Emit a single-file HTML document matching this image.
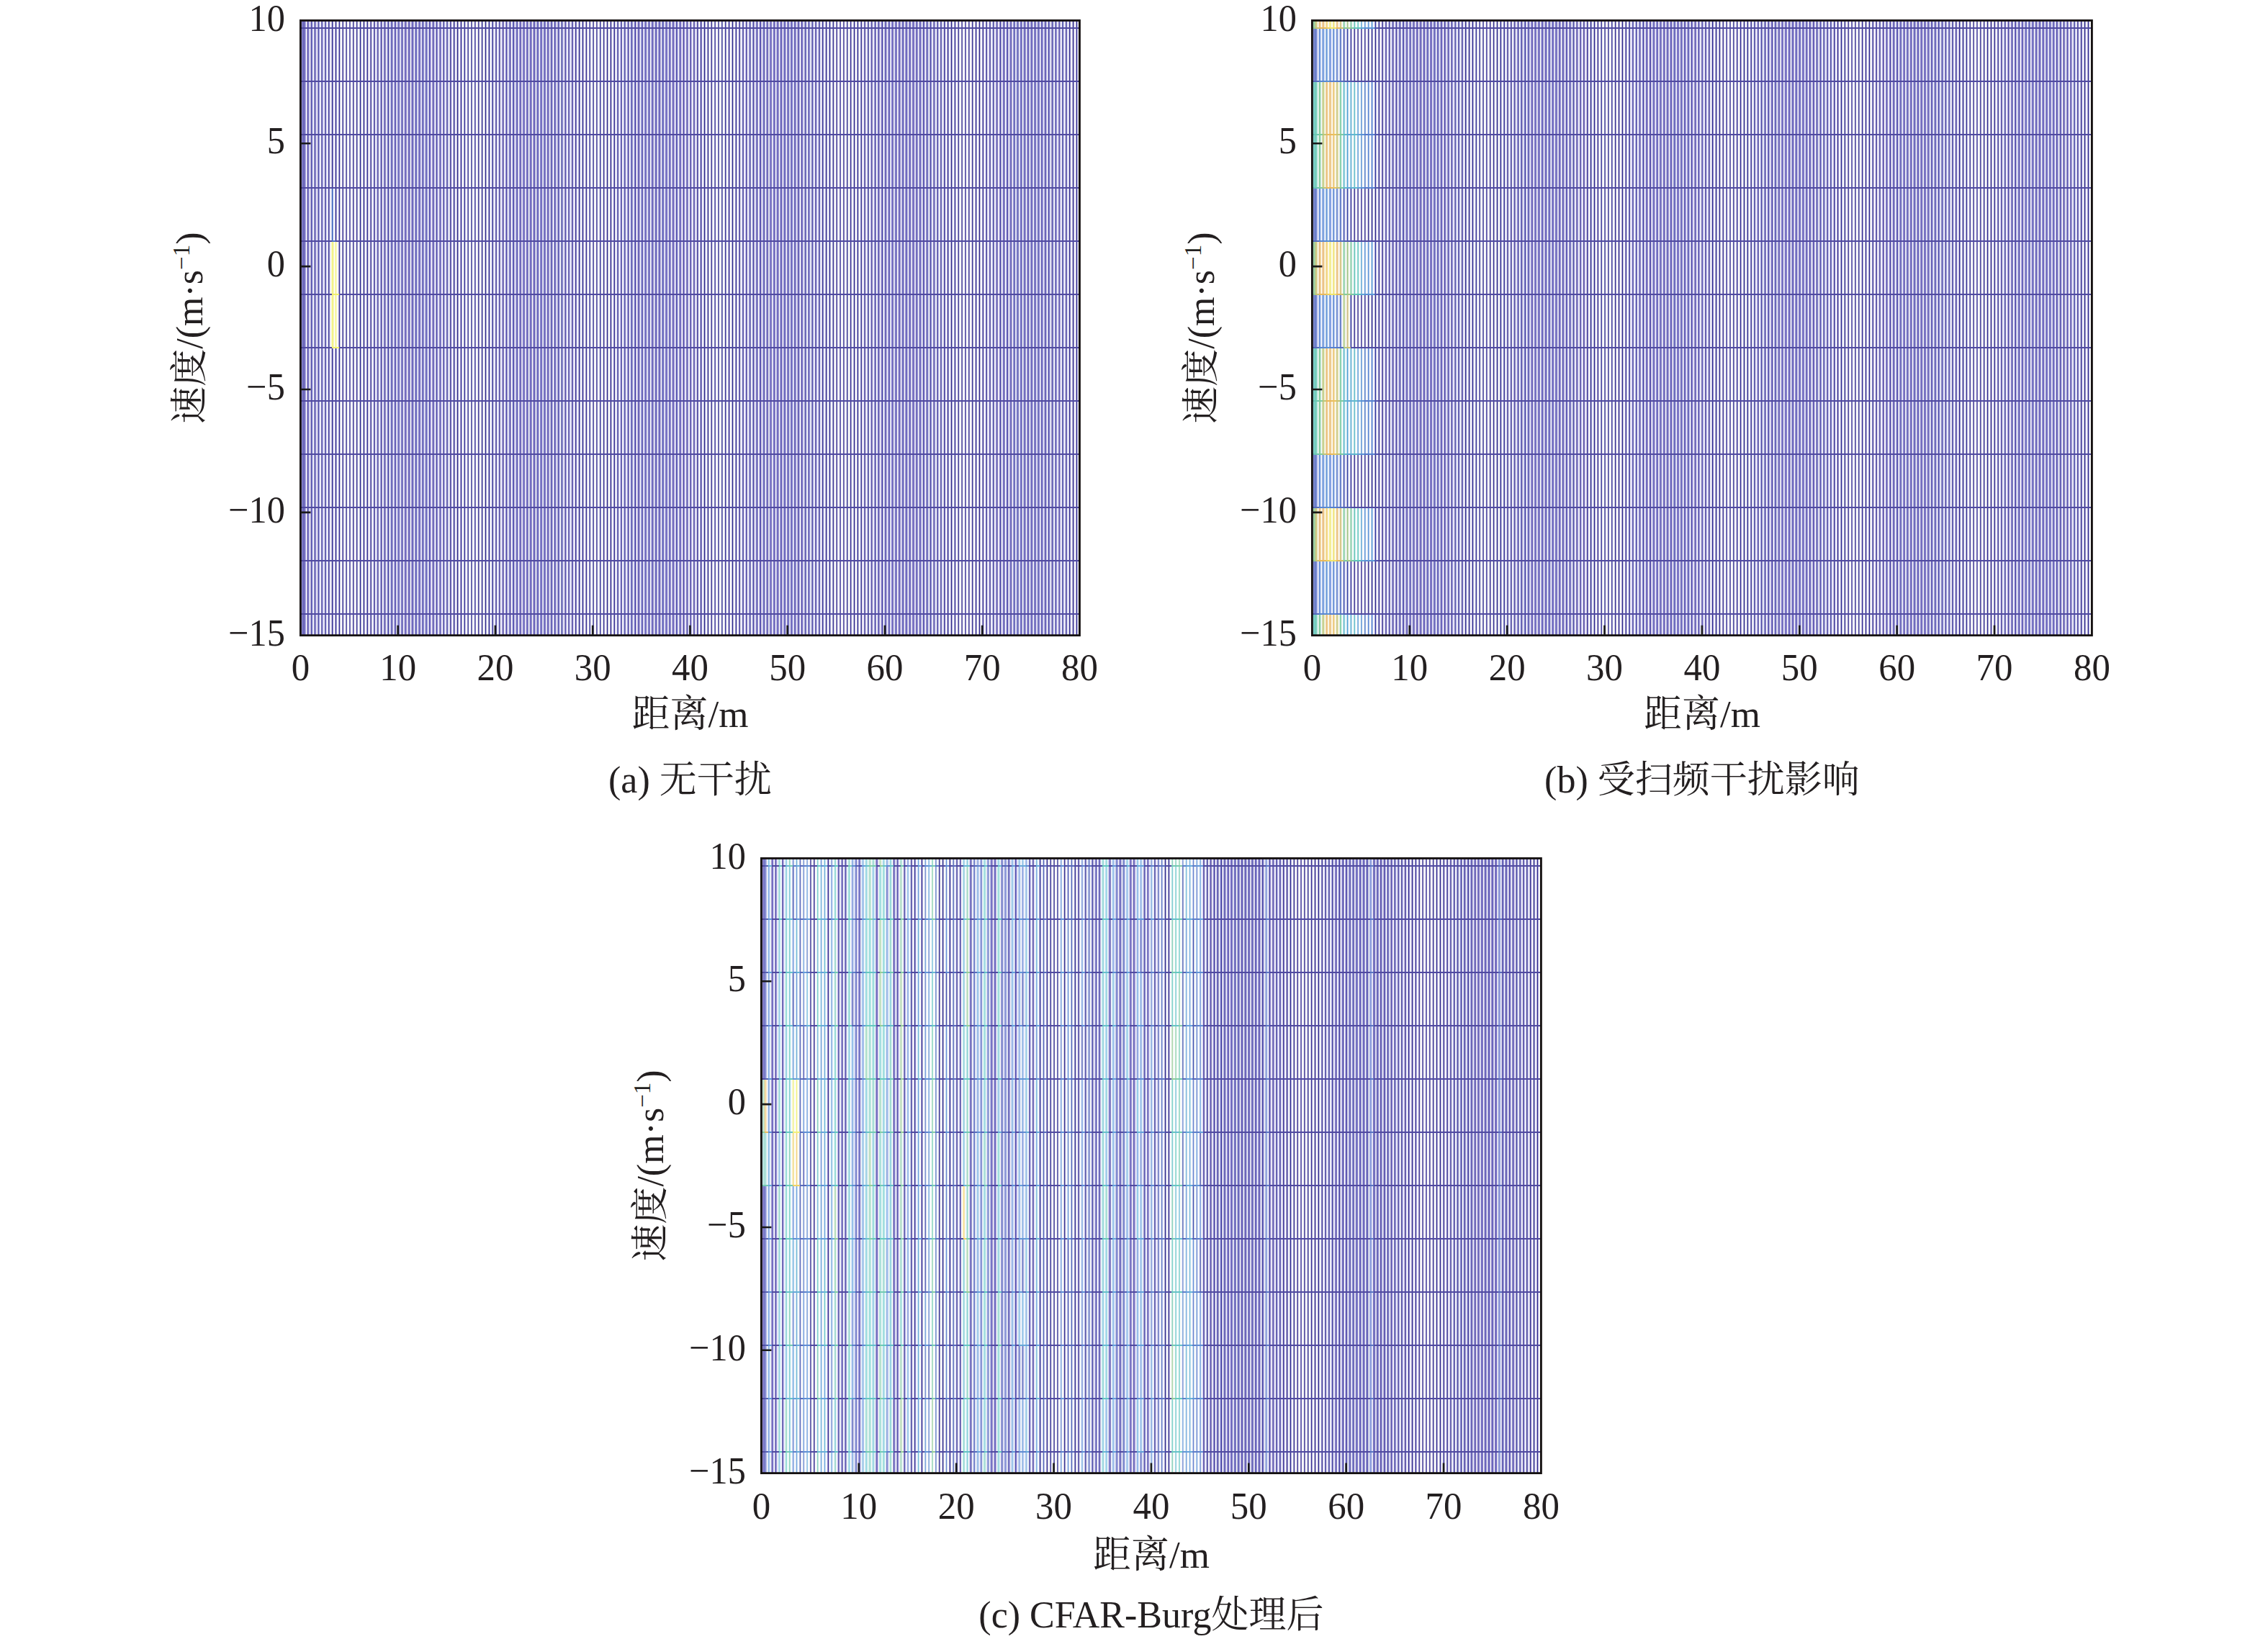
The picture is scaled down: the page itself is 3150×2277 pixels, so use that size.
<!DOCTYPE html>
<html lang="zh"><head><meta charset="utf-8"><title>figure</title>
<style>
html,body{margin:0;padding:0;background:#fff}
body{width:3150px;height:2277px;overflow:hidden}
.t text{font-family:"Liberation Serif","Noto Serif CJK SC",serif;font-size:53px;fill:#231f20}
</style></head><body>
<svg width="3150" height="2277" viewBox="0 0 3150 2277" style="display:block">
<rect width="3150" height="2277" fill="#fff"/>
<g shape-rendering="crispEdges"><path fill="#fcfcfc" d="M417 28h1v855h-1zM430 28h1v855h-1zM435 28h1v855h-1zM440 28h1v855h-1zM445 28h1v855h-1zM459 28h1v307h-1zM459 483h1v400h-1zM464 28h1v855h-1zM468 335h1v148h-1zM469 28h1v855h-1zM473 28h1v855h-1zM474 28h1v855h-1zM478 28h1v855h-1zM479 28h1v855h-1zM483 28h1v855h-1zM487 28h1v855h-1zM488 28h1v855h-1zM492 28h1v855h-1zM493 28h1v855h-1zM497 28h1v855h-1zM498 28h1v855h-1zM502 28h1v855h-1zM503 28h1v855h-1zM507 28h1v855h-1zM512 28h1v855h-1zM526 28h1v855h-1zM531 28h1v855h-1zM536 28h1v855h-1zM541 28h1v855h-1zM565 28h1v855h-1zM570 28h1v855h-1zM575 28h1v855h-1zM599 28h1v855h-1zM604 28h1v855h-1zM609 28h1v855h-1zM614 28h1v855h-1zM628 28h1v855h-1zM633 28h1v855h-1zM638 28h1v855h-1zM642 28h1v855h-1zM643 28h1v855h-1zM647 28h1v855h-1zM648 28h1v855h-1zM652 28h1v855h-1zM653 28h1v855h-1zM656 28h1v855h-1zM657 28h1v855h-1zM661 28h1v855h-1zM662 28h1v855h-1zM666 28h1v855h-1zM667 28h1v855h-1zM671 28h1v855h-1zM672 28h1v855h-1zM676 28h1v855h-1zM681 28h1v855h-1zM695 28h1v855h-1zM700 28h1v855h-1zM705 28h1v855h-1zM710 28h1v855h-1zM734 28h1v855h-1zM739 28h1v855h-1zM744 28h1v855h-1zM749 28h1v855h-1zM768 28h1v855h-1zM773 28h1v855h-1zM778 28h1v855h-1zM783 28h1v855h-1zM802 28h1v855h-1zM807 28h1v855h-1zM812 28h1v855h-1zM816 28h1v855h-1zM817 28h1v855h-1zM821 28h1v855h-1zM822 28h1v855h-1zM826 28h1v855h-1zM830 28h1v855h-1zM831 28h1v855h-1zM835 28h1v855h-1zM836 28h1v855h-1zM840 28h1v855h-1zM841 28h1v855h-1zM845 28h1v855h-1zM846 28h1v855h-1zM850 28h1v855h-1zM855 28h1v855h-1zM869 28h1v855h-1zM874 28h1v855h-1zM879 28h1v855h-1zM884 28h1v855h-1zM903 28h1v855h-1zM908 28h1v855h-1zM913 28h1v855h-1zM918 28h1v855h-1zM942 28h1v855h-1zM947 28h1v855h-1zM952 28h1v855h-1zM957 28h1v855h-1zM971 28h1v855h-1zM976 28h1v855h-1zM981 28h1v855h-1zM985 28h1v855h-1zM986 28h1v855h-1zM990 28h1v855h-1zM991 28h1v855h-1zM995 28h1v855h-1zM996 28h1v855h-1zM999 28h1v855h-1zM1000 28h1v855h-1zM1004 28h1v855h-1zM1005 28h1v855h-1zM1009 28h1v855h-1zM1010 28h1v855h-1zM1014 28h1v855h-1zM1015 28h1v855h-1zM1019 28h1v855h-1zM1024 28h1v855h-1zM1038 28h1v855h-1zM1043 28h1v855h-1zM1048 28h1v855h-1zM1053 28h1v855h-1zM1077 28h1v855h-1zM1082 28h1v855h-1zM1087 28h1v855h-1zM1111 28h1v855h-1zM1116 28h1v855h-1zM1121 28h1v855h-1zM1126 28h1v855h-1zM1145 28h1v855h-1zM1150 28h1v855h-1zM1155 28h1v855h-1zM1159 28h1v855h-1zM1160 28h1v855h-1zM1164 28h1v855h-1zM1165 28h1v855h-1zM1169 28h1v855h-1zM1173 28h1v855h-1zM1174 28h1v855h-1zM1178 28h1v855h-1zM1179 28h1v855h-1zM1183 28h1v855h-1zM1184 28h1v855h-1zM1188 28h1v855h-1zM1189 28h1v855h-1zM1193 28h1v855h-1zM1212 28h1v855h-1zM1217 28h1v855h-1zM1222 28h1v855h-1zM1227 28h1v855h-1zM1246 28h1v855h-1zM1251 28h1v855h-1zM1256 28h1v855h-1zM1261 28h1v855h-1zM1285 28h1v855h-1zM1290 28h1v855h-1zM1295 28h1v855h-1zM1300 28h1v855h-1zM1314 28h1v855h-1zM1319 28h1v855h-1zM1324 28h1v855h-1zM1328 28h1v855h-1zM1329 28h1v855h-1zM1333 28h1v855h-1zM1334 28h1v855h-1zM1338 28h1v855h-1zM1342 28h1v855h-1zM1343 28h1v855h-1zM1347 28h1v855h-1zM1348 28h1v855h-1zM1352 28h1v855h-1zM1353 28h1v855h-1zM1357 28h1v855h-1zM1358 28h1v855h-1zM1362 28h1v855h-1zM1367 28h1v855h-1zM1381 28h1v855h-1zM1386 28h1v855h-1zM1391 28h1v855h-1zM1396 28h1v855h-1zM1420 28h1v855h-1zM1425 28h1v855h-1zM1430 28h1v855h-1zM1454 28h1v855h-1zM1459 28h1v855h-1zM1464 28h1v855h-1zM1469 28h1v855h-1zM1488 28h1v855h-1zM1493 28h1v855h-1zM1498 28h1v855h-1z"/>
<path fill="#c6c6e4" d="M418 28h1v855h-1zM472 28h1v855h-1zM545 28h1v855h-1zM579 28h1v855h-1zM595 28h1v855h-1zM680 28h1v855h-1zM972 28h1v855h-1zM1011 28h1v855h-1zM1400 28h1v855h-1zM1434 28h1v855h-1zM1450 28h1v855h-1z"/>
<path fill="#847ecc" d="M419 28h1v855h-1zM423 28h1v855h-1zM597 28h1v855h-1zM731 28h1v855h-1zM926 28h1v855h-1zM1074 28h1v855h-1zM1269 28h1v855h-1z"/>
<path fill="#7872c0" d="M420 28h1v855h-1zM567 28h1v855h-1zM722 28h1v855h-1zM761 28h1v855h-1zM1065 28h1v855h-1zM1098 28h1v855h-1zM1104 28h1v855h-1zM1234 28h1v855h-1zM1264 28h1v855h-1zM1273 28h1v855h-1z"/>
<path fill="#6c6cba" d="M421 28h1v855h-1zM558 28h1v855h-1zM901 28h1v855h-1zM1409 28h1v855h-1zM1413 28h1v855h-1zM1476 28h1v855h-1z"/>
<path fill="#6660b4" d="M422 28h1v855h-1zM447 28h1v855h-1zM723 28h1v855h-1zM760 28h1v855h-1zM959 28h1v855h-1zM1103 28h1v855h-1zM1302 28h1v855h-1zM1471 28h1v855h-1z"/>
<path fill="#a8a8de" d="M424 28h1v855h-1zM612 28h1v855h-1zM890 28h1v855h-1zM1279 28h1v855h-1z"/>
<path fill="#f6f6fc" d="M425 28h1v855h-1zM454 28h1v855h-1zM468 28h1v307h-1zM468 483h1v400h-1zM484 28h1v855h-1zM517 28h1v855h-1zM560 28h1v855h-1zM580 28h1v855h-1zM677 28h1v855h-1zM686 28h1v855h-1zM715 28h1v855h-1zM788 28h1v855h-1zM797 28h1v855h-1zM811 28h1v855h-1zM864 28h1v855h-1zM937 28h1v855h-1zM1020 28h1v855h-1zM1029 28h1v855h-1zM1058 28h1v855h-1zM1072 28h1v855h-1zM1092 28h1v855h-1zM1140 28h1v855h-1zM1154 28h1v855h-1zM1168 28h1v855h-1zM1207 28h1v855h-1zM1280 28h1v855h-1zM1309 28h1v855h-1zM1339 28h1v855h-1zM1363 28h1v855h-1zM1372 28h1v855h-1zM1415 28h1v855h-1zM1435 28h1v855h-1zM1483 28h1v855h-1zM1497 28h1v855h-1z"/>
<path fill="#c0bade" d="M426 28h1v855h-1zM506 28h1v855h-1zM842 28h1v855h-1zM1146 28h1v855h-1zM1361 28h1v855h-1z"/>
<path fill="#4e48a8" d="M427 28h1v855h-1zM432 28h1v855h-1zM596 28h1v855h-1zM601 28h1v855h-1zM703 28h1v855h-1zM770 28h1v855h-1zM939 28h1v855h-1zM944 28h1v855h-1zM1108 28h1v855h-1zM1113 28h1v855h-1zM1215 28h1v855h-1zM1230 28h1v855h-1zM1282 28h1v855h-1zM1451 28h1v855h-1zM1456 28h1v855h-1z"/>
<path fill="#8a84cc" d="M428 28h1v855h-1zM557 28h1v855h-1zM757 28h1v855h-1zM771 28h1v855h-1zM900 28h1v855h-1zM1055 28h1v855h-1zM1114 28h1v855h-1zM1398 28h1v855h-1z"/>
<path fill="#babae4" d="M429 28h1v855h-1zM542 28h1v855h-1zM772 28h1v855h-1zM1078 28h1v855h-1z"/>
<path fill="#aea8d2" d="M431 28h1v855h-1zM709 28h1v855h-1zM1359 28h1v855h-1z"/>
<path fill="#9090d2" d="M433 28h1v855h-1zM538 28h1v855h-1zM588 28h1v855h-1zM1288 28h1v855h-1z"/>
<path fill="#c6c6ea" d="M434 28h1v855h-1zM537 28h1v855h-1zM777 28h1v855h-1zM880 28h1v855h-1zM904 28h1v855h-1zM1289 28h1v855h-1zM1378 28h1v855h-1z"/>
<path fill="#9696cc" d="M436 28h1v855h-1zM1021 28h1v855h-1zM1291 28h1v855h-1zM1317 28h1v855h-1z"/>
<path fill="#544ea8" d="M437 28h1v855h-1zM529 28h1v855h-1zM606 28h1v855h-1zM718 28h1v855h-1zM765 28h1v855h-1zM872 28h1v855h-1zM949 28h1v855h-1zM1041 28h1v855h-1zM1118 28h1v855h-1zM1292 28h1v855h-1zM1384 28h1v855h-1zM1461 28h1v855h-1z"/>
<path fill="#a29cd8" d="M438 28h1v855h-1zM533 28h1v855h-1zM1064 28h1v855h-1zM1388 28h1v855h-1zM1448 28h1v855h-1z"/>
<path fill="#d2d2f0" d="M439 28h1v855h-1zM532 28h1v855h-1zM875 28h1v855h-1zM1204 28h1v855h-1zM1218 28h1v855h-1zM1242 28h1v855h-1zM1294 28h1v855h-1zM1308 28h1v855h-1z"/>
<path fill="#847ec0" d="M441 28h1v855h-1zM559 28h1v855h-1zM969 28h1v855h-1zM1026 28h1v855h-1zM1296 28h1v855h-1zM1312 28h1v855h-1z"/>
<path fill="#5a5aae" d="M442 28h1v855h-1zM867 28h1v855h-1z"/>
<path fill="#aeaee4" d="M443 28h1v855h-1zM1059 28h1v855h-1z"/>
<path fill="#dedef6" d="M444 28h1v855h-1zM527 28h1v855h-1zM687 28h1v855h-1zM870 28h1v855h-1zM956 28h1v855h-1zM970 28h1v855h-1zM1030 28h1v855h-1zM1213 28h1v855h-1zM1299 28h1v855h-1zM1313 28h1v855h-1z"/>
<path fill="#6c6cb4" d="M446 28h1v855h-1zM621 28h1v855h-1zM1031 28h1v855h-1zM1301 28h1v855h-1z"/>
<path fill="#c0c0ea" d="M448 28h1v855h-1zM523 28h1v855h-1zM603 28h1v855h-1zM711 28h1v855h-1zM866 28h1v855h-1zM1303 28h1v855h-1zM1458 28h1v855h-1z"/>
<path fill="#eaeafc" d="M449 28h1v855h-1zM463 28h1v233h-1zM463 483h1v400h-1zM522 28h1v855h-1zM682 28h1v855h-1zM792 28h1v855h-1zM806 28h1v855h-1zM975 28h1v855h-1zM1025 28h1v855h-1zM1318 28h1v855h-1zM1368 28h1v855h-1zM1377 28h1v855h-1z"/>
<path fill="#eaeaf0" d="M450 28h1v855h-1zM1305 28h1v855h-1z"/>
<path fill="#5a54a8" d="M451 28h1v855h-1zM659 28h1v855h-1zM698 28h1v855h-1zM993 28h1v855h-1zM1032 28h1v855h-1zM1210 28h1v855h-1zM1306 28h1v855h-1z"/>
<path fill="#7272ba" d="M452 28h1v855h-1zM1307 28h1v855h-1zM1441 28h1v855h-1z"/>
<path fill="#d2d2f6" d="M453 28h1v855h-1z"/>
<path fill="#d8d8ea" d="M455 28h1v855h-1zM550 28h1v855h-1zM590 28h1v855h-1zM685 28h1v855h-1zM967 28h1v855h-1zM989 28h1v855h-1zM1006 28h1v855h-1zM1310 28h1v855h-1zM1405 28h1v855h-1zM1445 28h1v855h-1z"/>
<path fill="#423c9c" d="M456 28h1v855h-1zM645 28h1v855h-1zM684 28h1v855h-1zM1007 28h1v855h-1zM1311 28h1v855h-1z"/>
<path fill="#8484c0" d="M457 28h1v855h-1zM683 28h1v855h-1zM818 28h1v855h-1zM834 28h1v855h-1zM953 28h1v855h-1zM1042 28h1v855h-1z"/>
<path fill="#e4def6" d="M458 28h1v307h-1zM458 483h1v400h-1zM1382 28h1v855h-1z"/>
<path fill="#e4e4f6" d="M458 335h1v148h-1zM551 28h1v855h-1zM585 28h1v855h-1zM589 28h1v855h-1zM618 28h1v855h-1zM696 28h1v855h-1zM787 28h1v855h-1zM801 28h1v855h-1zM894 28h1v855h-1zM1039 28h1v855h-1zM1101 28h1v855h-1zM1130 28h1v855h-1zM1237 28h1v855h-1zM1440 28h1v855h-1zM1444 28h1v855h-1zM1473 28h1v855h-1z"/>
<path fill="#f6f6f6" d="M459 335h1v148h-1zM825 28h1v855h-1z"/>
<path fill="#c6c6de" d="M460 28h1v233h-1zM460 483h1v400h-1zM1192 28h1v855h-1z"/>
<path fill="#c6d2ea" d="M460 261h1v74h-1z"/>
<path fill="#fcfcc6" d="M460 335h1v148h-1zM465 335h1v148h-1z"/>
<path fill="#302a90" d="M461 28h1v233h-1zM461 483h1v400h-1zM500 28h1v855h-1zM640 28h1v855h-1zM679 28h1v855h-1zM809 28h1v855h-1zM973 28h1v855h-1zM1012 28h1v855h-1zM1152 28h1v855h-1zM1191 28h1v855h-1zM1316 28h1v855h-1zM1355 28h1v855h-1zM1495 28h1v855h-1z"/>
<path fill="#305aba" d="M461 261h1v74h-1z"/>
<path fill="#f0f084" d="M461 335h1v148h-1zM466 335h1v148h-1z"/>
<path fill="#9c96cc" d="M462 28h1v233h-1zM462 483h1v400h-1zM948 28h1v855h-1zM1047 28h1v855h-1z"/>
<path fill="#9caede" d="M462 261h1v74h-1z"/>
<path fill="#f6f690" d="M462 335h1v148h-1z"/>
<path fill="#eaf0fc" d="M463 261h1v74h-1z"/>
<path fill="#f6f6c0" d="M463 335h1v148h-1z"/>
<path fill="#b4aed8" d="M465 28h1v307h-1zM465 483h1v400h-1zM600 28h1v855h-1zM810 28h1v855h-1zM1187 28h1v855h-1zM1320 28h1v855h-1z"/>
<path fill="#302a8a" d="M466 28h1v307h-1zM466 483h1v400h-1zM505 28h1v855h-1zM635 28h1v855h-1zM674 28h1v855h-1zM804 28h1v855h-1zM843 28h1v855h-1zM848 28h1v855h-1zM978 28h1v855h-1zM1017 28h1v855h-1zM1147 28h1v855h-1zM1186 28h1v855h-1zM1321 28h1v855h-1zM1360 28h1v855h-1zM1490 28h1v855h-1z"/>
<path fill="#aeaed8" d="M467 28h1v307h-1zM467 483h1v400h-1zM743 28h1v855h-1zM943 28h1v855h-1zM1016 28h1v855h-1zM1052 28h1v855h-1zM1322 28h1v855h-1z"/>
<path fill="#fcfccc" d="M467 335h1v148h-1z"/>
<path fill="#9c9ccc" d="M470 28h1v855h-1zM605 28h1v855h-1zM678 28h1v855h-1zM1182 28h1v855h-1zM1325 28h1v855h-1zM1390 28h1v855h-1z"/>
<path fill="#3c3096" d="M471 28h1v855h-1zM1181 28h1v855h-1z"/>
<path fill="#8a84c0" d="M475 28h1v855h-1zM530 28h1v855h-1zM610 28h1v855h-1zM1330 28h1v855h-1zM1385 28h1v855h-1z"/>
<path fill="#4e489c" d="M476 28h1v855h-1zM515 28h1v855h-1zM625 28h1v855h-1zM1176 28h1v855h-1zM1331 28h1v855h-1zM1370 28h1v855h-1z"/>
<path fill="#dedef0" d="M477 28h1v855h-1zM516 28h1v855h-1zM725 28h1v855h-1zM758 28h1v855h-1zM759 28h1v855h-1zM1068 28h1v855h-1zM1175 28h1v855h-1zM1236 28h1v855h-1zM1270 28h1v855h-1zM1271 28h1v855h-1zM1332 28h1v855h-1zM1371 28h1v855h-1z"/>
<path fill="#7872b4" d="M480 28h1v855h-1zM525 28h1v855h-1zM1172 28h1v855h-1zM1335 28h1v855h-1z"/>
<path fill="#605aa8" d="M481 28h1v855h-1zM520 28h1v855h-1zM824 28h1v855h-1zM828 28h1v855h-1zM963 28h1v855h-1zM1171 28h1v855h-1zM1336 28h1v855h-1zM1375 28h1v855h-1z"/>
<path fill="#f0f0f6" d="M482 28h1v855h-1zM521 28h1v855h-1zM619 28h1v855h-1zM729 28h1v855h-1zM763 28h1v855h-1zM1033 28h1v855h-1zM1131 28h1v855h-1zM1170 28h1v855h-1zM1241 28h1v855h-1zM1266 28h1v855h-1zM1337 28h1v855h-1zM1376 28h1v855h-1zM1474 28h1v855h-1z"/>
<path fill="#6660ae" d="M485 28h1v855h-1zM693 28h1v855h-1zM863 28h1v855h-1zM1132 28h1v855h-1zM1167 28h1v855h-1zM1205 28h1v855h-1zM1340 28h1v855h-1z"/>
<path fill="#726cb4" d="M486 28h1v855h-1zM688 28h1v855h-1zM958 28h1v855h-1zM1037 28h1v855h-1zM1166 28h1v855h-1zM1341 28h1v855h-1z"/>
<path fill="#e4e4f0" d="M489 28h1v855h-1zM793 28h1v855h-1zM820 28h1v855h-1zM832 28h1v855h-1zM859 28h1v855h-1zM928 28h1v855h-1zM1067 28h1v855h-1zM1163 28h1v855h-1zM1344 28h1v855h-1z"/>
<path fill="#544ea2" d="M490 28h1v855h-1zM794 28h1v855h-1zM1162 28h1v855h-1zM1201 28h1v855h-1zM1345 28h1v855h-1z"/>
<path fill="#847eba" d="M491 28h1v855h-1zM699 28h1v855h-1zM1161 28h1v855h-1zM1346 28h1v855h-1z"/>
<path fill="#d8d2ea" d="M494 28h1v855h-1zM1197 28h1v855h-1zM1349 28h1v855h-1z"/>
<path fill="#423c96" d="M495 28h1v855h-1zM1157 28h1v855h-1zM1196 28h1v855h-1zM1350 28h1v855h-1z"/>
<path fill="#9696c6" d="M496 28h1v855h-1zM704 28h1v855h-1zM1156 28h1v855h-1zM1351 28h1v855h-1z"/>
<path fill="#c0c0de" d="M499 28h1v855h-1zM714 28h1v855h-1zM803 28h1v855h-1zM849 28h1v855h-1zM984 28h1v855h-1zM1281 28h1v855h-1z"/>
<path fill="#a8a8d2" d="M501 28h1v855h-1zM504 28h1v855h-1zM1151 28h1v855h-1zM1356 28h1v855h-1z"/>
<path fill="#f0f0fc" d="M508 28h1v855h-1zM546 28h1v855h-1zM594 28h1v855h-1zM623 28h1v855h-1zM637 28h1v855h-1zM691 28h1v855h-1zM851 28h1v855h-1zM860 28h1v855h-1zM889 28h1v855h-1zM923 28h1v855h-1zM966 28h1v855h-1zM980 28h1v855h-1zM1106 28h1v855h-1zM1135 28h1v855h-1zM1149 28h1v855h-1zM1194 28h1v855h-1zM1203 28h1v855h-1zM1232 28h1v855h-1zM1323 28h1v855h-1zM1449 28h1v855h-1zM1478 28h1v855h-1zM1492 28h1v855h-1z"/>
<path fill="#9090c6" d="M509 28h1v855h-1zM631 28h1v855h-1zM644 28h1v855h-1zM779 28h1v855h-1zM1008 28h1v855h-1zM1216 28h1v855h-1z"/>
<path fill="#3c3696" d="M510 28h1v855h-1zM799 28h1v855h-1zM814 28h1v855h-1zM838 28h1v855h-1zM853 28h1v855h-1zM1142 28h1v855h-1zM1326 28h1v855h-1zM1365 28h1v855h-1z"/>
<path fill="#d2cce4" d="M511 28h1v855h-1zM1141 28h1v855h-1zM1366 28h1v855h-1z"/>
<path fill="#eae4fc" d="M513 28h1v855h-1zM632 28h1v855h-1z"/>
<path fill="#7e78ba" d="M514 28h1v855h-1zM649 28h1v855h-1zM660 28h1v855h-1zM784 28h1v855h-1zM1211 28h1v855h-1z"/>
<path fill="#d8d8f6" d="M518 28h1v855h-1zM1139 28h1v855h-1zM1482 28h1v855h-1z"/>
<path fill="#6c66b4" d="M519 28h1v855h-1zM790 28h1v855h-1zM1066 28h1v855h-1zM1133 28h1v855h-1zM1374 28h1v855h-1z"/>
<path fill="#605aae" d="M524 28h1v855h-1zM620 28h1v855h-1zM785 28h1v855h-1zM892 28h1v855h-1zM1036 28h1v855h-1zM1128 28h1v855h-1zM1297 28h1v855h-1zM1379 28h1v855h-1z"/>
<path fill="#aeaede" d="M528 28h1v855h-1zM871 28h1v855h-1zM1110 28h1v855h-1zM1298 28h1v855h-1zM1402 28h1v855h-1zM1453 28h1v855h-1z"/>
<path fill="#4e48a2" d="M534 28h1v855h-1zM819 28h1v855h-1zM833 28h1v855h-1zM858 28h1v855h-1zM1046 28h1v855h-1zM1480 28h1v855h-1z"/>
<path fill="#a29ccc" d="M535 28h1v855h-1zM1460 28h1v855h-1z"/>
<path fill="#4842a2" d="M539 28h1v855h-1zM544 28h1v855h-1zM708 28h1v855h-1zM877 28h1v855h-1zM887 28h1v855h-1zM1051 28h1v855h-1zM1220 28h1v855h-1zM1389 28h1v855h-1zM1399 28h1v855h-1z"/>
<path fill="#b4b4d8" d="M540 28h1v855h-1zM673 28h1v855h-1zM675 28h1v855h-1zM977 28h1v855h-1zM1395 28h1v855h-1zM1455 28h1v855h-1z"/>
<path fill="#8484cc" d="M543 28h1v855h-1zM940 28h1v855h-1zM1243 28h1v855h-1zM1283 28h1v855h-1z"/>
<path fill="#aea8de" d="M547 28h1v855h-1zM767 28h1v855h-1zM955 28h1v855h-1zM1214 28h1v855h-1z"/>
<path fill="#7e78c6" d="M548 28h1v855h-1zM562 28h1v855h-1zM583 28h1v855h-1zM905 28h1v855h-1zM935 28h1v855h-1zM1060 28h1v855h-1zM1248 28h1v855h-1zM1278 28h1v855h-1zM1403 28h1v855h-1zM1438 28h1v855h-1z"/>
<path fill="#5a54ae" d="M549 28h1v855h-1zM611 28h1v855h-1zM934 28h1v855h-1zM954 28h1v855h-1zM1123 28h1v855h-1zM1277 28h1v855h-1zM1404 28h1v855h-1zM1466 28h1v855h-1z"/>
<path fill="#9c96d8" d="M552 28h1v855h-1zM607 28h1v855h-1zM762 28h1v855h-1zM950 28h1v855h-1zM1219 28h1v855h-1z"/>
<path fill="#7272c0" d="M553 28h1v855h-1zM578 28h1v855h-1zM587 28h1v855h-1zM910 28h1v855h-1zM921 28h1v855h-1zM930 28h1v855h-1zM1253 28h1v855h-1zM1408 28h1v855h-1zM1442 28h1v855h-1z"/>
<path fill="#726cba" d="M554 28h1v855h-1zM586 28h1v855h-1zM897 28h1v855h-1zM929 28h1v855h-1zM964 28h1v855h-1z"/>
<path fill="#eaeaf6" d="M555 28h1v855h-1zM651 28h1v855h-1zM658 28h1v855h-1zM690 28h1v855h-1zM720 28h1v855h-1zM754 28h1v855h-1zM865 28h1v855h-1zM898 28h1v855h-1zM932 28h1v855h-1zM961 28h1v855h-1zM962 28h1v855h-1zM1001 28h1v855h-1zM1063 28h1v855h-1zM1097 28h1v855h-1zM1208 28h1v855h-1zM1275 28h1v855h-1zM1304 28h1v855h-1zM1410 28h1v855h-1z"/>
<path fill="#d8d8f0" d="M556 28h1v855h-1zM584 28h1v855h-1zM701 28h1v855h-1zM899 28h1v855h-1zM927 28h1v855h-1zM1044 28h1v855h-1zM1102 28h1v855h-1zM1125 28h1v855h-1zM1411 28h1v855h-1zM1439 28h1v855h-1zM1468 28h1v855h-1z"/>
<path fill="#ccc6ea" d="M561 28h1v855h-1zM1416 28h1v855h-1z"/>
<path fill="#6c66ba" d="M563 28h1v855h-1zM568 28h1v855h-1zM573 28h1v855h-1zM732 28h1v855h-1zM737 28h1v855h-1zM742 28h1v855h-1zM906 28h1v855h-1zM911 28h1v855h-1zM916 28h1v855h-1zM1075 28h1v855h-1zM1080 28h1v855h-1zM1085 28h1v855h-1zM1244 28h1v855h-1zM1249 28h1v855h-1zM1254 28h1v855h-1zM1272 28h1v855h-1zM1418 28h1v855h-1zM1423 28h1v855h-1zM1428 28h1v855h-1z"/>
<path fill="#9690cc" d="M564 28h1v855h-1zM576 28h1v855h-1zM907 28h1v855h-1zM974 28h1v855h-1z"/>
<path fill="#bab4de" d="M566 28h1v855h-1zM917 28h1v855h-1zM1112 28h1v855h-1z"/>
<path fill="#a2a2d2" d="M569 28h1v855h-1zM878 28h1v855h-1zM1117 28h1v855h-1zM1190 28h1v855h-1zM1424 28h1v855h-1z"/>
<path fill="#a8a2d8" d="M571 28h1v855h-1zM912 28h1v855h-1zM1426 28h1v855h-1z"/>
<path fill="#726cc0" d="M572 28h1v855h-1zM582 28h1v855h-1zM727 28h1v855h-1zM741 28h1v855h-1zM747 28h1v855h-1zM751 28h1v855h-1zM756 28h1v855h-1zM896 28h1v855h-1zM915 28h1v855h-1zM925 28h1v855h-1zM1070 28h1v855h-1zM1084 28h1v855h-1zM1090 28h1v855h-1zM1094 28h1v855h-1zM1099 28h1v855h-1zM1239 28h1v855h-1zM1258 28h1v855h-1zM1263 28h1v855h-1zM1268 28h1v855h-1zM1427 28h1v855h-1zM1432 28h1v855h-1zM1433 28h1v855h-1zM1437 28h1v855h-1z"/>
<path fill="#b4b4de" d="M574 28h1v855h-1zM909 28h1v855h-1zM1153 28h1v855h-1zM1429 28h1v855h-1z"/>
<path fill="#6c6cc0" d="M577 28h1v855h-1zM746 28h1v855h-1zM920 28h1v855h-1zM1089 28h1v855h-1z"/>
<path fill="#847ec6" d="M581 28h1v855h-1zM886 28h1v855h-1zM902 28h1v855h-1zM924 28h1v855h-1zM1109 28h1v855h-1zM1229 28h1v855h-1zM1452 28h1v855h-1z"/>
<path fill="#605ab4" d="M591 28h1v855h-1zM1446 28h1v855h-1z"/>
<path fill="#7878c6" d="M592 28h1v855h-1zM891 28h1v855h-1zM1095 28h1v855h-1zM1447 28h1v855h-1z"/>
<path fill="#a2a2d8" d="M593 28h1v855h-1zM781 28h1v855h-1zM914 28h1v855h-1zM1045 28h1v855h-1z"/>
<path fill="#b4aee4" d="M598 28h1v855h-1zM716 28h1v855h-1zM786 28h1v855h-1zM1383 28h1v855h-1z"/>
<path fill="#908acc" d="M602 28h1v855h-1zM1076 28h1v855h-1zM1224 28h1v855h-1zM1262 28h1v855h-1z"/>
<path fill="#ccccf0" d="M608 28h1v855h-1zM622 28h1v855h-1zM692 28h1v855h-1zM706 28h1v855h-1zM1049 28h1v855h-1zM1477 28h1v855h-1z"/>
<path fill="#ded8f6" d="M613 28h1v855h-1zM627 28h1v855h-1zM1373 28h1v855h-1z"/>
<path fill="#7872ba" d="M615 28h1v855h-1zM795 28h1v855h-1zM868 28h1v855h-1zM1200 28h1v855h-1zM1240 28h1v855h-1zM1470 28h1v855h-1z"/>
<path fill="#6060ae" d="M616 28h1v855h-1zM1475 28h1v855h-1z"/>
<path fill="#babaea" d="M617 28h1v855h-1zM1397 28h1v855h-1z"/>
<path fill="#dedeea" d="M624 28h1v855h-1zM663 28h1v855h-1zM1028 28h1v855h-1zM1479 28h1v855h-1z"/>
<path fill="#7e78c0" d="M626 28h1v855h-1zM1071 28h1v855h-1zM1267 28h1v855h-1zM1369 28h1v855h-1zM1481 28h1v855h-1z"/>
<path fill="#cccce4" d="M629 28h1v855h-1zM668 28h1v855h-1zM764 28h1v855h-1zM1023 28h1v855h-1zM1158 28h1v855h-1zM1180 28h1v855h-1zM1231 28h1v855h-1zM1484 28h1v855h-1z"/>
<path fill="#363090" d="M630 28h1v855h-1zM669 28h1v855h-1zM983 28h1v855h-1zM1022 28h1v855h-1zM1485 28h1v855h-1z"/>
<path fill="#babad8" d="M634 28h1v855h-1zM1018 28h1v855h-1zM1489 28h1v855h-1z"/>
<path fill="#a8a2d2" d="M636 28h1v855h-1zM639 28h1v855h-1zM774 28h1v855h-1zM847 28h1v855h-1zM1013 28h1v855h-1zM1221 28h1v855h-1zM1491 28h1v855h-1zM1494 28h1v855h-1z"/>
<path fill="#babade" d="M641 28h1v855h-1zM769 28h1v855h-1zM1185 28h1v855h-1zM1226 28h1v855h-1zM1260 28h1v855h-1zM1421 28h1v855h-1zM1496 28h1v855h-1z"/>
<path fill="#d2d2ea" d="M646 28h1v855h-1zM719 28h1v855h-1zM753 28h1v855h-1zM933 28h1v855h-1zM1062 28h1v855h-1zM1096 28h1v855h-1zM1276 28h1v855h-1z"/>
<path fill="#5454a2" d="M650 28h1v855h-1zM1002 28h1v855h-1z"/>
<path fill="#6c66ae" d="M654 28h1v855h-1zM694 28h1v855h-1zM789 28h1v855h-1zM998 28h1v855h-1z"/>
<path fill="#6666ae" d="M655 28h1v855h-1zM997 28h1v855h-1zM1206 28h1v855h-1z"/>
<path fill="#48429c" d="M664 28h1v855h-1zM968 28h1v855h-1zM988 28h1v855h-1zM1027 28h1v855h-1z"/>
<path fill="#908ac0" d="M665 28h1v855h-1zM987 28h1v855h-1z"/>
<path fill="#a2a2cc" d="M670 28h1v855h-1zM982 28h1v855h-1z"/>
<path fill="#5a54a2" d="M689 28h1v855h-1z"/>
<path fill="#bab4e4" d="M697 28h1v855h-1zM885 28h1v855h-1zM1284 28h1v855h-1zM1472 28h1v855h-1z"/>
<path fill="#a8a2de" d="M702 28h1v855h-1zM936 28h1v855h-1zM1233 28h1v855h-1zM1467 28h1v855h-1z"/>
<path fill="#9696d2" d="M707 28h1v855h-1zM1119 28h1v855h-1zM1274 28h1v855h-1zM1431 28h1v855h-1zM1462 28h1v855h-1z"/>
<path fill="#8a8acc" d="M712 28h1v855h-1zM750 28h1v855h-1zM1457 28h1v855h-1z"/>
<path fill="#423ca2" d="M713 28h1v855h-1zM882 28h1v855h-1zM1056 28h1v855h-1zM1225 28h1v855h-1zM1394 28h1v855h-1z"/>
<path fill="#7e7ec6" d="M717 28h1v855h-1zM766 28h1v855h-1z"/>
<path fill="#a29cde" d="M721 28h1v855h-1z"/>
<path fill="#e4def0" d="M724 28h1v855h-1zM1136 28h1v855h-1z"/>
<path fill="#908ad2" d="M726 28h1v855h-1zM881 28h1v855h-1zM945 28h1v855h-1zM1069 28h1v855h-1zM1443 28h1v855h-1z"/>
<path fill="#7878c0" d="M728 28h1v855h-1zM755 28h1v855h-1zM1138 28h1v855h-1z"/>
<path fill="#d2ccea" d="M730 28h1v855h-1z"/>
<path fill="#8a8ac6" d="M733 28h1v855h-1zM1143 28h1v855h-1zM1195 28h1v855h-1zM1465 28h1v855h-1z"/>
<path fill="#c0c0e4" d="M735 28h1v855h-1zM748 28h1v855h-1zM938 28h1v855h-1z"/>
<path fill="#7872c6" d="M736 28h1v855h-1zM752 28h1v855h-1zM1079 28h1v855h-1zM1422 28h1v855h-1z"/>
<path fill="#9c9cd2" d="M738 28h1v855h-1zM745 28h1v855h-1zM805 28h1v855h-1z"/>
<path fill="#aea8d8" d="M740 28h1v855h-1zM1286 28h1v855h-1z"/>
<path fill="#4e4ea8" d="M775 28h1v855h-1zM1287 28h1v855h-1z"/>
<path fill="#9690d2" d="M776 28h1v855h-1zM931 28h1v855h-1zM1050 28h1v855h-1zM1393 28h1v855h-1z"/>
<path fill="#5454a8" d="M780 28h1v855h-1zM1061 28h1v855h-1z"/>
<path fill="#d8d2f0" d="M782 28h1v855h-1zM1387 28h1v855h-1z"/>
<path fill="#c6c6f0" d="M791 28h1v855h-1zM1035 28h1v855h-1zM1134 28h1v855h-1z"/>
<path fill="#d8d2f6" d="M796 28h1v855h-1zM861 28h1v855h-1z"/>
<path fill="#d2d2e4" d="M798 28h1v855h-1zM837 28h1v855h-1zM854 28h1v855h-1z"/>
<path fill="#8a84c6" d="M800 28h1v855h-1zM1093 28h1v855h-1zM1245 28h1v855h-1z"/>
<path fill="#aeaed2" d="M808 28h1v855h-1zM844 28h1v855h-1z"/>
<path fill="#9c96c6" d="M813 28h1v855h-1zM839 28h1v855h-1z"/>
<path fill="#ccc6e4" d="M815 28h1v855h-1zM888 28h1v855h-1zM1107 28h1v855h-1z"/>
<path fill="#7272b4" d="M823 28h1v855h-1zM829 28h1v855h-1zM1380 28h1v855h-1z"/>
<path fill="#f6f0f6" d="M827 28h1v855h-1z"/>
<path fill="#908ac6" d="M852 28h1v855h-1zM873 28h1v855h-1zM1122 28h1v855h-1zM1486 28h1v855h-1z"/>
<path fill="#e4e4fc" d="M856 28h1v855h-1zM1144 28h1v855h-1zM1199 28h1v855h-1zM1487 28h1v855h-1z"/>
<path fill="#7878ba" d="M857 28h1v855h-1zM992 28h1v855h-1zM1127 28h1v855h-1z"/>
<path fill="#6666b4" d="M862 28h1v855h-1z"/>
<path fill="#9c9cd8" d="M876 28h1v855h-1zM1105 28h1v855h-1zM1293 28h1v855h-1zM1407 28h1v855h-1z"/>
<path fill="#bab4d8" d="M883 28h1v855h-1z"/>
<path fill="#ded8f0" d="M893 28h1v855h-1z"/>
<path fill="#9696d8" d="M895 28h1v855h-1z"/>
<path fill="#9090cc" d="M919 28h1v855h-1zM1419 28h1v855h-1z"/>
<path fill="#ccccea" d="M922 28h1v855h-1zM1073 28h1v855h-1zM1120 28h1v855h-1zM1265 28h1v855h-1zM1463 28h1v855h-1z"/>
<path fill="#b4b4e4" d="M941 28h1v855h-1zM1040 28h1v855h-1zM1129 28h1v855h-1zM1228 28h1v855h-1z"/>
<path fill="#c6c0ea" d="M946 28h1v855h-1zM1223 28h1v855h-1z"/>
<path fill="#d2ccf0" d="M951 28h1v855h-1zM965 28h1v855h-1z"/>
<path fill="#c0baea" d="M960 28h1v855h-1zM1054 28h1v855h-1zM1209 28h1v855h-1z"/>
<path fill="#a8a8d8" d="M979 28h1v855h-1zM1083 28h1v855h-1zM1255 28h1v855h-1z"/>
<path fill="#f0eaf6" d="M994 28h1v855h-1z"/>
<path fill="#7e7eba" d="M1003 28h1v855h-1z"/>
<path fill="#f0eafc" d="M1034 28h1v855h-1z"/>
<path fill="#c6c0de" d="M1057 28h1v855h-1zM1315 28h1v855h-1zM1354 28h1v855h-1z"/>
<path fill="#a29cd2" d="M1081 28h1v855h-1zM1148 28h1v855h-1zM1257 28h1v855h-1z"/>
<path fill="#b4aede" d="M1086 28h1v855h-1zM1252 28h1v855h-1z"/>
<path fill="#9c96d2" d="M1088 28h1v855h-1zM1250 28h1v855h-1z"/>
<path fill="#c6c0e4" d="M1091 28h1v855h-1zM1247 28h1v855h-1zM1327 28h1v855h-1z"/>
<path fill="#8a8ad2" d="M1100 28h1v855h-1zM1412 28h1v855h-1z"/>
<path fill="#c0bae4" d="M1115 28h1v855h-1z"/>
<path fill="#a2a2de" d="M1124 28h1v855h-1z"/>
<path fill="#4e4ea2" d="M1137 28h1v855h-1z"/>
<path fill="#8a8ac0" d="M1177 28h1v855h-1zM1499 28h1v855h-1z"/>
<path fill="#fcf6fc" d="M1198 28h1v855h-1z"/>
<path fill="#eae4f0" d="M1202 28h1v855h-1z"/>
<path fill="#6060b4" d="M1235 28h1v855h-1z"/>
<path fill="#9690d8" d="M1238 28h1v855h-1z"/>
<path fill="#6c66c0" d="M1259 28h1v855h-1z"/>
<path fill="#9690c6" d="M1364 28h1v855h-1z"/>
<path fill="#ccc6f0" d="M1392 28h1v855h-1z"/>
<path fill="#f6f0fc" d="M1401 28h1v855h-1z"/>
<path fill="#eae4f6" d="M1406 28h1v855h-1z"/>
<path fill="#7e7ec0" d="M1414 28h1v855h-1z"/>
<path fill="#7e7ecc" d="M1417 28h1v855h-1z"/>
<path fill="#8484c6" d="M1436 28h1v855h-1z"/>
<path fill="#504aa0" d="M417.40 38.15h1082.05v1.90h-1082.05zM417.40 112.10h1082.05v1.90h-1082.05zM417.40 186.05h1082.05v1.90h-1082.05zM417.40 260.00h1082.05v1.90h-1082.05zM417.40 333.95h43.48v1.90h-43.48zM465.71 333.95h1033.74v1.90h-1033.74zM417.40 407.90h43.48v1.90h-43.48zM470.54 407.90h1028.91v1.90h-1028.91zM417.40 481.85h43.48v1.90h-43.48zM470.54 481.85h1028.91v1.90h-1028.91zM417.40 555.80h1082.05v1.90h-1082.05zM417.40 629.75h1082.05v1.90h-1082.05zM417.40 703.70h1082.05v1.90h-1082.05zM417.40 777.65h1082.05v1.90h-1082.05zM417.40 851.60h1082.05v1.90h-1082.05z"/>
<path fill="#5174c6" d="M460.88 333.95h4.83v1.90h-4.83z"/>
<path fill="#f0f06f" d="M460.88 407.90h9.66v1.90h-9.66zM460.88 481.85h9.66v1.90h-9.66z"/></g>
<rect x="417.40" y="28.45" width="1082.05" height="854.25" fill="none" stroke="#151111" stroke-width="2.85"/>
<path d="M552.66 882.70v-14M687.91 882.70v-14M823.17 882.70v-14M958.43 882.70v-14M1093.68 882.70v-14M1228.94 882.70v-14M1364.19 882.70v-14M417.40 199.30h14M417.40 370.15h14M417.40 541.00h14M417.40 711.85h14" stroke="#1a1a1a" stroke-width="2.6" fill="none"/>
<g class="t">
<text transform="translate(417.4 945.0) scale(0.96 1)" text-anchor="middle">0</text>
<text transform="translate(552.7 945.0) scale(0.96 1)" text-anchor="middle">10</text>
<text transform="translate(687.9 945.0) scale(0.96 1)" text-anchor="middle">20</text>
<text transform="translate(823.2 945.0) scale(0.96 1)" text-anchor="middle">30</text>
<text transform="translate(958.4 945.0) scale(0.96 1)" text-anchor="middle">40</text>
<text transform="translate(1093.7 945.0) scale(0.96 1)" text-anchor="middle">50</text>
<text transform="translate(1228.9 945.0) scale(0.96 1)" text-anchor="middle">60</text>
<text transform="translate(1364.2 945.0) scale(0.96 1)" text-anchor="middle">70</text>
<text transform="translate(1499.5 945.0) scale(0.96 1)" text-anchor="middle">80</text>
<text transform="translate(395.9 42.5) scale(0.95 1)" text-anchor="end">10</text>
<text transform="translate(395.9 213.3) scale(0.95 1)" text-anchor="end">5</text>
<text transform="translate(395.9 384.1) scale(0.95 1)" text-anchor="end">0</text>
<text transform="translate(395.9 555.0) scale(0.95 1)" text-anchor="end">−5</text>
<text transform="translate(395.9 725.9) scale(0.95 1)" text-anchor="end">−10</text>
<text transform="translate(395.9 896.7) scale(0.95 1)" text-anchor="end">−15</text>
<text x="958.4" y="1010.0" text-anchor="middle">距离/m</text>
<text x="958.4" y="1100.7" text-anchor="middle" style="font-size:52px">(a) 无干扰</text>
<text transform="translate(280.9 455.6) rotate(-90)" text-anchor="middle" style="font-size:52px">速度/(m·s<tspan font-size="33" dy="-18">−1</tspan><tspan dy="18">)</tspan></text>
</g>
<g shape-rendering="crispEdges"><path fill="#fcfcfc" d="M1822 28h1v855h-1zM1835 28h1v855h-1zM1840 28h1v855h-1zM1845 28h1v855h-1zM1850 28h1v855h-1zM1864 39h1v296h-1zM1864 483h1v222h-1zM1864 779h1v104h-1zM1869 28h1v855h-1zM1874 28h1v855h-1zM1878 39h1v74h-1zM1878 261h1v74h-1zM1878 409h1v74h-1zM1878 631h1v74h-1zM1878 779h1v74h-1zM1879 28h1v855h-1zM1883 39h1v296h-1zM1883 409h1v296h-1zM1883 779h1v104h-1zM1884 28h1v855h-1zM1888 28h1v855h-1zM1892 28h1v855h-1zM1893 28h1v855h-1zM1897 28h1v855h-1zM1898 28h1v855h-1zM1902 28h1v855h-1zM1903 28h1v855h-1zM1907 28h1v855h-1zM1908 39h1v74h-1zM1908 261h1v74h-1zM1908 409h1v74h-1zM1908 631h1v74h-1zM1908 779h1v74h-1zM1912 28h1v855h-1zM1917 28h1v855h-1zM1931 28h1v855h-1zM1936 28h1v855h-1zM1941 28h1v855h-1zM1946 28h1v855h-1zM1970 28h1v855h-1zM1975 28h1v855h-1zM1980 28h1v855h-1zM2004 28h1v855h-1zM2009 28h1v855h-1zM2014 28h1v855h-1zM2019 28h1v855h-1zM2033 28h1v855h-1zM2038 28h1v855h-1zM2043 28h1v855h-1zM2047 28h1v855h-1zM2048 28h1v855h-1zM2052 28h1v855h-1zM2053 28h1v855h-1zM2057 28h1v855h-1zM2058 28h1v855h-1zM2061 28h1v855h-1zM2062 28h1v855h-1zM2066 28h1v855h-1zM2067 28h1v855h-1zM2071 28h1v855h-1zM2072 28h1v855h-1zM2076 28h1v855h-1zM2077 28h1v855h-1zM2081 28h1v855h-1zM2086 28h1v855h-1zM2100 28h1v855h-1zM2105 28h1v855h-1zM2110 28h1v855h-1zM2115 28h1v855h-1zM2139 28h1v855h-1zM2144 28h1v855h-1zM2149 28h1v855h-1zM2154 28h1v855h-1zM2173 28h1v855h-1zM2178 28h1v855h-1zM2183 28h1v855h-1zM2188 28h1v855h-1zM2207 28h1v855h-1zM2212 28h1v855h-1zM2217 28h1v855h-1zM2221 28h1v855h-1zM2222 28h1v855h-1zM2226 28h1v855h-1zM2227 28h1v855h-1zM2231 28h1v855h-1zM2235 28h1v855h-1zM2236 28h1v855h-1zM2240 28h1v855h-1zM2241 28h1v855h-1zM2245 28h1v855h-1zM2246 28h1v855h-1zM2250 28h1v855h-1zM2251 28h1v855h-1zM2255 28h1v855h-1zM2260 28h1v855h-1zM2274 28h1v855h-1zM2279 28h1v855h-1zM2284 28h1v855h-1zM2289 28h1v855h-1zM2308 28h1v855h-1zM2313 28h1v855h-1zM2318 28h1v855h-1zM2323 28h1v855h-1zM2347 28h1v855h-1zM2352 28h1v855h-1zM2357 28h1v855h-1zM2362 28h1v855h-1zM2376 28h1v855h-1zM2381 28h1v855h-1zM2386 28h1v855h-1zM2390 28h1v855h-1zM2391 28h1v855h-1zM2395 28h1v855h-1zM2396 28h1v855h-1zM2400 28h1v855h-1zM2401 28h1v855h-1zM2404 28h1v855h-1zM2405 28h1v855h-1zM2409 28h1v855h-1zM2410 28h1v855h-1zM2414 28h1v855h-1zM2415 28h1v855h-1zM2419 28h1v855h-1zM2420 28h1v855h-1zM2424 28h1v855h-1zM2429 28h1v855h-1zM2443 28h1v855h-1zM2448 28h1v855h-1zM2453 28h1v855h-1zM2458 28h1v855h-1zM2482 28h1v855h-1zM2487 28h1v855h-1zM2492 28h1v855h-1zM2516 28h1v855h-1zM2521 28h1v855h-1zM2526 28h1v855h-1zM2531 28h1v855h-1zM2550 28h1v855h-1zM2555 28h1v855h-1zM2560 28h1v855h-1zM2564 28h1v855h-1zM2565 28h1v855h-1zM2569 28h1v855h-1zM2570 28h1v855h-1zM2574 28h1v855h-1zM2578 28h1v855h-1zM2579 28h1v855h-1zM2583 28h1v855h-1zM2584 28h1v855h-1zM2588 28h1v855h-1zM2589 28h1v855h-1zM2593 28h1v855h-1zM2594 28h1v855h-1zM2598 28h1v855h-1zM2617 28h1v855h-1zM2622 28h1v855h-1zM2627 28h1v855h-1zM2632 28h1v855h-1zM2651 28h1v855h-1zM2656 28h1v855h-1zM2661 28h1v855h-1zM2666 28h1v855h-1zM2690 28h1v855h-1zM2695 28h1v855h-1zM2700 28h1v855h-1zM2705 28h1v855h-1zM2719 28h1v855h-1zM2724 28h1v855h-1zM2729 28h1v855h-1zM2733 28h1v855h-1zM2734 28h1v855h-1zM2738 28h1v855h-1zM2739 28h1v855h-1zM2743 28h1v855h-1zM2747 28h1v855h-1zM2748 28h1v855h-1zM2752 28h1v855h-1zM2753 28h1v855h-1zM2757 28h1v855h-1zM2758 28h1v855h-1zM2762 28h1v855h-1zM2763 28h1v855h-1zM2767 28h1v855h-1zM2772 28h1v855h-1zM2786 28h1v855h-1zM2791 28h1v855h-1zM2796 28h1v855h-1zM2801 28h1v855h-1zM2825 28h1v855h-1zM2830 28h1v855h-1zM2835 28h1v855h-1zM2859 28h1v855h-1zM2864 28h1v855h-1zM2869 28h1v855h-1zM2874 28h1v855h-1zM2893 28h1v855h-1zM2898 28h1v855h-1zM2903 28h1v855h-1z"/>
<path fill="#d2ead8" d="M1823 28h1v11h-1zM1823 335h1v74h-1zM1823 705h1v74h-1zM1831 113h1v148h-1zM1831 483h1v148h-1zM1831 853h1v30h-1z"/>
<path fill="#c6ccea" d="M1823 39h1v74h-1zM1823 261h1v74h-1zM1823 409h1v74h-1zM1823 631h1v74h-1zM1823 779h1v74h-1z"/>
<path fill="#c6eae4" d="M1823 113h1v148h-1zM1823 483h1v148h-1zM1823 853h1v30h-1z"/>
<path fill="#a2d2a8" d="M1824 28h1v11h-1zM1824 335h1v74h-1zM1824 705h1v74h-1z"/>
<path fill="#7e8ad2" d="M1824 39h1v74h-1zM1824 261h1v74h-1zM1824 409h1v74h-1zM1824 631h1v74h-1zM1824 779h1v74h-1z"/>
<path fill="#7ed2cc" d="M1824 113h1v148h-1zM1824 483h1v148h-1zM1824 853h1v30h-1z"/>
<path fill="#9cd2a2" d="M1825 28h1v11h-1zM1825 335h1v74h-1zM1825 705h1v74h-1z"/>
<path fill="#7884cc" d="M1825 39h1v74h-1zM1825 261h1v74h-1zM1825 409h1v74h-1zM1825 631h1v74h-1zM1825 779h1v74h-1z"/>
<path fill="#78ccc6" d="M1825 113h1v148h-1zM1825 483h1v148h-1zM1825 853h1v30h-1zM1886 28h1v11h-1zM1886 335h1v74h-1zM1886 705h1v74h-1z"/>
<path fill="#a8cc96" d="M1826 28h1v11h-1zM1826 335h1v74h-1zM1826 705h1v74h-1z"/>
<path fill="#6c7ecc" d="M1826 39h1v74h-1zM1826 261h1v74h-1zM1826 409h1v74h-1zM1826 631h1v74h-1zM1826 779h1v74h-1z"/>
<path fill="#72ccc0" d="M1826 113h1v148h-1zM1826 483h1v148h-1zM1826 853h1v30h-1z"/>
<path fill="#ccc684" d="M1827 28h1v11h-1zM1827 335h1v74h-1zM1827 705h1v74h-1z"/>
<path fill="#667ec6" d="M1827 39h1v74h-1zM1827 261h1v74h-1zM1827 409h1v74h-1zM1827 631h1v74h-1zM1827 779h1v74h-1z"/>
<path fill="#72ccb4" d="M1827 113h1v148h-1zM1827 483h1v148h-1zM1827 853h1v30h-1z"/>
<path fill="#d2cc8a" d="M1828 28h1v11h-1zM1828 335h1v74h-1zM1828 705h1v74h-1z"/>
<path fill="#8490d8" d="M1828 39h1v74h-1zM1828 261h1v74h-1zM1828 409h1v74h-1zM1828 631h1v74h-1zM1828 779h1v74h-1z"/>
<path fill="#8ad2c6" d="M1828 113h1v148h-1zM1828 483h1v148h-1zM1828 853h1v30h-1z"/>
<path fill="#dedeae" d="M1829 28h1v11h-1zM1829 335h1v74h-1zM1829 705h1v74h-1z"/>
<path fill="#a8b4e4" d="M1829 39h1v74h-1zM1829 261h1v74h-1zM1829 409h1v74h-1zM1829 631h1v74h-1zM1829 779h1v74h-1z"/>
<path fill="#a8ded8" d="M1829 113h1v148h-1zM1829 483h1v148h-1zM1829 853h1v30h-1z"/>
<path fill="#fcfcf6" d="M1830 28h1v11h-1zM1830 335h1v74h-1zM1830 705h1v74h-1zM1864 28h1v11h-1zM1864 335h1v74h-1zM1864 705h1v74h-1z"/>
<path fill="#f6f6fc" d="M1830 39h1v74h-1zM1830 261h1v74h-1zM1830 409h1v74h-1zM1830 631h1v74h-1zM1830 779h1v74h-1zM1864 409h1v74h-1zM1889 39h1v74h-1zM1889 261h1v74h-1zM1889 409h1v74h-1zM1889 631h1v74h-1zM1889 779h1v74h-1zM1922 28h1v855h-1zM1965 28h1v855h-1zM1985 28h1v855h-1zM2082 28h1v855h-1zM2091 28h1v855h-1zM2120 28h1v855h-1zM2193 28h1v855h-1zM2202 28h1v855h-1zM2216 28h1v855h-1zM2269 28h1v855h-1zM2342 28h1v855h-1zM2425 28h1v855h-1zM2434 28h1v855h-1zM2463 28h1v855h-1zM2477 28h1v855h-1zM2497 28h1v855h-1zM2545 28h1v855h-1zM2559 28h1v855h-1zM2573 28h1v855h-1zM2612 28h1v855h-1zM2685 28h1v855h-1zM2714 28h1v855h-1zM2744 28h1v855h-1zM2768 28h1v855h-1zM2777 28h1v855h-1zM2820 28h1v855h-1zM2840 28h1v855h-1zM2888 28h1v855h-1zM2902 28h1v855h-1z"/>
<path fill="#f6fcfc" d="M1830 113h1v148h-1zM1830 483h1v148h-1zM1830 853h1v30h-1zM1878 113h1v148h-1zM1878 483h1v148h-1zM1878 853h1v30h-1zM1883 28h1v11h-1zM1883 335h1v74h-1zM1883 705h1v74h-1zM1889 28h1v11h-1zM1889 113h1v148h-1zM1889 335h1v74h-1zM1889 483h1v148h-1zM1889 705h1v74h-1zM1889 853h1v30h-1z"/>
<path fill="#f6e4c0" d="M1831 28h1v11h-1zM1831 335h1v74h-1zM1831 705h1v74h-1zM1858 28h1v11h-1zM1858 335h1v74h-1zM1858 705h1v74h-1z"/>
<path fill="#c6d2f0" d="M1831 39h1v74h-1zM1831 261h1v74h-1zM1831 409h1v74h-1zM1831 631h1v74h-1zM1831 779h1v74h-1zM1904 113h1v148h-1zM1904 483h1v148h-1zM1904 853h1v30h-1z"/>
<path fill="#e4b484" d="M1832 28h1v11h-1zM1832 335h1v74h-1zM1832 705h1v74h-1zM1837 28h1v11h-1zM1837 335h1v74h-1zM1837 705h1v74h-1z"/>
<path fill="#5a84d2" d="M1832 39h1v74h-1zM1832 261h1v74h-1zM1832 409h1v74h-1zM1832 631h1v74h-1zM1832 779h1v74h-1zM1900 113h1v148h-1zM1900 483h1v148h-1zM1900 853h1v30h-1z"/>
<path fill="#78c696" d="M1832 113h1v148h-1zM1832 483h1v148h-1zM1832 853h1v30h-1zM1866 28h1v11h-1zM1866 335h1v74h-1zM1866 705h1v74h-1z"/>
<path fill="#eac684" d="M1833 28h1v11h-1zM1833 335h1v74h-1zM1833 705h1v74h-1zM1857 28h1v11h-1zM1857 335h1v74h-1zM1857 705h1v74h-1z"/>
<path fill="#8aaee4" d="M1833 39h1v74h-1zM1833 261h1v74h-1zM1833 409h1v74h-1zM1833 631h1v74h-1zM1833 779h1v74h-1z"/>
<path fill="#9cd8b4" d="M1833 113h1v148h-1zM1833 483h1v148h-1zM1833 853h1v30h-1z"/>
<path fill="#f6deae" d="M1834 28h1v11h-1zM1834 335h1v74h-1zM1834 705h1v74h-1zM1836 28h1v11h-1zM1836 335h1v74h-1zM1836 705h1v74h-1z"/>
<path fill="#baccf0" d="M1834 39h1v74h-1zM1834 261h1v74h-1zM1834 409h1v74h-1zM1834 631h1v74h-1zM1834 779h1v74h-1z"/>
<path fill="#c0e4d2" d="M1834 113h1v148h-1zM1834 483h1v148h-1zM1834 853h1v30h-1zM1875 28h1v11h-1zM1875 335h1v74h-1zM1875 705h1v74h-1z"/>
<path fill="#b4c6ea" d="M1836 39h1v74h-1zM1836 261h1v74h-1zM1836 409h1v74h-1zM1836 631h1v74h-1zM1836 779h1v74h-1zM1906 113h1v148h-1zM1906 483h1v148h-1zM1906 853h1v30h-1z"/>
<path fill="#dee4ba" d="M1836 113h1v148h-1zM1836 483h1v148h-1zM1836 853h1v30h-1z"/>
<path fill="#5a8ad2" d="M1837 39h1v74h-1zM1837 261h1v74h-1zM1837 409h1v74h-1zM1837 631h1v74h-1zM1837 779h1v74h-1z"/>
<path fill="#bac684" d="M1837 113h1v148h-1zM1837 483h1v148h-1zM1837 853h1v30h-1z"/>
<path fill="#f0cc8a" d="M1838 28h1v11h-1zM1838 335h1v74h-1zM1838 705h1v74h-1zM1846 113h1v148h-1zM1846 483h1v148h-1zM1846 853h1v30h-1z"/>
<path fill="#96b4ea" d="M1838 39h1v74h-1zM1838 261h1v74h-1zM1838 409h1v74h-1zM1838 631h1v74h-1zM1838 779h1v74h-1z"/>
<path fill="#d2d89c" d="M1838 113h1v148h-1zM1838 483h1v148h-1zM1838 853h1v30h-1z"/>
<path fill="#f6e4ba" d="M1839 28h1v11h-1zM1839 335h1v74h-1zM1839 705h1v74h-1z"/>
<path fill="#c6d8f6" d="M1839 39h1v74h-1zM1839 261h1v74h-1zM1839 409h1v74h-1zM1839 631h1v74h-1zM1839 779h1v74h-1z"/>
<path fill="#e4eac6" d="M1839 113h1v148h-1zM1839 483h1v148h-1zM1839 853h1v30h-1z"/>
<path fill="#f6e4a2" d="M1841 28h1v11h-1zM1841 335h1v74h-1zM1841 705h1v74h-1z"/>
<path fill="#a2c0e4" d="M1841 39h1v74h-1zM1841 261h1v74h-1zM1841 409h1v74h-1zM1841 631h1v74h-1zM1841 779h1v74h-1z"/>
<path fill="#f0d89c" d="M1841 113h1v148h-1zM1841 483h1v148h-1zM1841 853h1v30h-1z"/>
<path fill="#f0d284" d="M1842 28h1v11h-1zM1842 335h1v74h-1zM1842 705h1v74h-1z"/>
<path fill="#6696d8" d="M1842 39h1v74h-1zM1842 261h1v74h-1zM1842 409h1v74h-1zM1842 631h1v74h-1zM1842 779h1v74h-1z"/>
<path fill="#eaba84" d="M1842 113h1v148h-1zM1842 483h1v148h-1zM1842 853h1v30h-1z"/>
<path fill="#f6de96" d="M1843 28h1v11h-1zM1843 335h1v74h-1zM1843 705h1v74h-1z"/>
<path fill="#a2c0ea" d="M1843 39h1v74h-1zM1843 261h1v74h-1zM1843 409h1v74h-1zM1843 631h1v74h-1zM1843 779h1v74h-1z"/>
<path fill="#f0d296" d="M1843 113h1v148h-1zM1843 483h1v148h-1zM1843 853h1v30h-1z"/>
<path fill="#fcf0cc" d="M1844 28h1v11h-1zM1844 335h1v74h-1zM1844 705h1v74h-1z"/>
<path fill="#d2e4f6" d="M1844 39h1v74h-1zM1844 261h1v74h-1zM1844 409h1v74h-1zM1844 631h1v74h-1zM1844 779h1v74h-1z"/>
<path fill="#f6eacc" d="M1844 113h1v148h-1zM1844 483h1v148h-1zM1844 853h1v30h-1z"/>
<path fill="#f6f096" d="M1846 28h1v11h-1zM1846 335h1v74h-1zM1846 705h1v74h-1z"/>
<path fill="#8aa8de" d="M1846 39h1v74h-1zM1846 261h1v74h-1zM1846 409h1v74h-1zM1846 631h1v74h-1zM1846 779h1v74h-1z"/>
<path fill="#f0ea84" d="M1847 28h1v11h-1zM1847 335h1v74h-1zM1847 705h1v74h-1z"/>
<path fill="#668ad8" d="M1847 39h1v74h-1zM1847 261h1v74h-1zM1847 409h1v74h-1zM1847 631h1v74h-1zM1847 779h1v74h-1z"/>
<path fill="#eac084" d="M1847 113h1v148h-1zM1847 483h1v148h-1zM1847 853h1v30h-1zM1856 28h1v11h-1zM1856 335h1v74h-1zM1856 705h1v74h-1z"/>
<path fill="#f6f0ae" d="M1848 28h1v11h-1zM1848 335h1v74h-1zM1848 705h1v74h-1z"/>
<path fill="#aec0f0" d="M1848 39h1v74h-1zM1848 261h1v74h-1zM1848 409h1v74h-1zM1848 631h1v74h-1zM1848 779h1v74h-1z"/>
<path fill="#f0d8a2" d="M1848 113h1v148h-1zM1848 483h1v148h-1zM1848 853h1v30h-1z"/>
<path fill="#fcfcde" d="M1849 28h1v11h-1zM1849 335h1v74h-1zM1849 705h1v74h-1z"/>
<path fill="#dee4fc" d="M1849 39h1v74h-1zM1849 261h1v74h-1zM1849 409h1v74h-1zM1849 631h1v74h-1zM1849 779h1v74h-1z"/>
<path fill="#fcf0d8" d="M1849 113h1v148h-1zM1849 483h1v148h-1zM1849 853h1v30h-1z"/>
<path fill="#f6ea8a" d="M1851 28h1v11h-1zM1851 335h1v74h-1zM1851 705h1v74h-1z"/>
<path fill="#789cd8" d="M1851 39h1v74h-1zM1851 261h1v74h-1zM1851 409h1v74h-1zM1851 631h1v74h-1zM1851 779h1v74h-1z"/>
<path fill="#f0cc84" d="M1851 113h1v148h-1zM1851 483h1v148h-1zM1851 853h1v30h-1z"/>
<path fill="#f0e484" d="M1852 28h1v11h-1zM1852 335h1v74h-1zM1852 705h1v74h-1z"/>
<path fill="#7296d8" d="M1852 39h1v74h-1zM1852 261h1v74h-1zM1852 409h1v74h-1zM1852 631h1v74h-1zM1852 779h1v74h-1z"/>
<path fill="#eacc84" d="M1852 113h1v148h-1zM1852 483h1v148h-1zM1852 853h1v30h-1z"/>
<path fill="#f6f0ba" d="M1853 28h1v11h-1zM1853 335h1v74h-1zM1853 705h1v74h-1z"/>
<path fill="#c0d2f6" d="M1853 39h1v74h-1zM1853 261h1v74h-1zM1853 409h1v74h-1zM1853 631h1v74h-1zM1853 779h1v74h-1z"/>
<path fill="#f6e4b4" d="M1853 113h1v148h-1zM1853 483h1v148h-1zM1853 853h1v30h-1z"/>
<path fill="#fcfce4" d="M1854 28h1v11h-1zM1854 335h1v74h-1zM1854 705h1v74h-1z"/>
<path fill="#eaf0fc" d="M1854 39h1v74h-1zM1854 261h1v74h-1zM1854 409h1v74h-1zM1854 631h1v74h-1zM1854 779h1v74h-1zM1894 28h1v11h-1zM1894 335h1v74h-1zM1894 705h1v74h-1z"/>
<path fill="#fcf6e4" d="M1854 113h1v148h-1zM1854 483h1v148h-1zM1854 853h1v30h-1z"/>
<path fill="#fcf6ea" d="M1855 28h1v11h-1zM1855 335h1v74h-1zM1855 705h1v74h-1z"/>
<path fill="#eaf0f6" d="M1855 39h1v74h-1zM1855 261h1v74h-1zM1855 409h1v74h-1zM1855 631h1v74h-1zM1855 779h1v74h-1zM1894 113h1v148h-1zM1894 483h1v148h-1zM1894 853h1v30h-1z"/>
<path fill="#f6f6f0" d="M1855 113h1v148h-1zM1855 483h1v148h-1zM1855 853h1v30h-1z"/>
<path fill="#6c8acc" d="M1856 39h1v74h-1zM1856 261h1v74h-1zM1856 409h1v74h-1zM1856 631h1v74h-1zM1856 779h1v74h-1z"/>
<path fill="#cccc84" d="M1856 113h1v148h-1zM1856 483h1v148h-1zM1856 853h1v30h-1z"/>
<path fill="#7e96d8" d="M1857 39h1v74h-1zM1857 261h1v74h-1zM1857 409h1v74h-1zM1857 631h1v74h-1zM1857 779h1v74h-1z"/>
<path fill="#d2cc90" d="M1857 113h1v148h-1zM1857 483h1v148h-1zM1857 853h1v30h-1z"/>
<path fill="#d2d8f6" d="M1858 39h1v74h-1zM1858 261h1v74h-1zM1858 409h1v74h-1zM1858 631h1v74h-1zM1858 779h1v74h-1z"/>
<path fill="#eaeac6" d="M1858 113h1v148h-1zM1858 483h1v148h-1zM1858 853h1v30h-1z"/>
<path fill="#fcf6f0" d="M1859 28h1v11h-1zM1859 113h1v148h-1zM1859 335h1v74h-1zM1859 483h1v148h-1zM1859 705h1v74h-1zM1859 853h1v30h-1z"/>
<path fill="#f0f6fc" d="M1859 39h1v74h-1zM1859 261h1v74h-1zM1859 409h1v74h-1zM1859 631h1v74h-1zM1859 779h1v74h-1zM1873 113h1v148h-1zM1873 483h1v148h-1zM1873 853h1v30h-1zM1887 113h1v148h-1zM1887 483h1v148h-1zM1887 853h1v30h-1z"/>
<path fill="#f6f0e4" d="M1860 28h1v11h-1zM1860 335h1v74h-1zM1860 705h1v74h-1z"/>
<path fill="#d8def0" d="M1860 39h1v74h-1zM1860 261h1v74h-1zM1860 409h1v74h-1zM1860 631h1v74h-1zM1860 779h1v74h-1z"/>
<path fill="#e4f6ea" d="M1860 113h1v148h-1zM1860 483h1v148h-1zM1860 853h1v30h-1z"/>
<path fill="#d2c084" d="M1861 28h1v11h-1zM1861 335h1v74h-1zM1861 705h1v74h-1z"/>
<path fill="#5472c0" d="M1861 39h1v74h-1zM1861 261h1v74h-1zM1861 409h1v74h-1zM1861 631h1v74h-1zM1861 779h1v74h-1z"/>
<path fill="#7ecca2" d="M1861 113h1v148h-1zM1861 483h1v148h-1zM1861 853h1v30h-1z"/>
<path fill="#ded296" d="M1862 28h1v11h-1zM1862 335h1v74h-1zM1862 705h1v74h-1z"/>
<path fill="#8a9cd8" d="M1862 39h1v74h-1zM1862 261h1v74h-1zM1862 409h1v74h-1zM1862 631h1v74h-1zM1862 779h1v74h-1z"/>
<path fill="#a2d8c0" d="M1862 113h1v148h-1zM1862 483h1v148h-1zM1862 853h1v30h-1z"/>
<path fill="#f0ead2" d="M1863 28h1v11h-1zM1863 335h1v74h-1zM1863 705h1v74h-1z"/>
<path fill="#d8def6" d="M1863 39h1v74h-1zM1863 261h1v74h-1zM1863 409h1v74h-1zM1863 631h1v74h-1zM1863 779h1v74h-1z"/>
<path fill="#d8f0ea" d="M1863 113h1v148h-1zM1863 483h1v148h-1zM1863 853h1v30h-1z"/>
<path fill="#d8f0e4" d="M1865 28h1v11h-1zM1865 335h1v74h-1zM1865 705h1v74h-1z"/>
<path fill="#ccccea" d="M1865 39h1v74h-1zM1865 261h1v74h-1zM1865 631h1v74h-1zM1865 779h1v74h-1zM2327 28h1v855h-1zM2478 28h1v855h-1zM2525 28h1v855h-1zM2670 28h1v855h-1zM2868 28h1v855h-1z"/>
<path fill="#d2eaf0" d="M1865 113h1v148h-1zM1865 483h1v148h-1zM1865 853h1v30h-1z"/>
<path fill="#eaf0d8" d="M1865 409h1v74h-1z"/>
<path fill="#3c4ea8" d="M1866 39h1v74h-1zM1866 261h1v74h-1zM1866 631h1v74h-1zM1866 779h1v74h-1z"/>
<path fill="#54b4c6" d="M1866 113h1v148h-1zM1866 483h1v148h-1zM1866 853h1v30h-1z"/>
<path fill="#a8c684" d="M1866 409h1v74h-1z"/>
<path fill="#b4dec6" d="M1867 28h1v11h-1zM1867 335h1v74h-1zM1867 705h1v74h-1z"/>
<path fill="#9ca2d8" d="M1867 39h1v74h-1zM1867 261h1v74h-1zM1867 631h1v74h-1zM1867 779h1v74h-1z"/>
<path fill="#a8d8e4" d="M1867 113h1v148h-1zM1867 483h1v148h-1zM1867 853h1v30h-1z"/>
<path fill="#ccdeb4" d="M1867 409h1v74h-1z"/>
<path fill="#e4f0ea" d="M1868 28h1v11h-1zM1868 335h1v74h-1zM1868 705h1v74h-1z"/>
<path fill="#e4e4fc" d="M1868 39h1v74h-1zM1868 261h1v74h-1zM1868 631h1v74h-1zM1868 779h1v74h-1zM2261 28h1v855h-1zM2549 28h1v855h-1zM2604 28h1v855h-1zM2892 28h1v855h-1z"/>
<path fill="#e4f6fc" d="M1868 113h1v148h-1zM1868 483h1v148h-1zM1868 853h1v30h-1z"/>
<path fill="#eaf0e4" d="M1868 409h1v74h-1z"/>
<path fill="#deead2" d="M1870 28h1v11h-1zM1870 335h1v74h-1zM1870 705h1v74h-1z"/>
<path fill="#babade" d="M1870 39h1v74h-1zM1870 261h1v74h-1zM1870 631h1v74h-1zM1870 779h1v74h-1zM2046 28h1v855h-1zM2174 28h1v855h-1zM2590 28h1v855h-1zM2631 28h1v855h-1zM2665 28h1v855h-1zM2826 28h1v855h-1zM2901 28h1v855h-1z"/>
<path fill="#c0def0" d="M1870 113h1v148h-1zM1870 483h1v148h-1zM1870 853h1v30h-1z"/>
<path fill="#eae4c6" d="M1870 409h1v74h-1z"/>
<path fill="#9cc084" d="M1871 28h1v11h-1zM1871 335h1v74h-1zM1871 705h1v74h-1z"/>
<path fill="#3642a2" d="M1871 39h1v74h-1zM1871 261h1v74h-1zM1871 631h1v74h-1zM1871 779h1v74h-1z"/>
<path fill="#4e9cd2" d="M1871 113h1v148h-1zM1871 483h1v148h-1zM1871 853h1v30h-1z"/>
<path fill="#ccba84" d="M1871 409h1v74h-1z"/>
<path fill="#d2e4c0" d="M1872 28h1v11h-1zM1872 335h1v74h-1zM1872 705h1v74h-1z"/>
<path fill="#aeb4de" d="M1872 39h1v74h-1zM1872 261h1v74h-1zM1872 631h1v74h-1zM1872 779h1v74h-1z"/>
<path fill="#bad8f0" d="M1872 113h1v148h-1zM1872 483h1v148h-1zM1872 853h1v30h-1z"/>
<path fill="#e4deb4" d="M1872 409h1v74h-1z"/>
<path fill="#f0f6ea" d="M1873 28h1v11h-1zM1873 335h1v74h-1zM1873 705h1v74h-1z"/>
<path fill="#f0f0fc" d="M1873 39h1v74h-1zM1873 261h1v74h-1zM1873 631h1v74h-1zM1873 779h1v74h-1zM1908 28h1v11h-1zM1908 113h1v148h-1zM1908 335h1v74h-1zM1908 483h1v148h-1zM1908 705h1v74h-1zM1908 853h1v30h-1zM1913 28h1v855h-1zM1951 28h1v855h-1zM1999 28h1v855h-1zM2028 28h1v855h-1zM2042 28h1v855h-1zM2096 28h1v855h-1zM2256 28h1v855h-1zM2265 28h1v855h-1zM2294 28h1v855h-1zM2328 28h1v855h-1zM2371 28h1v855h-1zM2385 28h1v855h-1zM2511 28h1v855h-1zM2540 28h1v855h-1zM2554 28h1v855h-1zM2599 28h1v855h-1zM2608 28h1v855h-1zM2637 28h1v855h-1zM2728 28h1v855h-1zM2854 28h1v855h-1zM2883 28h1v855h-1zM2897 28h1v855h-1z"/>
<path fill="#f6f6e4" d="M1873 409h1v74h-1z"/>
<path fill="#a2a2d2" d="M1875 39h1v74h-1zM1875 261h1v74h-1zM1875 631h1v74h-1zM1875 779h1v74h-1zM1974 28h1v855h-1zM2283 28h1v855h-1zM2522 28h1v855h-1zM2595 28h1v855h-1zM2829 28h1v855h-1z"/>
<path fill="#aed8ea" d="M1875 113h1v148h-1zM1875 483h1v148h-1zM1875 853h1v30h-1z"/>
<path fill="#9ca2d2" d="M1875 409h1v74h-1z"/>
<path fill="#78c69c" d="M1876 28h1v11h-1zM1876 335h1v74h-1zM1876 705h1v74h-1z"/>
<path fill="#3c3c9c" d="M1876 39h1v74h-1zM1876 261h1v74h-1zM1876 409h1v74h-1zM1876 631h1v74h-1zM1876 779h1v74h-1z"/>
<path fill="#60aed2" d="M1876 113h1v148h-1zM1876 483h1v148h-1zM1876 853h1v30h-1z"/>
<path fill="#cceade" d="M1877 28h1v11h-1zM1877 335h1v74h-1zM1877 705h1v74h-1z"/>
<path fill="#c6c6e4" d="M1877 39h1v74h-1zM1877 261h1v74h-1zM1877 409h1v74h-1zM1877 631h1v74h-1zM1877 779h1v74h-1zM1950 28h1v855h-1zM1984 28h1v855h-1zM2000 28h1v855h-1zM2085 28h1v855h-1zM2377 28h1v855h-1zM2416 28h1v855h-1zM2805 28h1v855h-1zM2839 28h1v855h-1zM2855 28h1v855h-1z"/>
<path fill="#cce4f0" d="M1877 113h1v148h-1zM1877 483h1v148h-1zM1877 853h1v30h-1z"/>
<path fill="#f0f6f6" d="M1878 28h1v11h-1zM1878 335h1v74h-1zM1878 705h1v74h-1z"/>
<path fill="#a2ded2" d="M1880 28h1v11h-1zM1880 335h1v74h-1zM1880 705h1v74h-1z"/>
<path fill="#8a84c0" d="M1880 39h1v74h-1zM1880 261h1v74h-1zM1880 409h1v74h-1zM1880 631h1v74h-1zM1880 779h1v74h-1zM1935 28h1v855h-1zM2015 28h1v855h-1zM2735 28h1v855h-1zM2790 28h1v855h-1z"/>
<path fill="#a2d8de" d="M1880 113h1v148h-1zM1880 483h1v148h-1zM1880 853h1v30h-1z"/>
<path fill="#6cc6ba" d="M1881 28h1v11h-1zM1881 335h1v74h-1zM1881 705h1v74h-1z"/>
<path fill="#4e489c" d="M1881 39h1v74h-1zM1881 261h1v74h-1zM1881 409h1v74h-1zM1881 631h1v74h-1zM1881 779h1v74h-1zM1920 28h1v855h-1zM2030 28h1v855h-1zM2581 28h1v855h-1zM2736 28h1v855h-1zM2775 28h1v855h-1z"/>
<path fill="#6cc0cc" d="M1881 113h1v148h-1zM1881 483h1v148h-1zM1881 853h1v30h-1z"/>
<path fill="#d2f0f0" d="M1882 28h1v11h-1zM1882 335h1v74h-1zM1882 705h1v74h-1z"/>
<path fill="#dedef0" d="M1882 39h1v74h-1zM1882 261h1v74h-1zM1882 409h1v74h-1zM1882 631h1v74h-1zM1882 779h1v74h-1zM1921 28h1v855h-1zM2130 28h1v855h-1zM2163 28h1v855h-1zM2164 28h1v855h-1zM2473 28h1v855h-1zM2580 28h1v855h-1zM2641 28h1v855h-1zM2675 28h1v855h-1zM2676 28h1v855h-1zM2737 28h1v855h-1zM2776 28h1v855h-1z"/>
<path fill="#def0f6" d="M1882 113h1v148h-1zM1882 483h1v148h-1zM1882 853h1v30h-1z"/>
<path fill="#90d8d2" d="M1885 28h1v11h-1zM1885 335h1v74h-1zM1885 705h1v74h-1z"/>
<path fill="#7872b4" d="M1885 39h1v74h-1zM1885 261h1v74h-1zM1885 409h1v74h-1zM1885 631h1v74h-1zM1885 779h1v74h-1zM1930 28h1v855h-1zM2577 28h1v855h-1zM2740 28h1v855h-1z"/>
<path fill="#90bae4" d="M1885 113h1v148h-1zM1885 483h1v148h-1zM1885 853h1v30h-1z"/>
<path fill="#605aa8" d="M1886 39h1v74h-1zM1886 261h1v74h-1zM1886 409h1v74h-1zM1886 631h1v74h-1zM1886 779h1v74h-1zM1925 28h1v855h-1zM2229 28h1v855h-1zM2233 28h1v855h-1zM2368 28h1v855h-1zM2576 28h1v855h-1zM2741 28h1v855h-1zM2780 28h1v855h-1z"/>
<path fill="#78aede" d="M1886 113h1v148h-1zM1886 483h1v148h-1zM1886 853h1v30h-1z"/>
<path fill="#e4f6f6" d="M1887 28h1v11h-1zM1887 335h1v74h-1zM1887 705h1v74h-1z"/>
<path fill="#f0f0f6" d="M1887 39h1v74h-1zM1887 261h1v74h-1zM1887 409h1v74h-1zM1887 631h1v74h-1zM1887 779h1v74h-1zM1926 28h1v855h-1zM2024 28h1v855h-1zM2134 28h1v855h-1zM2168 28h1v855h-1zM2438 28h1v855h-1zM2536 28h1v855h-1zM2575 28h1v855h-1zM2646 28h1v855h-1zM2671 28h1v855h-1zM2742 28h1v855h-1zM2781 28h1v855h-1zM2879 28h1v855h-1z"/>
<path fill="#7ebade" d="M1890 28h1v11h-1zM1890 335h1v74h-1zM1890 705h1v74h-1z"/>
<path fill="#6660ae" d="M1890 39h1v74h-1zM1890 261h1v74h-1zM1890 409h1v74h-1zM1890 631h1v74h-1zM1890 779h1v74h-1zM2098 28h1v855h-1zM2268 28h1v855h-1zM2537 28h1v855h-1zM2572 28h1v855h-1zM2610 28h1v855h-1zM2745 28h1v855h-1z"/>
<path fill="#7ea8de" d="M1890 113h1v148h-1zM1890 483h1v148h-1zM1890 853h1v30h-1z"/>
<path fill="#8abade" d="M1891 28h1v11h-1zM1891 335h1v74h-1zM1891 705h1v74h-1z"/>
<path fill="#726cb4" d="M1891 39h1v74h-1zM1891 261h1v74h-1zM1891 409h1v74h-1zM1891 631h1v74h-1zM1891 779h1v74h-1zM2093 28h1v855h-1zM2363 28h1v855h-1zM2442 28h1v855h-1zM2571 28h1v855h-1zM2746 28h1v855h-1z"/>
<path fill="#84aede" d="M1891 113h1v148h-1zM1891 483h1v148h-1zM1891 853h1v30h-1z"/>
<path fill="#e4e4f0" d="M1894 39h1v74h-1zM1894 261h1v74h-1zM1894 409h1v74h-1zM1894 631h1v74h-1zM1894 779h1v74h-1zM2198 28h1v855h-1zM2225 28h1v855h-1zM2237 28h1v855h-1zM2264 28h1v855h-1zM2333 28h1v855h-1zM2472 28h1v855h-1zM2568 28h1v855h-1zM2749 28h1v855h-1z"/>
<path fill="#6c9cd8" d="M1895 28h1v11h-1zM1895 335h1v74h-1zM1895 705h1v74h-1z"/>
<path fill="#544ea2" d="M1895 39h1v74h-1zM1895 261h1v74h-1zM1895 409h1v74h-1zM1895 631h1v74h-1zM1895 779h1v74h-1zM2199 28h1v855h-1zM2567 28h1v855h-1zM2606 28h1v855h-1zM2750 28h1v855h-1z"/>
<path fill="#668acc" d="M1895 113h1v148h-1zM1895 483h1v148h-1zM1895 853h1v30h-1z"/>
<path fill="#96bae4" d="M1896 28h1v11h-1zM1896 335h1v74h-1zM1896 705h1v74h-1z"/>
<path fill="#847eba" d="M1896 39h1v74h-1zM1896 261h1v74h-1zM1896 409h1v74h-1zM1896 631h1v74h-1zM1896 779h1v74h-1zM2104 28h1v855h-1zM2566 28h1v855h-1zM2751 28h1v855h-1z"/>
<path fill="#90a8de" d="M1896 113h1v148h-1zM1896 483h1v148h-1zM1896 853h1v30h-1z"/>
<path fill="#d8e4f6" d="M1899 28h1v11h-1zM1899 113h1v148h-1zM1899 335h1v74h-1zM1899 483h1v148h-1zM1899 705h1v74h-1zM1899 853h1v30h-1z"/>
<path fill="#d8d2ea" d="M1899 39h1v74h-1zM1899 261h1v74h-1zM1899 409h1v74h-1zM1899 631h1v74h-1zM1899 779h1v74h-1zM2602 28h1v855h-1zM2754 28h1v855h-1z"/>
<path fill="#6096d8" d="M1900 28h1v11h-1zM1900 335h1v74h-1zM1900 705h1v74h-1z"/>
<path fill="#423c96" d="M1900 39h1v74h-1zM1900 261h1v74h-1zM1900 409h1v74h-1zM1900 631h1v74h-1zM1900 779h1v74h-1zM2562 28h1v855h-1zM2601 28h1v855h-1zM2755 28h1v855h-1z"/>
<path fill="#a8c6ea" d="M1901 28h1v11h-1zM1901 335h1v74h-1zM1901 705h1v74h-1z"/>
<path fill="#9696c6" d="M1901 39h1v74h-1zM1901 261h1v74h-1zM1901 409h1v74h-1zM1901 631h1v74h-1zM1901 779h1v74h-1zM2109 28h1v855h-1zM2561 28h1v855h-1zM2756 28h1v855h-1z"/>
<path fill="#a2bae4" d="M1901 113h1v148h-1zM1901 483h1v148h-1zM1901 853h1v30h-1z"/>
<path fill="#c6def0" d="M1904 28h1v11h-1zM1904 335h1v74h-1zM1904 705h1v74h-1z"/>
<path fill="#c0c0de" d="M1904 39h1v74h-1zM1904 261h1v74h-1zM1904 409h1v74h-1zM1904 631h1v74h-1zM1904 779h1v74h-1zM2119 28h1v855h-1zM2208 28h1v855h-1zM2254 28h1v855h-1zM2389 28h1v855h-1zM2686 28h1v855h-1z"/>
<path fill="#4e90d2" d="M1905 28h1v11h-1zM1905 335h1v74h-1zM1905 705h1v74h-1z"/>
<path fill="#302a90" d="M1905 39h1v74h-1zM1905 261h1v74h-1zM1905 409h1v74h-1zM1905 631h1v74h-1zM1905 779h1v74h-1zM2045 28h1v855h-1zM2084 28h1v855h-1zM2214 28h1v855h-1zM2378 28h1v855h-1zM2417 28h1v855h-1zM2557 28h1v855h-1zM2596 28h1v855h-1zM2721 28h1v855h-1zM2760 28h1v855h-1zM2900 28h1v855h-1z"/>
<path fill="#4878cc" d="M1905 113h1v148h-1zM1905 483h1v148h-1zM1905 853h1v30h-1z"/>
<path fill="#bad2f0" d="M1906 28h1v11h-1zM1906 335h1v74h-1zM1906 705h1v74h-1z"/>
<path fill="#a8a8d2" d="M1906 39h1v74h-1zM1906 261h1v74h-1zM1906 409h1v74h-1zM1906 631h1v74h-1zM1906 779h1v74h-1zM1909 39h1v74h-1zM1909 261h1v74h-1zM1909 409h1v74h-1zM1909 631h1v74h-1zM1909 779h1v74h-1zM2556 28h1v855h-1zM2761 28h1v855h-1z"/>
<path fill="#a8a8d8" d="M1909 28h1v11h-1zM1909 113h1v148h-1zM1909 335h1v74h-1zM1909 483h1v148h-1zM1909 705h1v74h-1zM1909 853h1v30h-1zM2384 28h1v855h-1zM2488 28h1v855h-1zM2660 28h1v855h-1z"/>
<path fill="#30369c" d="M1910 28h1v11h-1zM1910 113h1v148h-1zM1910 335h1v74h-1zM1910 483h1v148h-1zM1910 705h1v74h-1zM1910 853h1v30h-1z"/>
<path fill="#302a8a" d="M1910 39h1v74h-1zM1910 261h1v74h-1zM1910 409h1v74h-1zM1910 631h1v74h-1zM1910 779h1v74h-1zM2040 28h1v855h-1zM2079 28h1v855h-1zM2209 28h1v855h-1zM2248 28h1v855h-1zM2253 28h1v855h-1zM2383 28h1v855h-1zM2422 28h1v855h-1zM2552 28h1v855h-1zM2591 28h1v855h-1zM2726 28h1v855h-1zM2765 28h1v855h-1zM2895 28h1v855h-1z"/>
<path fill="#c0c0e4" d="M1911 28h1v11h-1zM1911 113h1v148h-1zM1911 335h1v74h-1zM1911 483h1v148h-1zM1911 705h1v74h-1zM1911 853h1v30h-1zM2140 28h1v855h-1zM2153 28h1v855h-1zM2343 28h1v855h-1z"/>
<path fill="#c0bade" d="M1911 39h1v74h-1zM1911 261h1v74h-1zM1911 409h1v74h-1zM1911 631h1v74h-1zM1911 779h1v74h-1zM2247 28h1v855h-1zM2551 28h1v855h-1zM2766 28h1v855h-1z"/>
<path fill="#9090c6" d="M1914 28h1v855h-1zM2036 28h1v855h-1zM2049 28h1v855h-1zM2184 28h1v855h-1zM2413 28h1v855h-1zM2621 28h1v855h-1zM2904 28h1v855h-1z"/>
<path fill="#3c3696" d="M1915 28h1v855h-1zM2204 28h1v855h-1zM2219 28h1v855h-1zM2243 28h1v855h-1zM2258 28h1v855h-1zM2547 28h1v855h-1zM2731 28h1v855h-1zM2770 28h1v855h-1z"/>
<path fill="#d2cce4" d="M1916 28h1v855h-1zM2546 28h1v855h-1zM2771 28h1v855h-1z"/>
<path fill="#eae4fc" d="M1918 28h1v855h-1zM2037 28h1v855h-1z"/>
<path fill="#7e78ba" d="M1919 28h1v855h-1zM2054 28h1v855h-1zM2065 28h1v855h-1zM2189 28h1v855h-1zM2616 28h1v855h-1z"/>
<path fill="#d8d8f6" d="M1923 28h1v855h-1zM2544 28h1v855h-1zM2887 28h1v855h-1z"/>
<path fill="#6c66b4" d="M1924 28h1v855h-1zM2195 28h1v855h-1zM2471 28h1v855h-1zM2538 28h1v855h-1zM2779 28h1v855h-1z"/>
<path fill="#eaeafc" d="M1927 28h1v855h-1zM2087 28h1v855h-1zM2197 28h1v855h-1zM2211 28h1v855h-1zM2380 28h1v855h-1zM2430 28h1v855h-1zM2723 28h1v855h-1zM2773 28h1v855h-1zM2782 28h1v855h-1z"/>
<path fill="#c0c0ea" d="M1928 28h1v855h-1zM2008 28h1v855h-1zM2116 28h1v855h-1zM2271 28h1v855h-1zM2708 28h1v855h-1zM2863 28h1v855h-1z"/>
<path fill="#605aae" d="M1929 28h1v855h-1zM2025 28h1v855h-1zM2190 28h1v855h-1zM2297 28h1v855h-1zM2441 28h1v855h-1zM2533 28h1v855h-1zM2702 28h1v855h-1zM2784 28h1v855h-1z"/>
<path fill="#dedef6" d="M1932 28h1v855h-1zM2092 28h1v855h-1zM2275 28h1v855h-1zM2361 28h1v855h-1zM2375 28h1v855h-1zM2435 28h1v855h-1zM2618 28h1v855h-1zM2704 28h1v855h-1zM2718 28h1v855h-1z"/>
<path fill="#aeaede" d="M1933 28h1v855h-1zM2276 28h1v855h-1zM2515 28h1v855h-1zM2703 28h1v855h-1zM2807 28h1v855h-1zM2858 28h1v855h-1z"/>
<path fill="#544ea8" d="M1934 28h1v855h-1zM2011 28h1v855h-1zM2123 28h1v855h-1zM2170 28h1v855h-1zM2277 28h1v855h-1zM2354 28h1v855h-1zM2446 28h1v855h-1zM2523 28h1v855h-1zM2697 28h1v855h-1zM2789 28h1v855h-1zM2866 28h1v855h-1z"/>
<path fill="#d2d2f0" d="M1937 28h1v855h-1zM2280 28h1v855h-1zM2609 28h1v855h-1zM2623 28h1v855h-1zM2647 28h1v855h-1zM2699 28h1v855h-1zM2713 28h1v855h-1z"/>
<path fill="#a29cd8" d="M1938 28h1v855h-1zM2469 28h1v855h-1zM2793 28h1v855h-1zM2853 28h1v855h-1z"/>
<path fill="#4e48a2" d="M1939 28h1v855h-1zM2224 28h1v855h-1zM2238 28h1v855h-1zM2263 28h1v855h-1zM2451 28h1v855h-1zM2885 28h1v855h-1z"/>
<path fill="#a29ccc" d="M1940 28h1v855h-1zM2865 28h1v855h-1z"/>
<path fill="#c6c6ea" d="M1942 28h1v855h-1zM2182 28h1v855h-1zM2285 28h1v855h-1zM2309 28h1v855h-1zM2694 28h1v855h-1zM2783 28h1v855h-1z"/>
<path fill="#9090d2" d="M1943 28h1v855h-1zM1993 28h1v855h-1zM2693 28h1v855h-1z"/>
<path fill="#4842a2" d="M1944 28h1v855h-1zM1949 28h1v855h-1zM2113 28h1v855h-1zM2282 28h1v855h-1zM2292 28h1v855h-1zM2456 28h1v855h-1zM2625 28h1v855h-1zM2794 28h1v855h-1zM2804 28h1v855h-1z"/>
<path fill="#b4b4d8" d="M1945 28h1v855h-1zM2078 28h1v855h-1zM2080 28h1v855h-1zM2382 28h1v855h-1zM2800 28h1v855h-1zM2860 28h1v855h-1z"/>
<path fill="#babae4" d="M1947 28h1v855h-1zM2177 28h1v855h-1zM2483 28h1v855h-1z"/>
<path fill="#8484cc" d="M1948 28h1v855h-1zM2345 28h1v855h-1zM2648 28h1v855h-1zM2688 28h1v855h-1z"/>
<path fill="#aea8de" d="M1952 28h1v855h-1zM2172 28h1v855h-1zM2360 28h1v855h-1zM2619 28h1v855h-1z"/>
<path fill="#7e78c6" d="M1953 28h1v855h-1zM1967 28h1v855h-1zM1988 28h1v855h-1zM2310 28h1v855h-1zM2340 28h1v855h-1zM2465 28h1v855h-1zM2653 28h1v855h-1zM2683 28h1v855h-1zM2808 28h1v855h-1zM2843 28h1v855h-1z"/>
<path fill="#5a54ae" d="M1954 28h1v855h-1zM2016 28h1v855h-1zM2339 28h1v855h-1zM2359 28h1v855h-1zM2528 28h1v855h-1zM2682 28h1v855h-1zM2809 28h1v855h-1zM2871 28h1v855h-1z"/>
<path fill="#d8d8ea" d="M1955 28h1v855h-1zM1995 28h1v855h-1zM2090 28h1v855h-1zM2372 28h1v855h-1zM2394 28h1v855h-1zM2411 28h1v855h-1zM2715 28h1v855h-1zM2810 28h1v855h-1zM2850 28h1v855h-1z"/>
<path fill="#e4e4f6" d="M1956 28h1v855h-1zM1990 28h1v855h-1zM1994 28h1v855h-1zM2023 28h1v855h-1zM2101 28h1v855h-1zM2192 28h1v855h-1zM2206 28h1v855h-1zM2299 28h1v855h-1zM2444 28h1v855h-1zM2506 28h1v855h-1zM2535 28h1v855h-1zM2642 28h1v855h-1zM2845 28h1v855h-1zM2849 28h1v855h-1zM2878 28h1v855h-1z"/>
<path fill="#9c96d8" d="M1957 28h1v855h-1zM2012 28h1v855h-1zM2167 28h1v855h-1zM2355 28h1v855h-1zM2624 28h1v855h-1z"/>
<path fill="#7272c0" d="M1958 28h1v855h-1zM1983 28h1v855h-1zM1992 28h1v855h-1zM2315 28h1v855h-1zM2326 28h1v855h-1zM2335 28h1v855h-1zM2658 28h1v855h-1zM2813 28h1v855h-1zM2847 28h1v855h-1z"/>
<path fill="#726cba" d="M1959 28h1v855h-1zM1991 28h1v855h-1zM2302 28h1v855h-1zM2334 28h1v855h-1zM2369 28h1v855h-1z"/>
<path fill="#eaeaf6" d="M1960 28h1v855h-1zM2056 28h1v855h-1zM2063 28h1v855h-1zM2095 28h1v855h-1zM2125 28h1v855h-1zM2159 28h1v855h-1zM2270 28h1v855h-1zM2303 28h1v855h-1zM2337 28h1v855h-1zM2366 28h1v855h-1zM2367 28h1v855h-1zM2406 28h1v855h-1zM2468 28h1v855h-1zM2502 28h1v855h-1zM2613 28h1v855h-1zM2680 28h1v855h-1zM2709 28h1v855h-1zM2815 28h1v855h-1z"/>
<path fill="#d8d8f0" d="M1961 28h1v855h-1zM1989 28h1v855h-1zM2106 28h1v855h-1zM2304 28h1v855h-1zM2332 28h1v855h-1zM2449 28h1v855h-1zM2507 28h1v855h-1zM2530 28h1v855h-1zM2816 28h1v855h-1zM2844 28h1v855h-1zM2873 28h1v855h-1z"/>
<path fill="#8a84cc" d="M1962 28h1v855h-1zM2162 28h1v855h-1zM2176 28h1v855h-1zM2305 28h1v855h-1zM2460 28h1v855h-1zM2519 28h1v855h-1zM2803 28h1v855h-1z"/>
<path fill="#6c6cba" d="M1963 28h1v855h-1zM2306 28h1v855h-1zM2814 28h1v855h-1zM2818 28h1v855h-1zM2881 28h1v855h-1z"/>
<path fill="#847ec0" d="M1964 28h1v855h-1zM2374 28h1v855h-1zM2431 28h1v855h-1zM2701 28h1v855h-1zM2717 28h1v855h-1z"/>
<path fill="#ccc6ea" d="M1966 28h1v855h-1zM2821 28h1v855h-1z"/>
<path fill="#6c66ba" d="M1968 28h1v855h-1zM1973 28h1v855h-1zM1978 28h1v855h-1zM2137 28h1v855h-1zM2142 28h1v855h-1zM2147 28h1v855h-1zM2311 28h1v855h-1zM2316 28h1v855h-1zM2321 28h1v855h-1zM2480 28h1v855h-1zM2485 28h1v855h-1zM2490 28h1v855h-1zM2649 28h1v855h-1zM2654 28h1v855h-1zM2659 28h1v855h-1zM2677 28h1v855h-1zM2823 28h1v855h-1zM2828 28h1v855h-1zM2833 28h1v855h-1z"/>
<path fill="#9690cc" d="M1969 28h1v855h-1zM1981 28h1v855h-1zM2312 28h1v855h-1zM2379 28h1v855h-1z"/>
<path fill="#bab4de" d="M1971 28h1v855h-1zM2322 28h1v855h-1zM2517 28h1v855h-1z"/>
<path fill="#7872c0" d="M1972 28h1v855h-1zM2127 28h1v855h-1zM2166 28h1v855h-1zM2470 28h1v855h-1zM2503 28h1v855h-1zM2509 28h1v855h-1zM2639 28h1v855h-1zM2669 28h1v855h-1zM2678 28h1v855h-1z"/>
<path fill="#a8a2d8" d="M1976 28h1v855h-1zM2317 28h1v855h-1zM2831 28h1v855h-1z"/>
<path fill="#726cc0" d="M1977 28h1v855h-1zM1987 28h1v855h-1zM2132 28h1v855h-1zM2146 28h1v855h-1zM2152 28h1v855h-1zM2156 28h1v855h-1zM2161 28h1v855h-1zM2301 28h1v855h-1zM2320 28h1v855h-1zM2330 28h1v855h-1zM2475 28h1v855h-1zM2489 28h1v855h-1zM2495 28h1v855h-1zM2499 28h1v855h-1zM2504 28h1v855h-1zM2644 28h1v855h-1zM2663 28h1v855h-1zM2668 28h1v855h-1zM2673 28h1v855h-1zM2832 28h1v855h-1zM2837 28h1v855h-1zM2838 28h1v855h-1zM2842 28h1v855h-1z"/>
<path fill="#b4b4de" d="M1979 28h1v855h-1zM2314 28h1v855h-1zM2558 28h1v855h-1zM2834 28h1v855h-1z"/>
<path fill="#6c6cc0" d="M1982 28h1v855h-1zM2151 28h1v855h-1zM2325 28h1v855h-1zM2494 28h1v855h-1z"/>
<path fill="#847ec6" d="M1986 28h1v855h-1zM2291 28h1v855h-1zM2307 28h1v855h-1zM2329 28h1v855h-1zM2514 28h1v855h-1zM2634 28h1v855h-1zM2857 28h1v855h-1z"/>
<path fill="#605ab4" d="M1996 28h1v855h-1zM2851 28h1v855h-1z"/>
<path fill="#7878c6" d="M1997 28h1v855h-1zM2296 28h1v855h-1zM2500 28h1v855h-1zM2852 28h1v855h-1z"/>
<path fill="#a2a2d8" d="M1998 28h1v855h-1zM2186 28h1v855h-1zM2319 28h1v855h-1zM2450 28h1v855h-1z"/>
<path fill="#4e48a8" d="M2001 28h1v855h-1zM2006 28h1v855h-1zM2108 28h1v855h-1zM2175 28h1v855h-1zM2344 28h1v855h-1zM2349 28h1v855h-1zM2513 28h1v855h-1zM2518 28h1v855h-1zM2620 28h1v855h-1zM2635 28h1v855h-1zM2687 28h1v855h-1zM2856 28h1v855h-1zM2861 28h1v855h-1z"/>
<path fill="#847ecc" d="M2002 28h1v855h-1zM2136 28h1v855h-1zM2331 28h1v855h-1zM2479 28h1v855h-1zM2674 28h1v855h-1z"/>
<path fill="#b4aee4" d="M2003 28h1v855h-1zM2121 28h1v855h-1zM2191 28h1v855h-1zM2788 28h1v855h-1z"/>
<path fill="#b4aed8" d="M2005 28h1v855h-1zM2215 28h1v855h-1zM2592 28h1v855h-1zM2725 28h1v855h-1z"/>
<path fill="#908acc" d="M2007 28h1v855h-1zM2481 28h1v855h-1zM2629 28h1v855h-1zM2667 28h1v855h-1z"/>
<path fill="#9c9ccc" d="M2010 28h1v855h-1zM2083 28h1v855h-1zM2587 28h1v855h-1zM2730 28h1v855h-1zM2795 28h1v855h-1z"/>
<path fill="#ccccf0" d="M2013 28h1v855h-1zM2027 28h1v855h-1zM2097 28h1v855h-1zM2111 28h1v855h-1zM2454 28h1v855h-1zM2882 28h1v855h-1z"/>
<path fill="#a8a8de" d="M2017 28h1v855h-1zM2295 28h1v855h-1zM2684 28h1v855h-1z"/>
<path fill="#ded8f6" d="M2018 28h1v855h-1zM2032 28h1v855h-1zM2778 28h1v855h-1z"/>
<path fill="#7872ba" d="M2020 28h1v855h-1zM2200 28h1v855h-1zM2273 28h1v855h-1zM2605 28h1v855h-1zM2645 28h1v855h-1zM2875 28h1v855h-1z"/>
<path fill="#6060ae" d="M2021 28h1v855h-1zM2880 28h1v855h-1z"/>
<path fill="#babaea" d="M2022 28h1v855h-1zM2802 28h1v855h-1z"/>
<path fill="#6c6cb4" d="M2026 28h1v855h-1zM2436 28h1v855h-1zM2706 28h1v855h-1z"/>
<path fill="#dedeea" d="M2029 28h1v855h-1zM2068 28h1v855h-1zM2433 28h1v855h-1zM2884 28h1v855h-1z"/>
<path fill="#7e78c0" d="M2031 28h1v855h-1zM2476 28h1v855h-1zM2672 28h1v855h-1zM2774 28h1v855h-1zM2886 28h1v855h-1z"/>
<path fill="#cccce4" d="M2034 28h1v855h-1zM2073 28h1v855h-1zM2169 28h1v855h-1zM2428 28h1v855h-1zM2563 28h1v855h-1zM2585 28h1v855h-1zM2636 28h1v855h-1zM2889 28h1v855h-1z"/>
<path fill="#363090" d="M2035 28h1v855h-1zM2074 28h1v855h-1zM2388 28h1v855h-1zM2427 28h1v855h-1zM2890 28h1v855h-1z"/>
<path fill="#babad8" d="M2039 28h1v855h-1zM2423 28h1v855h-1zM2894 28h1v855h-1z"/>
<path fill="#a8a2d2" d="M2041 28h1v855h-1zM2044 28h1v855h-1zM2179 28h1v855h-1zM2252 28h1v855h-1zM2418 28h1v855h-1zM2626 28h1v855h-1zM2896 28h1v855h-1zM2899 28h1v855h-1z"/>
<path fill="#423c9c" d="M2050 28h1v855h-1zM2089 28h1v855h-1zM2412 28h1v855h-1zM2716 28h1v855h-1z"/>
<path fill="#d2d2ea" d="M2051 28h1v855h-1zM2124 28h1v855h-1zM2158 28h1v855h-1zM2338 28h1v855h-1zM2467 28h1v855h-1zM2501 28h1v855h-1zM2681 28h1v855h-1z"/>
<path fill="#5454a2" d="M2055 28h1v855h-1zM2407 28h1v855h-1z"/>
<path fill="#6c66ae" d="M2059 28h1v855h-1zM2099 28h1v855h-1zM2194 28h1v855h-1zM2403 28h1v855h-1z"/>
<path fill="#6666ae" d="M2060 28h1v855h-1zM2402 28h1v855h-1zM2611 28h1v855h-1z"/>
<path fill="#5a54a8" d="M2064 28h1v855h-1zM2103 28h1v855h-1zM2398 28h1v855h-1zM2437 28h1v855h-1zM2615 28h1v855h-1zM2711 28h1v855h-1z"/>
<path fill="#48429c" d="M2069 28h1v855h-1zM2373 28h1v855h-1zM2393 28h1v855h-1zM2432 28h1v855h-1z"/>
<path fill="#908ac0" d="M2070 28h1v855h-1zM2392 28h1v855h-1z"/>
<path fill="#a2a2cc" d="M2075 28h1v855h-1zM2387 28h1v855h-1z"/>
<path fill="#8484c0" d="M2088 28h1v855h-1zM2223 28h1v855h-1zM2239 28h1v855h-1zM2358 28h1v855h-1zM2447 28h1v855h-1z"/>
<path fill="#5a54a2" d="M2094 28h1v855h-1z"/>
<path fill="#bab4e4" d="M2102 28h1v855h-1zM2290 28h1v855h-1zM2689 28h1v855h-1zM2877 28h1v855h-1z"/>
<path fill="#a8a2de" d="M2107 28h1v855h-1zM2341 28h1v855h-1zM2638 28h1v855h-1zM2872 28h1v855h-1z"/>
<path fill="#9696d2" d="M2112 28h1v855h-1zM2524 28h1v855h-1zM2679 28h1v855h-1zM2836 28h1v855h-1zM2867 28h1v855h-1z"/>
<path fill="#aea8d2" d="M2114 28h1v855h-1zM2764 28h1v855h-1z"/>
<path fill="#8a8acc" d="M2117 28h1v855h-1zM2155 28h1v855h-1zM2862 28h1v855h-1z"/>
<path fill="#423ca2" d="M2118 28h1v855h-1zM2287 28h1v855h-1zM2461 28h1v855h-1zM2630 28h1v855h-1zM2799 28h1v855h-1z"/>
<path fill="#7e7ec6" d="M2122 28h1v855h-1zM2171 28h1v855h-1z"/>
<path fill="#a29cde" d="M2126 28h1v855h-1z"/>
<path fill="#6660b4" d="M2128 28h1v855h-1zM2165 28h1v855h-1zM2364 28h1v855h-1zM2508 28h1v855h-1zM2707 28h1v855h-1zM2876 28h1v855h-1z"/>
<path fill="#e4def0" d="M2129 28h1v855h-1zM2541 28h1v855h-1z"/>
<path fill="#908ad2" d="M2131 28h1v855h-1zM2286 28h1v855h-1zM2350 28h1v855h-1zM2474 28h1v855h-1zM2848 28h1v855h-1z"/>
<path fill="#7878c0" d="M2133 28h1v855h-1zM2160 28h1v855h-1zM2543 28h1v855h-1z"/>
<path fill="#d2ccea" d="M2135 28h1v855h-1z"/>
<path fill="#8a8ac6" d="M2138 28h1v855h-1zM2548 28h1v855h-1zM2600 28h1v855h-1zM2870 28h1v855h-1z"/>
<path fill="#7872c6" d="M2141 28h1v855h-1zM2157 28h1v855h-1zM2484 28h1v855h-1zM2827 28h1v855h-1z"/>
<path fill="#9c9cd2" d="M2143 28h1v855h-1zM2150 28h1v855h-1zM2210 28h1v855h-1z"/>
<path fill="#aea8d8" d="M2145 28h1v855h-1zM2691 28h1v855h-1z"/>
<path fill="#aeaed8" d="M2148 28h1v855h-1zM2348 28h1v855h-1zM2421 28h1v855h-1zM2457 28h1v855h-1zM2727 28h1v855h-1z"/>
<path fill="#4e4ea8" d="M2180 28h1v855h-1zM2692 28h1v855h-1z"/>
<path fill="#9690d2" d="M2181 28h1v855h-1zM2336 28h1v855h-1zM2455 28h1v855h-1zM2798 28h1v855h-1z"/>
<path fill="#5454a8" d="M2185 28h1v855h-1zM2466 28h1v855h-1z"/>
<path fill="#d8d2f0" d="M2187 28h1v855h-1zM2792 28h1v855h-1z"/>
<path fill="#c6c6f0" d="M2196 28h1v855h-1zM2440 28h1v855h-1zM2539 28h1v855h-1z"/>
<path fill="#d8d2f6" d="M2201 28h1v855h-1zM2266 28h1v855h-1z"/>
<path fill="#d2d2e4" d="M2203 28h1v855h-1zM2242 28h1v855h-1zM2259 28h1v855h-1z"/>
<path fill="#8a84c6" d="M2205 28h1v855h-1zM2498 28h1v855h-1zM2650 28h1v855h-1z"/>
<path fill="#aeaed2" d="M2213 28h1v855h-1zM2249 28h1v855h-1z"/>
<path fill="#9c96c6" d="M2218 28h1v855h-1zM2244 28h1v855h-1z"/>
<path fill="#ccc6e4" d="M2220 28h1v855h-1zM2293 28h1v855h-1zM2512 28h1v855h-1z"/>
<path fill="#7272b4" d="M2228 28h1v855h-1zM2234 28h1v855h-1zM2785 28h1v855h-1z"/>
<path fill="#f6f6f6" d="M2230 28h1v855h-1z"/>
<path fill="#f6f0f6" d="M2232 28h1v855h-1z"/>
<path fill="#908ac6" d="M2257 28h1v855h-1zM2278 28h1v855h-1zM2527 28h1v855h-1zM2891 28h1v855h-1z"/>
<path fill="#7878ba" d="M2262 28h1v855h-1zM2397 28h1v855h-1zM2532 28h1v855h-1z"/>
<path fill="#6666b4" d="M2267 28h1v855h-1z"/>
<path fill="#5a5aae" d="M2272 28h1v855h-1z"/>
<path fill="#9c9cd8" d="M2281 28h1v855h-1zM2510 28h1v855h-1zM2698 28h1v855h-1zM2812 28h1v855h-1z"/>
<path fill="#bab4d8" d="M2288 28h1v855h-1z"/>
<path fill="#ded8f0" d="M2298 28h1v855h-1z"/>
<path fill="#9696d8" d="M2300 28h1v855h-1z"/>
<path fill="#9090cc" d="M2324 28h1v855h-1zM2824 28h1v855h-1z"/>
<path fill="#b4b4e4" d="M2346 28h1v855h-1zM2445 28h1v855h-1zM2534 28h1v855h-1zM2633 28h1v855h-1z"/>
<path fill="#c6c0ea" d="M2351 28h1v855h-1zM2628 28h1v855h-1z"/>
<path fill="#9c96cc" d="M2353 28h1v855h-1zM2452 28h1v855h-1z"/>
<path fill="#d2ccf0" d="M2356 28h1v855h-1zM2370 28h1v855h-1z"/>
<path fill="#c0baea" d="M2365 28h1v855h-1zM2459 28h1v855h-1zM2614 28h1v855h-1z"/>
<path fill="#f0eaf6" d="M2399 28h1v855h-1z"/>
<path fill="#7e7eba" d="M2408 28h1v855h-1z"/>
<path fill="#9696cc" d="M2426 28h1v855h-1zM2696 28h1v855h-1zM2722 28h1v855h-1z"/>
<path fill="#f0eafc" d="M2439 28h1v855h-1z"/>
<path fill="#c6c0de" d="M2462 28h1v855h-1zM2720 28h1v855h-1zM2759 28h1v855h-1z"/>
<path fill="#aeaee4" d="M2464 28h1v855h-1z"/>
<path fill="#a29cd2" d="M2486 28h1v855h-1zM2553 28h1v855h-1zM2662 28h1v855h-1z"/>
<path fill="#b4aede" d="M2491 28h1v855h-1zM2657 28h1v855h-1z"/>
<path fill="#9c96d2" d="M2493 28h1v855h-1zM2655 28h1v855h-1z"/>
<path fill="#c6c0e4" d="M2496 28h1v855h-1zM2652 28h1v855h-1zM2732 28h1v855h-1z"/>
<path fill="#8a8ad2" d="M2505 28h1v855h-1zM2817 28h1v855h-1z"/>
<path fill="#c0bae4" d="M2520 28h1v855h-1z"/>
<path fill="#a2a2de" d="M2529 28h1v855h-1z"/>
<path fill="#4e4ea2" d="M2542 28h1v855h-1zM2905 28h1v855h-1z"/>
<path fill="#8a8ac0" d="M2582 28h1v855h-1z"/>
<path fill="#3c3096" d="M2586 28h1v855h-1z"/>
<path fill="#c6c6de" d="M2597 28h1v855h-1z"/>
<path fill="#fcf6fc" d="M2603 28h1v855h-1z"/>
<path fill="#eae4f0" d="M2607 28h1v855h-1z"/>
<path fill="#6060b4" d="M2640 28h1v855h-1z"/>
<path fill="#9690d8" d="M2643 28h1v855h-1z"/>
<path fill="#6c66c0" d="M2664 28h1v855h-1z"/>
<path fill="#eaeaf0" d="M2710 28h1v855h-1z"/>
<path fill="#7272ba" d="M2712 28h1v855h-1zM2846 28h1v855h-1z"/>
<path fill="#9690c6" d="M2769 28h1v855h-1z"/>
<path fill="#e4def6" d="M2787 28h1v855h-1z"/>
<path fill="#ccc6f0" d="M2797 28h1v855h-1z"/>
<path fill="#f6f0fc" d="M2806 28h1v855h-1z"/>
<path fill="#eae4f6" d="M2811 28h1v855h-1z"/>
<path fill="#7e7ec0" d="M2819 28h1v855h-1z"/>
<path fill="#7e7ecc" d="M2822 28h1v855h-1z"/>
<path fill="#8484c6" d="M2841 28h1v855h-1z"/>
<path fill="#90ca94" d="M1822.40 38.15h4.83v1.90h-4.83zM1822.40 407.90h4.83v1.90h-4.83zM1822.40 777.65h4.83v1.90h-4.83z"/>
<path fill="#c8c271" d="M1827.23 38.15h4.83v1.90h-4.83zM1856.21 186.05h4.83v1.90h-4.83zM1856.21 260.00h4.83v1.90h-4.83zM1827.23 407.90h4.83v1.90h-4.83zM1856.21 555.80h4.83v1.90h-4.83zM1856.21 629.75h4.83v1.90h-4.83zM1827.23 777.65h4.83v1.90h-4.83z"/>
<path fill="#e8b95b" d="M1832.06 38.15h9.66v1.90h-9.66zM1856.21 38.15h4.83v1.90h-4.83zM1841.72 186.05h9.66v1.90h-9.66zM1841.72 260.00h9.66v1.90h-9.66zM1832.06 407.90h9.66v1.90h-9.66zM1856.21 407.90h4.83v1.90h-4.83zM1841.72 555.80h9.66v1.90h-9.66zM1841.72 629.75h9.66v1.90h-9.66zM1832.06 777.65h9.66v1.90h-9.66zM1856.21 777.65h4.83v1.90h-4.83z"/>
<path fill="#eecf60" d="M1841.72 38.15h4.83v1.90h-4.83zM1841.72 407.90h4.83v1.90h-4.83zM1841.72 777.65h4.83v1.90h-4.83z"/>
<path fill="#f0e66c" d="M1846.55 38.15h4.83v1.90h-4.83zM1846.55 407.90h4.83v1.90h-4.83zM1846.55 777.65h4.83v1.90h-4.83z"/>
<path fill="#f0e169" d="M1851.38 38.15h4.83v1.90h-4.83zM1851.38 407.90h4.83v1.90h-4.83zM1851.38 777.65h4.83v1.90h-4.83z"/>
<path fill="#cec06c" d="M1861.04 38.15h4.83v1.90h-4.83zM1861.04 407.90h4.83v1.90h-4.83zM1870.71 481.85h4.83v1.90h-4.83zM1861.04 777.65h4.83v1.90h-4.83z"/>
<path fill="#83ca9c" d="M1865.88 38.15h4.83v1.90h-4.83zM1832.06 186.05h4.83v1.90h-4.83zM1832.06 260.00h4.83v1.90h-4.83zM1865.88 407.90h4.83v1.90h-4.83zM1832.06 555.80h4.83v1.90h-4.83zM1832.06 629.75h4.83v1.90h-4.83zM1865.88 777.65h4.83v1.90h-4.83z"/>
<path fill="#a7c886" d="M1870.71 38.15h4.83v1.90h-4.83zM1870.71 407.90h4.83v1.90h-4.83zM1870.71 777.65h4.83v1.90h-4.83z"/>
<path fill="#7dc9a1" d="M1875.54 38.15h4.83v1.90h-4.83zM1861.04 186.05h4.83v1.90h-4.83zM1861.04 260.00h4.83v1.90h-4.83zM1875.54 407.90h4.83v1.90h-4.83zM1861.04 555.80h4.83v1.90h-4.83zM1861.04 629.75h4.83v1.90h-4.83zM1875.54 777.65h4.83v1.90h-4.83z"/>
<path fill="#64c5b6" d="M1880.37 38.15h4.83v1.90h-4.83zM1822.40 186.05h4.83v1.90h-4.83zM1822.40 260.00h4.83v1.90h-4.83zM1880.37 407.90h4.83v1.90h-4.83zM1822.40 555.80h4.83v1.90h-4.83zM1822.40 629.75h4.83v1.90h-4.83zM1880.37 777.65h4.83v1.90h-4.83z"/>
<path fill="#5dc5bc" d="M1885.20 38.15h4.83v1.90h-4.83zM1885.20 407.90h4.83v1.90h-4.83zM1885.20 777.65h4.83v1.90h-4.83z"/>
<path fill="#5fa5d6" d="M1890.03 38.15h4.83v1.90h-4.83zM1870.71 186.05h4.83v1.90h-4.83zM1870.71 260.00h4.83v1.90h-4.83zM1890.03 407.90h4.83v1.90h-4.83zM1870.71 555.80h4.83v1.90h-4.83zM1870.71 629.75h4.83v1.90h-4.83zM1890.03 777.65h4.83v1.90h-4.83z"/>
<path fill="#5b91d4" d="M1894.86 38.15h4.83v1.90h-4.83zM1841.72 112.10h4.83v1.90h-4.83zM1890.03 186.05h4.83v1.90h-4.83zM1890.03 260.00h4.83v1.90h-4.83zM1841.72 333.95h4.83v1.90h-4.83zM1894.86 407.90h4.83v1.90h-4.83zM1841.72 481.85h4.83v1.90h-4.83zM1890.03 555.80h4.83v1.90h-4.83zM1890.03 629.75h4.83v1.90h-4.83zM1841.72 703.70h4.83v1.90h-4.83zM1894.86 777.65h4.83v1.90h-4.83zM1841.72 851.60h4.83v1.90h-4.83z"/>
<path fill="#5c95d6" d="M1899.69 38.15h4.83v1.90h-4.83zM1899.69 407.90h4.83v1.90h-4.83zM1899.69 777.65h4.83v1.90h-4.83z"/>
<path fill="#5d9bd8" d="M1904.52 38.15h4.83v1.90h-4.83zM1904.52 407.90h4.83v1.90h-4.83zM1904.52 777.65h4.83v1.90h-4.83z"/>
<path fill="#5258ac" d="M1909.35 38.15h4.83v1.90h-4.83zM1909.35 186.05h4.83v1.90h-4.83zM1909.35 260.00h4.83v1.90h-4.83zM1909.35 407.90h4.83v1.90h-4.83zM1909.35 555.80h4.83v1.90h-4.83zM1909.35 629.75h4.83v1.90h-4.83zM1909.35 777.65h4.83v1.90h-4.83z"/>
<path fill="#504aa0" d="M1914.18 38.15h991.22v1.90h-991.22zM1880.37 112.10h1025.03v1.90h-1025.03zM1914.18 186.05h991.22v1.90h-991.22zM1914.18 260.00h991.22v1.90h-991.22zM1880.37 333.95h1025.03v1.90h-1025.03zM1914.18 407.90h991.22v1.90h-991.22zM1880.37 481.85h1025.03v1.90h-1025.03zM1914.18 555.80h991.22v1.90h-991.22zM1914.18 629.75h991.22v1.90h-991.22zM1880.37 703.70h1025.03v1.90h-1025.03zM1914.18 777.65h991.22v1.90h-991.22zM1880.37 851.60h1025.03v1.90h-1025.03z"/>
<path fill="#5466b8" d="M1822.40 112.10h4.83v1.90h-4.83zM1822.40 333.95h4.83v1.90h-4.83zM1822.40 481.85h4.83v1.90h-4.83zM1822.40 703.70h4.83v1.90h-4.83zM1822.40 851.60h4.83v1.90h-4.83z"/>
<path fill="#546bbc" d="M1827.23 112.10h4.83v1.90h-4.83zM1827.23 333.95h4.83v1.90h-4.83zM1827.23 481.85h4.83v1.90h-4.83zM1827.23 703.70h4.83v1.90h-4.83zM1827.23 851.60h4.83v1.90h-4.83z"/>
<path fill="#5886d1" d="M1832.06 112.10h4.83v1.90h-4.83zM1832.06 333.95h4.83v1.90h-4.83zM1832.06 481.85h4.83v1.90h-4.83zM1832.06 703.70h4.83v1.90h-4.83zM1832.06 851.60h4.83v1.90h-4.83z"/>
<path fill="#5988d2" d="M1836.89 112.10h4.83v1.90h-4.83zM1836.89 333.95h4.83v1.90h-4.83zM1836.89 481.85h4.83v1.90h-4.83zM1836.89 703.70h4.83v1.90h-4.83zM1836.89 851.60h4.83v1.90h-4.83z"/>
<path fill="#5780cf" d="M1846.55 112.10h9.66v1.90h-9.66zM1846.55 333.95h9.66v1.90h-9.66zM1846.55 481.85h9.66v1.90h-9.66zM1846.55 703.70h9.66v1.90h-9.66zM1846.55 851.60h9.66v1.90h-9.66z"/>
<path fill="#5678c8" d="M1856.21 112.10h4.83v1.90h-4.83zM1894.86 186.05h4.83v1.90h-4.83zM1894.86 260.00h4.83v1.90h-4.83zM1856.21 333.95h4.83v1.90h-4.83zM1856.21 481.85h4.83v1.90h-4.83zM1894.86 555.80h4.83v1.90h-4.83zM1894.86 629.75h4.83v1.90h-4.83zM1856.21 703.70h4.83v1.90h-4.83zM1856.21 851.60h4.83v1.90h-4.83z"/>
<path fill="#556fc0" d="M1861.04 112.10h4.83v1.90h-4.83zM1861.04 333.95h4.83v1.90h-4.83zM1861.04 481.85h4.83v1.90h-4.83zM1861.04 703.70h4.83v1.90h-4.83zM1861.04 851.60h4.83v1.90h-4.83z"/>
<path fill="#5361b4" d="M1865.88 112.10h4.83v1.90h-4.83zM1865.88 333.95h4.83v1.90h-4.83zM1865.88 703.70h4.83v1.90h-4.83zM1865.88 851.60h4.83v1.90h-4.83z"/>
<path fill="#525db0" d="M1870.71 112.10h4.83v1.90h-4.83zM1870.71 333.95h4.83v1.90h-4.83zM1870.71 703.70h4.83v1.90h-4.83zM1870.71 851.60h4.83v1.90h-4.83z"/>
<path fill="#5052a8" d="M1875.54 112.10h4.83v1.90h-4.83zM1875.54 333.95h4.83v1.90h-4.83zM1875.54 481.85h4.83v1.90h-4.83zM1875.54 703.70h4.83v1.90h-4.83zM1875.54 851.60h4.83v1.90h-4.83z"/>
<path fill="#6dc7af" d="M1827.23 186.05h4.83v1.90h-4.83zM1827.23 260.00h4.83v1.90h-4.83zM1827.23 555.80h4.83v1.90h-4.83zM1827.23 629.75h4.83v1.90h-4.83z"/>
<path fill="#bec678" d="M1836.89 186.05h4.83v1.90h-4.83zM1836.89 260.00h4.83v1.90h-4.83zM1836.89 555.80h4.83v1.90h-4.83zM1836.89 629.75h4.83v1.90h-4.83z"/>
<path fill="#eac25d" d="M1851.38 186.05h4.83v1.90h-4.83zM1851.38 260.00h4.83v1.90h-4.83zM1851.38 555.80h4.83v1.90h-4.83zM1851.38 629.75h4.83v1.90h-4.83z"/>
<path fill="#60bacb" d="M1865.88 186.05h4.83v1.90h-4.83zM1880.37 186.05h4.83v1.90h-4.83zM1865.88 260.00h4.83v1.90h-4.83zM1880.37 260.00h4.83v1.90h-4.83zM1865.88 555.80h4.83v1.90h-4.83zM1880.37 555.80h4.83v1.90h-4.83zM1865.88 629.75h4.83v1.90h-4.83zM1880.37 629.75h4.83v1.90h-4.83z"/>
<path fill="#61b2d4" d="M1875.54 186.05h4.83v1.90h-4.83zM1875.54 260.00h4.83v1.90h-4.83zM1875.54 555.80h4.83v1.90h-4.83zM1875.54 629.75h4.83v1.90h-4.83z"/>
<path fill="#5fa1d7" d="M1885.20 186.05h4.83v1.90h-4.83zM1885.20 260.00h4.83v1.90h-4.83zM1885.20 555.80h4.83v1.90h-4.83zM1885.20 629.75h4.83v1.90h-4.83z"/>
<path fill="#5782d0" d="M1899.69 186.05h9.66v1.90h-9.66zM1899.69 260.00h9.66v1.90h-9.66zM1899.69 555.80h9.66v1.90h-9.66zM1899.69 629.75h9.66v1.90h-9.66z"/>
<path fill="#b0c780" d="M1865.88 481.85h4.83v1.90h-4.83z"/></g>
<rect x="1822.40" y="28.45" width="1083.00" height="854.25" fill="none" stroke="#151111" stroke-width="2.85"/>
<path d="M1957.78 882.70v-14M2093.15 882.70v-14M2228.53 882.70v-14M2363.90 882.70v-14M2499.28 882.70v-14M2634.65 882.70v-14M2770.03 882.70v-14M1822.40 199.30h14M1822.40 370.15h14M1822.40 541.00h14M1822.40 711.85h14" stroke="#1a1a1a" stroke-width="2.6" fill="none"/>
<g class="t">
<text transform="translate(1822.4 945.0) scale(0.96 1)" text-anchor="middle">0</text>
<text transform="translate(1957.8 945.0) scale(0.96 1)" text-anchor="middle">10</text>
<text transform="translate(2093.2 945.0) scale(0.96 1)" text-anchor="middle">20</text>
<text transform="translate(2228.5 945.0) scale(0.96 1)" text-anchor="middle">30</text>
<text transform="translate(2363.9 945.0) scale(0.96 1)" text-anchor="middle">40</text>
<text transform="translate(2499.3 945.0) scale(0.96 1)" text-anchor="middle">50</text>
<text transform="translate(2634.7 945.0) scale(0.96 1)" text-anchor="middle">60</text>
<text transform="translate(2770.0 945.0) scale(0.96 1)" text-anchor="middle">70</text>
<text transform="translate(2905.4 945.0) scale(0.96 1)" text-anchor="middle">80</text>
<text transform="translate(1800.9 42.5) scale(0.95 1)" text-anchor="end">10</text>
<text transform="translate(1800.9 213.3) scale(0.95 1)" text-anchor="end">5</text>
<text transform="translate(1800.9 384.1) scale(0.95 1)" text-anchor="end">0</text>
<text transform="translate(1800.9 555.0) scale(0.95 1)" text-anchor="end">−5</text>
<text transform="translate(1800.9 725.9) scale(0.95 1)" text-anchor="end">−10</text>
<text transform="translate(1800.9 896.7) scale(0.95 1)" text-anchor="end">−15</text>
<text x="2363.9" y="1010.0" text-anchor="middle">距离/m</text>
<text x="2363.9" y="1100.7" text-anchor="middle" style="font-size:52px">(b) 受扫频干扰影响</text>
<text transform="translate(1685.9 455.6) rotate(-90)" text-anchor="middle" style="font-size:52px">速度/(m·s<tspan font-size="33" dy="-18">−1</tspan><tspan dy="18">)</tspan></text>
</g>
<g shape-rendering="crispEdges"><path fill="#fcfcfc" d="M1057 1192h1v855h-1zM1065 1573h1v74h-1zM1070 1192h1v855h-1zM1075 1192h1v855h-1zM1080 1192h1v855h-1zM1099 1192h1v855h-1zM1104 1192h1v855h-1zM1108 1499h1v74h-1zM1109 1192h1v855h-1zM1113 1192h1v855h-1zM1114 1192h1v855h-1zM1118 1192h1v855h-1zM1119 1192h1v855h-1zM1123 1192h1v855h-1zM1127 1192h1v855h-1zM1128 1192h1v855h-1zM1132 1192h1v855h-1zM1133 1192h1v855h-1zM1137 1192h1v855h-1zM1138 1192h1v855h-1zM1142 1192h1v855h-1zM1143 1192h1v855h-1zM1147 1192h1v855h-1zM1152 1192h1v855h-1zM1157 1721h1v74h-1zM1166 1192h1v855h-1zM1171 1192h1v855h-1zM1176 1192h1v855h-1zM1181 1192h1v855h-1zM1200 1192h1v233h-1zM1200 1499h1v548h-1zM1205 1192h1v855h-1zM1210 1192h1v855h-1zM1215 1192h1v855h-1zM1220 1192h1v855h-1zM1239 1192h1v855h-1zM1244 1192h1v855h-1zM1249 1192h1v855h-1zM1254 1192h1v855h-1zM1268 1192h1v855h-1zM1273 1192h1v855h-1zM1278 1192h1v855h-1zM1282 1192h1v855h-1zM1283 1192h1v855h-1zM1287 1192h1v855h-1zM1288 1192h1v855h-1zM1292 1192h1v855h-1zM1293 1192h1v855h-1zM1296 1192h1v855h-1zM1297 1192h1v855h-1zM1301 1192h1v855h-1zM1302 1192h1v855h-1zM1306 1192h1v855h-1zM1307 1192h1v855h-1zM1311 1192h1v855h-1zM1312 1192h1v855h-1zM1316 1192h1v855h-1zM1317 1192h1v855h-1zM1321 1192h1v855h-1zM1335 1192h1v855h-1zM1340 1192h1v855h-1zM1345 1192h1v855h-1zM1350 1192h1v855h-1zM1355 1192h1v855h-1zM1374 1192h1v855h-1zM1379 1192h1v855h-1zM1384 1192h1v855h-1zM1408 1192h1v855h-1zM1413 1192h1v855h-1zM1418 1192h1v855h-1zM1423 1192h1v855h-1zM1442 1192h1v855h-1zM1447 1192h1v855h-1zM1452 1192h1v855h-1zM1456 1192h1v855h-1zM1457 1192h1v855h-1zM1461 1192h1v855h-1zM1462 1192h1v855h-1zM1466 1192h1v855h-1zM1470 1192h1v855h-1zM1471 1192h1v855h-1zM1475 1192h1v855h-1zM1476 1192h1v855h-1zM1480 1192h1v855h-1zM1481 1192h1v855h-1zM1485 1192h1v855h-1zM1486 1192h1v855h-1zM1490 1192h1v855h-1zM1495 1192h1v855h-1zM1504 1277h1v74h-1zM1504 1647h1v74h-1zM1504 2017h1v30h-1zM1509 1192h1v855h-1zM1514 1192h1v855h-1zM1519 1192h1v855h-1zM1524 1192h1v855h-1zM1548 1192h1v855h-1zM1553 1192h1v855h-1zM1558 1192h1v855h-1zM1582 1192h1v855h-1zM1587 1192h1v855h-1zM1592 1192h1v855h-1zM1597 1192h1v855h-1zM1611 1192h1v855h-1zM1616 1192h1v855h-1zM1621 1192h1v855h-1zM1625 1192h1v855h-1zM1626 1192h1v855h-1zM1630 1192h1v855h-1zM1631 1192h1v855h-1zM1635 1192h1v855h-1zM1636 1192h1v855h-1zM1639 1192h1v855h-1zM1640 1192h1v855h-1zM1644 1192h1v855h-1zM1645 1192h1v855h-1zM1649 1192h1v855h-1zM1650 1192h1v855h-1zM1654 1192h1v855h-1zM1655 1192h1v855h-1zM1659 1192h1v855h-1zM1664 1192h1v855h-1zM1678 1192h1v855h-1zM1683 1192h1v855h-1zM1688 1192h1v855h-1zM1693 1192h1v855h-1zM1717 1192h1v855h-1zM1722 1192h1v855h-1zM1727 1192h1v855h-1zM1751 1192h1v855h-1zM1756 1192h1v855h-1zM1761 1192h1v855h-1zM1766 1192h1v855h-1zM1785 1192h1v855h-1zM1790 1192h1v855h-1zM1795 1192h1v855h-1zM1799 1192h1v855h-1zM1800 1192h1v855h-1zM1804 1192h1v855h-1zM1805 1192h1v855h-1zM1809 1192h1v855h-1zM1813 1192h1v855h-1zM1814 1192h1v855h-1zM1818 1192h1v855h-1zM1819 1192h1v855h-1zM1823 1192h1v855h-1zM1824 1192h1v855h-1zM1828 1192h1v855h-1zM1833 1192h1v855h-1zM1852 1192h1v855h-1zM1857 1192h1v855h-1zM1862 1192h1v855h-1zM1867 1192h1v855h-1zM1886 1192h1v855h-1zM1891 1192h1v855h-1zM1896 1192h1v855h-1zM1901 1192h1v855h-1zM1925 1192h1v855h-1zM1930 1192h1v855h-1zM1935 1192h1v855h-1zM1940 1192h1v855h-1zM1954 1192h1v855h-1zM1959 1192h1v855h-1zM1964 1192h1v855h-1zM1969 1192h1v855h-1zM1973 1192h1v855h-1zM1974 1192h1v855h-1zM1978 1192h1v855h-1zM1982 1192h1v855h-1zM1983 1192h1v855h-1zM1987 1192h1v855h-1zM1988 1192h1v855h-1zM1992 1192h1v855h-1zM1993 1192h1v855h-1zM1997 1192h1v855h-1zM1998 1192h1v855h-1zM2002 1192h1v855h-1zM2007 1192h1v855h-1zM2021 1192h1v855h-1zM2026 1192h1v855h-1zM2031 1192h1v855h-1zM2036 1192h1v855h-1zM2060 1192h1v855h-1zM2065 1192h1v855h-1zM2070 1192h1v855h-1zM2094 1192h1v855h-1zM2099 1192h1v855h-1zM2104 1192h1v855h-1zM2109 1192h1v855h-1zM2128 1192h1v855h-1zM2133 1192h1v855h-1zM2138 1192h1v855h-1z"/>
<path fill="#c6c6ea" d="M1058 1192h1v307h-1zM1058 1647h1v400h-1zM1243 1192h1v855h-1zM1506 1192h1v855h-1zM1675 1192h1v855h-1zM2032 1192h1v855h-1zM2056 1192h1v855h-1z"/>
<path fill="#e4f6ea" d="M1058 1499h1v74h-1zM1201 1425h1v74h-1z"/>
<path fill="#def0f0" d="M1058 1573h1v74h-1zM1235 1277h1v74h-1zM1235 1425h1v148h-1z"/>
<path fill="#8a84cc" d="M1059 1192h1v307h-1zM1059 1647h1v400h-1zM1740 1192h1v855h-1zM1864 1192h1v855h-1zM2052 1192h1v855h-1zM2097 1192h1v855h-1z"/>
<path fill="#c6e4d2" d="M1059 1499h1v74h-1z"/>
<path fill="#bae4e4" d="M1059 1573h1v74h-1zM1136 1192h1v85h-1zM1136 1351h1v74h-1zM1136 1573h1v74h-1zM1136 1721h1v148h-1zM1204 1277h1v148h-1zM1204 1795h1v148h-1zM1344 1425h1v74h-1zM1344 1795h1v74h-1zM1366 1573h1v74h-1zM1366 2017h1v30h-1z"/>
<path fill="#7e78c6" d="M1060 1192h1v307h-1zM1060 1647h1v400h-1zM1218 1192h1v855h-1zM1401 1192h1v855h-1zM1570 1192h1v855h-1zM1714 1192h1v855h-1zM1749 1192h1v855h-1zM1869 1192h1v855h-1zM2057 1192h1v855h-1zM2092 1192h1v855h-1z"/>
<path fill="#bae4d2" d="M1060 1499h1v74h-1zM1202 1425h1v74h-1zM1223 1499h1v74h-1zM1223 1869h1v74h-1z"/>
<path fill="#b4e4de" d="M1060 1573h1v74h-1zM1063 1573h1v74h-1zM1202 1943h1v74h-1zM1221 1573h1v74h-1zM1221 1721h1v148h-1zM1221 1943h1v74h-1zM1223 1573h1v74h-1zM1223 1721h1v148h-1zM1223 1943h1v74h-1zM1237 1277h1v74h-1zM1237 1425h1v148h-1zM1237 2017h1v30h-1zM1250 1795h1v74h-1zM1627 1351h1v74h-1zM1627 1499h1v74h-1zM1627 1721h1v74h-1zM1627 1943h1v74h-1z"/>
<path fill="#7878c6" d="M1061 1192h1v307h-1zM1061 1647h1v400h-1zM1193 1192h1v855h-1z"/>
<path fill="#ccdeba" d="M1061 1499h1v74h-1z"/>
<path fill="#aeded8" d="M1061 1573h1v74h-1zM1207 1425h1v148h-1zM1207 1721h1v74h-1zM1207 1943h1v104h-1zM1227 1721h1v74h-1zM1368 1573h1v74h-1zM1368 2017h1v30h-1z"/>
<path fill="#787ecc" d="M1062 1192h1v307h-1zM1062 1647h1v400h-1z"/>
<path fill="#f0d296" d="M1062 1499h1v74h-1z"/>
<path fill="#a2ded2" d="M1062 1573h1v74h-1z"/>
<path fill="#9096d8" d="M1063 1192h1v307h-1zM1063 1647h1v400h-1zM1232 1203h1v74h-1zM1232 2017h1v30h-1z"/>
<path fill="#f6dea8" d="M1063 1499h1v74h-1z"/>
<path fill="#b4bae4" d="M1064 1192h1v307h-1zM1064 1647h1v400h-1zM1233 1203h1v74h-1zM1233 2017h1v30h-1z"/>
<path fill="#f6e4c6" d="M1064 1499h1v74h-1z"/>
<path fill="#cceaea" d="M1064 1573h1v74h-1zM1252 1192h1v11h-1zM1252 1721h1v74h-1zM1342 1499h1v74h-1zM1342 1647h1v74h-1zM1342 1869h1v74h-1z"/>
<path fill="#f6f6fc" d="M1065 1192h1v307h-1zM1065 1647h1v400h-1zM1085 1192h1v855h-1zM1122 1192h1v159h-1zM1122 1425h1v592h-1zM1124 1192h1v855h-1zM1148 1192h1v855h-1zM1186 1351h1v74h-1zM1186 1943h1v74h-1zM1234 1192h1v11h-1zM1234 1277h1v740h-1zM1259 1192h1v11h-1zM1259 1351h1v148h-1zM1259 1647h1v74h-1zM1259 1795h1v74h-1zM1259 2017h1v30h-1zM1277 1203h1v74h-1zM1326 1192h1v855h-1zM1428 1192h1v855h-1zM1437 1192h1v855h-1zM1451 1192h1v855h-1zM1467 1192h1v855h-1zM1491 1192h1v855h-1zM1500 1425h1v74h-1zM1504 1425h1v74h-1zM1543 1192h1v855h-1zM1620 1192h1v855h-1zM1698 1192h1v855h-1zM1712 1192h1v855h-1zM1732 1192h1v855h-1zM1780 1192h1v855h-1zM1794 1192h1v855h-1zM1808 1192h1v855h-1zM1829 1192h1v855h-1zM1838 1192h1v855h-1zM1847 1192h1v855h-1zM1920 1192h1v855h-1zM1968 1192h1v855h-1zM1979 1192h1v855h-1zM2055 1192h1v855h-1zM2075 1192h1v855h-1zM2123 1192h1v855h-1zM2137 1192h1v855h-1z"/>
<path fill="#fcfcf6" d="M1065 1499h1v74h-1zM1103 1499h1v74h-1zM1108 1573h1v74h-1zM1157 1647h1v74h-1zM1161 1647h1v74h-1z"/>
<path fill="#d8eaf6" d="M1066 1192h1v11h-1zM1100 1721h1v74h-1zM1139 1203h1v74h-1zM1139 1351h1v74h-1zM1139 1943h1v74h-1zM1185 1425h1v74h-1zM1185 1647h1v148h-1zM1388 1499h1v74h-1zM1544 1203h1v74h-1zM1544 1425h1v592h-1zM1578 1192h1v85h-1zM1578 1351h1v74h-1zM1578 1499h1v74h-1zM1578 1647h1v74h-1zM1578 1795h1v74h-1zM1578 1943h1v74h-1zM1651 1351h1v148h-1zM1651 2017h1v30h-1z"/>
<path fill="#d2e4f6" d="M1066 1203h1v148h-1zM1066 1425h1v74h-1zM1066 1573h1v74h-1zM1066 1795h1v148h-1zM1066 2017h1v30h-1zM1069 1277h1v74h-1zM1069 1573h1v74h-1zM1069 1869h1v74h-1zM1069 2017h1v30h-1zM1146 1647h1v74h-1zM1146 1869h1v74h-1zM1146 2017h1v30h-1zM1182 1425h1v74h-1zM1182 1647h1v148h-1zM1274 1192h1v11h-1zM1274 1277h1v148h-1zM1274 1499h1v518h-1zM1482 1647h1v74h-1zM1581 1499h1v74h-1zM1581 1647h1v74h-1zM1600 1203h1v74h-1zM1600 1869h1v74h-1z"/>
<path fill="#d2def6" d="M1066 1351h1v74h-1zM1066 1499h1v74h-1zM1066 1647h1v148h-1zM1066 1943h1v74h-1zM1069 1203h1v74h-1zM1069 1351h1v222h-1zM1069 1647h1v222h-1zM1069 1943h1v74h-1zM1182 1192h1v11h-1zM1182 1499h1v148h-1zM1182 1869h1v74h-1zM1182 2017h1v30h-1zM1274 1203h1v74h-1zM1482 1351h1v148h-1zM1482 2017h1v30h-1zM1600 1425h1v296h-1zM1600 1943h1v104h-1z"/>
<path fill="#8ac6e4" d="M1067 1192h1v11h-1zM1579 1499h1v74h-1zM1579 1647h1v74h-1z"/>
<path fill="#84aee4" d="M1067 1203h1v74h-1zM1067 1425h1v74h-1zM1067 1795h1v74h-1zM1579 1573h1v74h-1zM1579 2017h1v30h-1z"/>
<path fill="#8ab4e4" d="M1067 1277h1v74h-1zM1067 1869h1v74h-1zM1067 2017h1v30h-1zM1116 1277h1v74h-1zM1155 1277h1v74h-1zM1155 1499h1v74h-1zM1155 1647h1v148h-1zM1155 2017h1v30h-1zM1405 1192h1v11h-1zM1405 1499h1v74h-1zM1405 1795h1v222h-1zM1579 1203h1v74h-1zM1579 1351h1v74h-1zM1579 1795h1v74h-1zM1584 1192h1v11h-1zM1584 1499h1v74h-1zM1584 1647h1v222h-1zM1584 1943h1v74h-1z"/>
<path fill="#84a8de" d="M1067 1351h1v74h-1zM1067 1499h1v74h-1zM1067 1647h1v148h-1zM1067 1943h1v74h-1zM1116 1499h1v74h-1zM1116 1795h1v222h-1zM1155 1203h1v74h-1zM1473 1192h1v85h-1zM1473 1351h1v74h-1zM1473 1499h1v74h-1zM1473 1647h1v148h-1zM1473 2017h1v30h-1zM1579 1277h1v74h-1zM1579 1721h1v74h-1zM1579 1869h1v74h-1zM1584 1351h1v148h-1z"/>
<path fill="#8abae4" d="M1067 1573h1v74h-1zM1358 1351h1v74h-1zM1358 1573h1v74h-1zM1358 1943h1v74h-1zM1415 1573h1v74h-1z"/>
<path fill="#b4d8f0" d="M1068 1192h1v11h-1z"/>
<path fill="#aec6f0" d="M1068 1203h1v74h-1zM1068 1425h1v74h-1zM1068 1795h1v74h-1zM1183 1499h1v74h-1zM1183 1869h1v74h-1zM1183 2017h1v30h-1zM1197 1425h1v148h-1zM1197 1795h1v74h-1zM1197 1943h1v74h-1zM1580 1573h1v74h-1zM1580 2017h1v30h-1z"/>
<path fill="#aeccf0" d="M1068 1277h1v74h-1zM1068 1869h1v74h-1zM1068 2017h1v30h-1zM1183 1425h1v74h-1zM1183 1647h1v148h-1zM1197 1192h1v233h-1zM1197 1647h1v148h-1zM1197 1869h1v74h-1zM1440 1203h1v74h-1zM1440 1351h1v74h-1zM1440 1573h1v74h-1zM1440 1795h1v74h-1zM1440 1943h1v104h-1zM1564 1203h1v148h-1zM1564 1721h1v326h-1zM1566 1203h1v148h-1zM1566 1721h1v326h-1zM1580 1203h1v74h-1zM1580 1351h1v74h-1zM1580 1795h1v74h-1z"/>
<path fill="#aec6ea" d="M1068 1351h1v74h-1zM1068 1499h1v74h-1zM1068 1647h1v148h-1zM1068 1943h1v74h-1zM1115 1499h1v74h-1zM1115 1795h1v222h-1zM1183 1192h1v11h-1zM1183 1573h1v74h-1zM1440 1425h1v74h-1zM1474 1192h1v233h-1zM1474 1499h1v296h-1zM1474 1869h1v74h-1zM1474 2017h1v30h-1z"/>
<path fill="#aed2f0" d="M1068 1573h1v74h-1zM1357 1277h1v74h-1zM1357 1647h1v74h-1zM1357 1795h1v74h-1zM1406 1203h1v74h-1zM1566 1351h1v74h-1zM1566 1573h1v74h-1zM1580 1192h1v11h-1zM1580 1943h1v74h-1z"/>
<path fill="#d2eaf6" d="M1069 1192h1v11h-1zM1146 1192h1v85h-1zM1146 1351h1v296h-1zM1146 1943h1v74h-1zM1214 1203h1v148h-1zM1214 1721h1v148h-1zM1274 1425h1v74h-1zM1274 2017h1v30h-1zM1337 1192h1v455h-1zM1337 1721h1v222h-1z"/>
<path fill="#aea8d8" d="M1071 1192h1v855h-1zM1962 1192h1v855h-1z"/>
<path fill="#544eae" d="M1072 1192h1v855h-1zM1241 1192h1v855h-1zM1410 1192h1v855h-1z"/>
<path fill="#9c96d8" d="M1073 1192h1v855h-1zM1571 1192h1v855h-1zM1704 1192h1v855h-1zM1745 1192h1v855h-1zM1933 1192h1v855h-1zM2047 1192h1v855h-1z"/>
<path fill="#ccccf0" d="M1074 1192h1v855h-1zM1431 1192h1v855h-1zM1520 1192h1v855h-1zM1844 1192h1v855h-1zM1858 1192h1v855h-1zM1948 1192h1v855h-1z"/>
<path fill="#9c96cc" d="M1076 1192h1v855h-1z"/>
<path fill="#5a54ae" d="M1077 1192h1v855h-1zM1169 1192h1v855h-1zM1246 1192h1v855h-1zM1589 1192h1v855h-1zM1937 1192h1v855h-1z"/>
<path fill="#a8a2de" d="M1078 1192h1v855h-1zM1173 1192h1v855h-1zM1854 1192h1v855h-1z"/>
<path fill="#d8d8f0" d="M1079 1192h1v855h-1zM1172 1192h1v855h-1zM1393 1192h1v855h-1zM1515 1192h1v855h-1zM1539 1192h1v455h-1zM1539 1721h1v326h-1zM2051 1192h1v855h-1zM2108 1192h1v855h-1z"/>
<path fill="#aedede" d="M1081 1192h1v85h-1zM1081 1499h1v74h-1zM1081 1721h1v74h-1zM1081 1943h1v74h-1zM1339 1943h1v104h-1z"/>
<path fill="#aed8ea" d="M1081 1277h1v222h-1zM1081 1795h1v148h-1zM1081 2017h1v30h-1zM1202 1573h1v74h-1zM1237 1869h1v74h-1zM1339 1192h1v11h-1zM1339 1277h1v74h-1zM1339 1573h1v74h-1zM1564 1192h1v11h-1zM1564 1425h1v74h-1z"/>
<path fill="#aed2ea" d="M1081 1573h1v74h-1zM1199 1573h1v74h-1zM1199 2017h1v30h-1zM1424 1277h1v74h-1zM1424 1425h1v148h-1zM1424 1721h1v74h-1zM1440 1192h1v11h-1zM1440 1277h1v74h-1zM1440 1499h1v74h-1zM1440 1721h1v74h-1zM1564 1351h1v74h-1zM1564 1573h1v74h-1z"/>
<path fill="#b4e4d8" d="M1081 1647h1v74h-1zM1097 1192h1v11h-1zM1097 1573h1v74h-1zM1097 1795h1v74h-1zM1097 2017h1v30h-1z"/>
<path fill="#96d8d8" d="M1082 1192h1v85h-1zM1082 1499h1v74h-1zM1082 1721h1v74h-1zM1082 1943h1v74h-1zM1532 1192h1v85h-1zM1532 1573h1v148h-1zM1532 1869h1v74h-1z"/>
<path fill="#96d2de" d="M1082 1277h1v74h-1zM1082 1795h1v148h-1zM1532 1277h1v296h-1zM1532 1721h1v74h-1zM1532 2017h1v30h-1z"/>
<path fill="#96cce4" d="M1082 1351h1v148h-1zM1082 2017h1v30h-1zM1121 1351h1v74h-1zM1425 1277h1v74h-1zM1425 1425h1v148h-1zM1425 1721h1v74h-1z"/>
<path fill="#96c0e4" d="M1082 1573h1v74h-1zM1260 1203h1v74h-1zM1260 1869h1v74h-1zM1503 2017h1v30h-1z"/>
<path fill="#9cd8cc" d="M1082 1647h1v74h-1zM1251 1192h1v11h-1zM1251 1721h1v74h-1z"/>
<path fill="#cceaf0" d="M1083 1192h1v85h-1zM1083 1499h1v74h-1zM1083 1721h1v74h-1zM1083 1943h1v74h-1zM1180 1277h1v74h-1zM1180 1425h1v370h-1zM1180 1943h1v104h-1zM1238 1192h1v85h-1zM1238 1351h1v74h-1zM1238 1573h1v296h-1zM1238 1943h1v74h-1z"/>
<path fill="#cceaf6" d="M1083 1277h1v74h-1zM1083 1795h1v148h-1zM1238 1869h1v74h-1z"/>
<path fill="#cce4f6" d="M1083 1351h1v148h-1zM1083 1573h1v74h-1zM1083 2017h1v30h-1zM1356 1277h1v74h-1zM1356 1647h1v74h-1zM1356 1795h1v74h-1zM1426 1277h1v296h-1zM1426 1721h1v74h-1zM1426 1943h1v74h-1zM1581 1192h1v11h-1zM1581 1943h1v74h-1z"/>
<path fill="#d2eaf0" d="M1083 1647h1v74h-1zM1146 1277h1v74h-1zM1146 1721h1v74h-1zM1214 1573h1v74h-1zM1214 1869h1v178h-1z"/>
<path fill="#eafcfc" d="M1084 1192h1v85h-1zM1084 1499h1v74h-1zM1084 1721h1v74h-1zM1084 1943h1v74h-1z"/>
<path fill="#eaf6fc" d="M1084 1277h1v222h-1zM1084 1573h1v74h-1zM1084 1795h1v148h-1zM1084 2017h1v30h-1zM1098 1203h1v370h-1zM1098 1647h1v148h-1zM1098 1869h1v148h-1zM1156 1573h1v74h-1zM1158 1277h1v148h-1zM1158 1795h1v148h-1zM1158 2017h1v30h-1zM1196 1573h1v74h-1zM1196 2017h1v30h-1zM1253 1795h1v74h-1zM1365 1192h1v11h-1zM1365 1277h1v74h-1zM1365 1499h1v74h-1zM1365 1647h1v74h-1zM1365 1869h1v148h-1zM1427 1203h1v74h-1zM1427 1351h1v74h-1zM1427 1573h1v148h-1zM1427 1795h1v252h-1zM1441 1192h1v233h-1zM1441 1499h1v548h-1zM1567 1192h1v11h-1zM1567 1351h1v148h-1zM1567 1573h1v74h-1z"/>
<path fill="#f0fcfc" d="M1084 1647h1v74h-1zM1090 1192h1v159h-1zM1090 1425h1v74h-1zM1090 1721h1v222h-1zM1225 1277h1v74h-1zM1225 1795h1v74h-1zM1229 1192h1v529h-1zM1229 1795h1v252h-1zM1336 1425h1v74h-1zM1336 1721h1v148h-1zM1336 1943h1v104h-1z"/>
<path fill="#726cb4" d="M1086 1192h1v855h-1zM1334 1192h1v855h-1zM1806 1192h1v855h-1zM1981 1192h1v855h-1zM2020 1192h1v855h-1z"/>
<path fill="#6c66ba" d="M1087 1192h1v855h-1zM1710 1192h1v855h-1zM1724 1192h1v855h-1zM1729 1192h1v855h-1zM1730 1192h1v855h-1zM1734 1192h1v855h-1zM1898 1192h1v855h-1zM1908 1192h1v855h-1zM2053 1192h1v855h-1zM2067 1192h1v855h-1zM2072 1192h1v855h-1zM2077 1192h1v855h-1z"/>
<path fill="#ccc6f0" d="M1088 1192h1v855h-1z"/>
<path fill="#eaeafc" d="M1089 1192h1v855h-1zM1162 1192h1v855h-1zM1272 1192h1v855h-1zM1496 1192h1v855h-1zM1505 1192h1v855h-1zM1674 1192h1v855h-1zM1775 1192h1v855h-1zM1789 1192h1v855h-1zM1834 1192h1v855h-1zM2017 1192h1v855h-1zM2132 1192h1v855h-1z"/>
<path fill="#f0fcf6" d="M1090 1351h1v74h-1zM1090 1499h1v222h-1zM1090 1943h1v104h-1zM1225 1203h1v74h-1zM1225 1425h1v74h-1zM1225 1647h1v148h-1zM1225 2017h1v30h-1zM1229 1721h1v74h-1z"/>
<path fill="#90c6e4" d="M1091 1192h1v11h-1zM1091 1869h1v74h-1zM1338 1192h1v11h-1zM1338 1277h1v74h-1zM1338 1573h1v74h-1z"/>
<path fill="#90ccde" d="M1091 1203h1v74h-1zM1091 1425h1v74h-1zM1338 1203h1v74h-1zM1338 1351h1v74h-1zM1338 1499h1v74h-1zM1338 1869h1v74h-1z"/>
<path fill="#90d2d8" d="M1091 1277h1v74h-1zM1091 1721h1v148h-1zM1338 1425h1v74h-1zM1338 1721h1v148h-1zM1633 1203h1v74h-1zM1633 1351h1v74h-1zM1633 1721h1v148h-1zM1633 1943h1v74h-1z"/>
<path fill="#90d8d2" d="M1091 1351h1v74h-1zM1091 1499h1v222h-1zM1091 2017h1v30h-1zM1251 1795h1v74h-1zM1338 1943h1v104h-1zM1633 1277h1v74h-1zM1633 1573h1v74h-1zM1633 1869h1v74h-1z"/>
<path fill="#9cd8c6" d="M1091 1943h1v74h-1zM1633 1192h1v11h-1z"/>
<path fill="#a2d2ea" d="M1092 1192h1v11h-1zM1092 1869h1v74h-1zM1212 1203h1v148h-1zM1212 1721h1v148h-1zM1213 1203h1v74h-1zM1536 1425h1v74h-1zM1536 2017h1v30h-1zM1537 1425h1v74h-1zM1537 2017h1v30h-1zM1565 1192h1v11h-1zM1565 1425h1v74h-1z"/>
<path fill="#a2d8e4" d="M1092 1203h1v74h-1zM1092 1425h1v74h-1zM1212 1573h1v74h-1zM1212 1869h1v178h-1zM1213 1573h1v74h-1zM1213 1869h1v178h-1zM1226 1192h1v11h-1zM1226 1351h1v74h-1zM1226 1499h1v148h-1zM1226 1869h1v148h-1zM1227 1192h1v11h-1zM1227 1351h1v74h-1zM1227 1499h1v74h-1zM1227 1869h1v148h-1zM1367 1192h1v11h-1zM1367 1277h1v74h-1zM1367 1499h1v74h-1zM1367 1647h1v74h-1zM1367 1869h1v148h-1zM1386 1425h1v74h-1zM1386 1721h1v74h-1zM1386 2017h1v30h-1zM1387 1425h1v74h-1zM1387 1721h1v74h-1zM1387 2017h1v30h-1zM1536 1351h1v74h-1zM1536 1499h1v74h-1zM1536 1721h1v74h-1zM1536 1869h1v74h-1zM1537 1203h1v148h-1zM1537 1795h1v74h-1z"/>
<path fill="#a2d8de" d="M1092 1277h1v74h-1zM1092 1721h1v148h-1zM1537 1351h1v74h-1zM1537 1499h1v74h-1zM1537 1721h1v74h-1zM1537 1869h1v74h-1z"/>
<path fill="#a2dede" d="M1092 1351h1v74h-1zM1092 1499h1v222h-1zM1092 2017h1v30h-1zM1207 1277h1v148h-1zM1207 1795h1v148h-1zM1212 1351h1v148h-1zM1212 1647h1v74h-1zM1222 1203h1v74h-1zM1222 1425h1v74h-1zM1222 1647h1v74h-1zM1222 2017h1v30h-1zM1226 1203h1v148h-1zM1226 1425h1v74h-1zM1226 1647h1v74h-1zM1226 1795h1v74h-1zM1226 2017h1v30h-1zM1227 1203h1v148h-1zM1227 1425h1v74h-1zM1227 1647h1v74h-1zM1227 1795h1v74h-1zM1227 2017h1v30h-1zM1367 1203h1v74h-1zM1367 1351h1v148h-1zM1367 1721h1v148h-1zM1386 1203h1v222h-1zM1386 1573h1v74h-1zM1386 1869h1v148h-1zM1387 1203h1v222h-1zM1387 1573h1v74h-1zM1387 1869h1v148h-1zM1536 1192h1v11h-1zM1537 1192h1v11h-1z"/>
<path fill="#aeded2" d="M1092 1943h1v74h-1zM1632 1192h1v11h-1z"/>
<path fill="#e4f0fc" d="M1093 1192h1v85h-1zM1093 1425h1v74h-1zM1093 1869h1v74h-1zM1196 1192h1v381h-1zM1196 1647h1v370h-1zM1230 1647h1v74h-1zM1422 1192h1v11h-1zM1422 1795h1v74h-1zM1501 2017h1v30h-1z"/>
<path fill="#e4f6fc" d="M1093 1277h1v148h-1zM1093 1499h1v370h-1zM1093 2017h1v30h-1zM1158 1192h1v85h-1zM1158 1425h1v222h-1zM1158 1943h1v74h-1zM1341 1192h1v11h-1zM1341 1943h1v104h-1z"/>
<path fill="#e4f6f6" d="M1093 1943h1v74h-1zM1095 1203h1v370h-1zM1095 1647h1v148h-1zM1095 1869h1v148h-1zM1134 1192h1v85h-1zM1134 1351h1v74h-1zM1134 1573h1v74h-1zM1134 1721h1v148h-1zM1224 1203h1v74h-1zM1224 1425h1v74h-1zM1224 1647h1v74h-1zM1224 2017h1v30h-1zM1341 1425h1v74h-1zM1341 1795h1v74h-1zM1533 1647h1v74h-1zM1629 1203h1v74h-1zM1629 1351h1v74h-1zM1629 1499h1v148h-1zM1629 1721h1v74h-1zM1629 1943h1v74h-1z"/>
<path fill="#f6fcfc" d="M1094 1192h1v855h-1zM1108 1192h1v307h-1zM1108 1647h1v400h-1zM1122 1351h1v74h-1zM1122 2017h1v30h-1zM1157 1192h1v455h-1zM1157 1795h1v252h-1zM1161 1192h1v455h-1zM1161 1721h1v326h-1zM1200 1425h1v74h-1zM1259 1203h1v148h-1zM1259 1499h1v148h-1zM1259 1721h1v74h-1zM1259 1869h1v148h-1zM1263 1192h1v855h-1zM1277 1192h1v11h-1zM1277 1277h1v770h-1zM1369 1192h1v855h-1zM1500 1192h1v233h-1zM1500 1499h1v548h-1zM1504 1192h1v85h-1zM1504 1351h1v74h-1zM1504 1499h1v148h-1zM1504 1721h1v296h-1zM1529 1192h1v855h-1zM1538 1192h1v855h-1zM1563 1192h1v855h-1zM1634 1192h1v233h-1zM1634 1499h1v548h-1zM1660 1192h1v855h-1z"/>
<path fill="#e4f6f0" d="M1095 1192h1v11h-1zM1095 1573h1v74h-1zM1095 1795h1v74h-1zM1095 2017h1v30h-1zM1134 1499h1v74h-1zM1134 1869h1v74h-1zM1134 2017h1v30h-1z"/>
<path fill="#90d2c0" d="M1096 1192h1v11h-1zM1096 1573h1v74h-1zM1096 1795h1v74h-1zM1096 2017h1v30h-1zM1628 1192h1v11h-1zM1628 1277h1v74h-1zM1628 1647h1v74h-1zM1628 1795h1v74h-1zM1628 2017h1v30h-1z"/>
<path fill="#84c6d8" d="M1096 1203h1v74h-1zM1096 1351h1v74h-1zM1096 1943h1v74h-1zM1135 1277h1v74h-1zM1135 1943h1v74h-1z"/>
<path fill="#84ccd2" d="M1096 1277h1v74h-1zM1096 1499h1v74h-1zM1096 1721h1v74h-1zM1096 1869h1v74h-1zM1135 1192h1v11h-1zM1135 1573h1v74h-1zM1628 1203h1v74h-1zM1628 1573h1v74h-1z"/>
<path fill="#84d2cc" d="M1096 1425h1v74h-1zM1096 1647h1v74h-1zM1179 1203h1v74h-1zM1179 1351h1v74h-1zM1179 1869h1v74h-1zM1628 1351h1v74h-1zM1628 1499h1v74h-1zM1628 1721h1v74h-1zM1628 1943h1v74h-1z"/>
<path fill="#aedeea" d="M1097 1203h1v74h-1zM1097 1351h1v74h-1zM1097 1943h1v74h-1zM1237 1192h1v11h-1zM1237 1351h1v74h-1zM1237 1573h1v296h-1z"/>
<path fill="#aedee4" d="M1097 1277h1v74h-1zM1097 1499h1v74h-1zM1097 1721h1v74h-1zM1097 1869h1v74h-1zM1339 1425h1v74h-1zM1339 1721h1v148h-1z"/>
<path fill="#aee4de" d="M1097 1425h1v74h-1zM1097 1647h1v74h-1z"/>
<path fill="#f0f6fc" d="M1098 1192h1v11h-1zM1098 1573h1v74h-1zM1098 1795h1v74h-1zM1098 2017h1v30h-1zM1103 1192h1v11h-1zM1103 1277h1v74h-1zM1103 1425h1v74h-1zM1103 1647h1v400h-1zM1153 1203h1v666h-1zM1153 2017h1v30h-1zM1186 1203h1v148h-1zM1186 1795h1v74h-1zM1225 1192h1v11h-1zM1225 1351h1v74h-1zM1225 1499h1v148h-1zM1225 1869h1v148h-1zM1291 1192h1v677h-1zM1291 1943h1v104h-1zM1298 1192h1v855h-1zM1336 1192h1v233h-1zM1336 1499h1v148h-1zM1336 1869h1v74h-1zM1427 1277h1v74h-1zM1427 1425h1v148h-1zM1427 1721h1v74h-1zM1534 1192h1v455h-1zM1534 1721h1v326h-1zM1601 1192h1v855h-1zM1641 1795h1v74h-1zM1641 1943h1v74h-1zM1665 1192h1v381h-1zM1665 1647h1v74h-1zM1665 1795h1v252h-1z"/>
<path fill="#d8def0" d="M1100 1192h1v11h-1zM1100 1795h1v74h-1zM1100 1943h1v74h-1zM1286 1647h1v148h-1zM1370 1192h1v855h-1zM1578 1425h1v74h-1zM1612 1192h1v855h-1z"/>
<path fill="#ccd2ea" d="M1100 1203h1v74h-1zM1100 1351h1v74h-1zM1354 1192h1v855h-1zM1489 1192h1v855h-1z"/>
<path fill="#d8e4f6" d="M1100 1277h1v74h-1zM1100 1425h1v74h-1zM1100 1647h1v74h-1zM1100 1869h1v74h-1zM1100 2017h1v30h-1zM1139 1277h1v74h-1zM1139 1425h1v148h-1zM1139 1647h1v296h-1zM1139 2017h1v30h-1zM1185 1192h1v11h-1zM1185 1499h1v148h-1zM1185 1869h1v74h-1zM1185 2017h1v30h-1zM1417 1203h1v370h-1zM1417 1647h1v148h-1zM1417 1943h1v104h-1zM1544 1192h1v11h-1zM1544 1277h1v74h-1zM1544 2017h1v30h-1zM1578 1277h1v74h-1zM1578 1573h1v74h-1zM1578 1721h1v74h-1zM1578 1869h1v74h-1zM1578 2017h1v30h-1zM1586 1192h1v85h-1zM1586 1351h1v222h-1zM1586 1647h1v370h-1z"/>
<path fill="#fcfcde" d="M1100 1499h1v74h-1z"/>
<path fill="#fcf6d8" d="M1100 1573h1v74h-1z"/>
<path fill="#6c8ad2" d="M1101 1192h1v11h-1zM1101 1795h1v74h-1zM1101 1943h1v74h-1z"/>
<path fill="#4e60b4" d="M1101 1203h1v74h-1zM1101 1351h1v74h-1z"/>
<path fill="#7296d8" d="M1101 1277h1v74h-1zM1101 1647h1v74h-1zM1101 2017h1v30h-1zM1140 1192h1v11h-1zM1140 1573h1v74h-1z"/>
<path fill="#72a2d8" d="M1101 1425h1v74h-1zM1140 1425h1v74h-1zM1140 1647h1v74h-1zM1140 1795h1v74h-1z"/>
<path fill="#f0f08a" d="M1101 1499h1v74h-1z"/>
<path fill="#f0d884" d="M1101 1573h1v74h-1z"/>
<path fill="#78b4de" d="M1101 1721h1v74h-1zM1140 1203h1v74h-1zM1140 1351h1v74h-1zM1140 1943h1v74h-1zM1652 1192h1v159h-1zM1652 1573h1v74h-1zM1652 1943h1v74h-1z"/>
<path fill="#72a8de" d="M1101 1869h1v74h-1zM1106 1647h1v74h-1zM1106 2017h1v30h-1zM1140 1277h1v74h-1zM1140 1499h1v74h-1zM1140 1721h1v74h-1zM1140 1869h1v74h-1zM1140 2017h1v30h-1zM1145 1647h1v74h-1zM1145 1869h1v74h-1zM1145 2017h1v30h-1z"/>
<path fill="#bac6ea" d="M1102 1192h1v11h-1zM1102 1795h1v74h-1zM1102 1943h1v74h-1zM1511 1192h1v855h-1zM1661 1203h1v74h-1zM1661 1351h1v222h-1zM1661 1647h1v148h-1zM1661 1869h1v148h-1z"/>
<path fill="#a8aede" d="M1102 1203h1v74h-1zM1102 1351h1v74h-1z"/>
<path fill="#baccf0" d="M1102 1277h1v74h-1zM1102 1647h1v74h-1zM1102 2017h1v30h-1zM1416 1203h1v148h-1zM1416 1425h1v74h-1zM1416 1647h1v148h-1zM1547 1277h1v74h-1z"/>
<path fill="#bad2f0" d="M1102 1425h1v74h-1zM1416 1573h1v74h-1zM1535 1943h1v74h-1zM1547 1192h1v85h-1zM1547 1425h1v222h-1zM1547 1721h1v326h-1zM1648 1192h1v11h-1zM1648 1351h1v148h-1zM1648 1721h1v148h-1zM1648 1943h1v74h-1zM1661 1192h1v11h-1zM1661 1277h1v74h-1zM1661 1573h1v74h-1zM1661 2017h1v30h-1z"/>
<path fill="#f6f6c6" d="M1102 1499h1v74h-1z"/>
<path fill="#f6eaba" d="M1102 1573h1v74h-1z"/>
<path fill="#bad8f0" d="M1102 1721h1v74h-1zM1102 1869h1v74h-1zM1416 1192h1v11h-1zM1416 1795h1v74h-1zM1419 1192h1v11h-1zM1419 1795h1v74h-1zM1535 1573h1v74h-1zM1547 1647h1v74h-1z"/>
<path fill="#f0f0fc" d="M1103 1203h1v74h-1zM1103 1351h1v74h-1zM1153 1192h1v11h-1zM1153 1869h1v148h-1zM1186 1192h1v11h-1zM1186 1425h1v370h-1zM1186 1869h1v74h-1zM1186 2017h1v30h-1zM1234 2017h1v30h-1zM1322 1192h1v855h-1zM1331 1192h1v855h-1zM1360 1192h1v855h-1zM1394 1192h1v855h-1zM1432 1192h1v855h-1zM1446 1192h1v855h-1zM1615 1192h1v855h-1zM1641 1192h1v11h-1zM1641 1499h1v74h-1zM1641 1721h1v74h-1zM1641 1869h1v74h-1zM1641 2017h1v30h-1zM1665 1573h1v74h-1zM1665 1721h1v74h-1zM1669 1192h1v381h-1zM1669 1647h1v74h-1zM1669 1795h1v252h-1zM1746 1192h1v855h-1zM1843 1192h1v855h-1zM1949 1192h1v855h-1zM1963 1192h1v855h-1zM2003 1192h1v855h-1zM2041 1192h1v855h-1zM2089 1192h1v855h-1zM2118 1192h1v855h-1z"/>
<path fill="#fcfcf0" d="M1103 1573h1v74h-1zM1336 1647h1v74h-1z"/>
<path fill="#cce4f0" d="M1105 1192h1v11h-1zM1105 1277h1v74h-1zM1105 1425h1v74h-1zM1105 1721h1v296h-1zM1107 1192h1v11h-1zM1107 1277h1v74h-1zM1107 1425h1v74h-1zM1107 1721h1v296h-1z"/>
<path fill="#ccdef0" d="M1105 1203h1v74h-1zM1105 1351h1v74h-1zM1105 1647h1v74h-1zM1105 2017h1v30h-1zM1107 1203h1v74h-1zM1107 1351h1v74h-1zM1313 1499h1v74h-1zM1315 1192h1v11h-1zM1315 1277h1v74h-1zM1315 1425h1v148h-1zM1315 1721h1v74h-1zM1583 1795h1v74h-1zM1656 1869h1v74h-1z"/>
<path fill="#fcfcd2" d="M1105 1499h1v74h-1zM1107 1499h1v74h-1z"/>
<path fill="#fcf0cc" d="M1105 1573h1v74h-1zM1107 1573h1v74h-1z"/>
<path fill="#72aed8" d="M1106 1192h1v11h-1zM1106 1425h1v74h-1zM1106 1795h1v74h-1zM1106 1943h1v74h-1zM1145 1203h1v74h-1zM1145 1351h1v148h-1zM1145 1573h1v74h-1z"/>
<path fill="#6c9cd8" d="M1106 1203h1v74h-1zM1106 1351h1v74h-1zM1275 1203h1v74h-1zM1314 1499h1v74h-1zM1657 1869h1v74h-1z"/>
<path fill="#72bad8" d="M1106 1277h1v74h-1zM1106 1721h1v74h-1zM1106 1869h1v74h-1zM1145 1192h1v11h-1zM1145 1499h1v74h-1zM1145 1943h1v74h-1zM1275 1425h1v74h-1zM1275 2017h1v30h-1z"/>
<path fill="#f0f084" d="M1106 1499h1v74h-1z"/>
<path fill="#f0d284" d="M1106 1573h1v74h-1z"/>
<path fill="#ccdef6" d="M1107 1647h1v74h-1zM1107 2017h1v30h-1zM1356 1203h1v74h-1zM1356 1351h1v148h-1zM1356 1573h1v74h-1zM1356 1721h1v74h-1zM1356 1869h1v178h-1zM1426 1203h1v74h-1zM1426 1573h1v148h-1zM1426 1795h1v148h-1zM1426 2017h1v30h-1zM1581 1203h1v74h-1zM1581 1351h1v74h-1zM1581 1573h1v74h-1zM1581 1795h1v74h-1zM1581 2017h1v30h-1zM1583 1192h1v11h-1zM1583 1499h1v74h-1zM1583 1647h1v148h-1zM1583 1943h1v74h-1z"/>
<path fill="#aebade" d="M1110 1192h1v855h-1z"/>
<path fill="#606cba" d="M1111 1192h1v855h-1zM1285 1647h1v148h-1z"/>
<path fill="#d2d8f0" d="M1112 1192h1v855h-1zM1417 1869h1v74h-1zM1658 1192h1v85h-1zM1658 1499h1v148h-1zM1658 1795h1v74h-1zM1658 1943h1v104h-1z"/>
<path fill="#aec0e4" d="M1115 1192h1v85h-1zM1115 1351h1v74h-1zM1115 1647h1v148h-1zM1115 2017h1v30h-1z"/>
<path fill="#b4ccea" d="M1115 1277h1v74h-1zM1284 1192h1v11h-1zM1284 1277h1v74h-1zM1284 1425h1v74h-1zM1284 1795h1v74h-1zM1284 1943h1v104h-1zM1419 1425h1v148h-1zM1419 1647h1v74h-1zM1419 1943h1v104h-1zM1648 1277h1v74h-1zM1648 1647h1v74h-1zM1648 2017h1v30h-1z"/>
<path fill="#9ca2d2" d="M1115 1425h1v74h-1zM1115 1573h1v74h-1z"/>
<path fill="#849cd8" d="M1116 1192h1v85h-1zM1116 1351h1v74h-1zM1116 1647h1v148h-1zM1116 2017h1v30h-1zM1155 1192h1v11h-1zM1155 1869h1v148h-1zM1415 1499h1v74h-1zM1473 1425h1v74h-1zM1473 1795h1v74h-1zM1473 1943h1v74h-1zM1579 1425h1v74h-1zM1584 1573h1v74h-1z"/>
<path fill="#6672c0" d="M1116 1425h1v74h-1zM1116 1573h1v74h-1zM1184 1351h1v74h-1zM1184 1943h1v74h-1z"/>
<path fill="#eaf0f6" d="M1117 1192h1v85h-1zM1117 1351h1v74h-1zM1117 1647h1v148h-1zM1117 2017h1v30h-1zM1156 1192h1v11h-1zM1156 1869h1v148h-1zM1472 1425h1v74h-1zM1472 1795h1v74h-1zM1472 1943h1v74h-1zM1641 1203h1v296h-1zM1641 1573h1v148h-1zM1668 1277h1v222h-1zM1668 1647h1v74h-1zM1668 1795h1v74h-1zM1668 1943h1v104h-1zM2080 1192h1v855h-1z"/>
<path fill="#eaf0fc" d="M1117 1277h1v74h-1zM1117 1499h1v74h-1zM1117 1795h1v222h-1zM1156 1203h1v370h-1zM1156 1647h1v222h-1zM1156 2017h1v30h-1zM1427 1192h1v11h-1zM1441 1425h1v74h-1zM1472 1192h1v233h-1zM1472 1499h1v296h-1zM1472 1869h1v74h-1zM1472 2017h1v30h-1zM1567 1203h1v148h-1zM1567 1499h1v74h-1zM1567 1647h1v400h-1zM1668 1192h1v85h-1zM1668 1499h1v74h-1zM1668 1869h1v74h-1zM2084 1192h1v855h-1z"/>
<path fill="#e4e4f6" d="M1117 1425h1v74h-1zM1117 1573h1v74h-1zM1167 1192h1v855h-1zM1770 1192h1v855h-1zM1848 1192h1v855h-1zM2046 1192h1v855h-1zM2113 1192h1v855h-1z"/>
<path fill="#a2bae4" d="M1120 1192h1v11h-1zM1120 1647h1v74h-1zM1120 1795h1v74h-1z"/>
<path fill="#a2c6ea" d="M1120 1203h1v74h-1zM1198 1192h1v11h-1zM1198 1277h1v74h-1zM1198 1721h1v74h-1zM1198 1869h1v74h-1zM1261 1203h1v74h-1zM1261 1869h1v74h-1zM1536 1943h1v74h-1zM1537 1943h1v74h-1zM1565 1203h1v148h-1zM1565 1721h1v326h-1z"/>
<path fill="#a2b4de" d="M1120 1277h1v74h-1z"/>
<path fill="#a8d2ea" d="M1120 1351h1v74h-1zM1154 1573h1v74h-1zM1424 1351h1v74h-1zM1424 1943h1v74h-1zM1545 1351h1v74h-1z"/>
<path fill="#a2c0ea" d="M1120 1425h1v222h-1zM1120 1721h1v74h-1zM1120 1869h1v148h-1zM1232 1192h1v11h-1zM1232 1277h1v74h-1zM1232 1425h1v148h-1zM1232 1721h1v74h-1zM1565 1499h1v74h-1zM1565 1647h1v74h-1zM1598 1203h1v74h-1zM1598 1869h1v74h-1z"/>
<path fill="#a8ccea" d="M1120 2017h1v30h-1zM1154 1277h1v74h-1zM1154 1499h1v74h-1zM1154 1647h1v148h-1zM1154 2017h1v30h-1zM1289 1192h1v85h-1zM1289 1647h1v74h-1zM1424 1203h1v74h-1zM1424 1573h1v148h-1zM1424 1795h1v148h-1zM1424 2017h1v30h-1z"/>
<path fill="#90aede" d="M1121 1192h1v11h-1zM1121 1647h1v74h-1zM1121 1795h1v74h-1z"/>
<path fill="#96bae4" d="M1121 1203h1v74h-1zM1260 1277h1v74h-1zM1260 1499h1v148h-1zM1260 1721h1v74h-1zM1425 1203h1v74h-1zM1425 1573h1v148h-1zM1425 1795h1v148h-1zM1425 2017h1v30h-1zM1503 1277h1v74h-1zM1503 1647h1v74h-1zM1599 1203h1v74h-1zM1599 1869h1v74h-1z"/>
<path fill="#90a8d8" d="M1121 1277h1v74h-1z"/>
<path fill="#90b4e4" d="M1121 1425h1v222h-1zM1121 1721h1v74h-1zM1121 1869h1v148h-1zM1290 1351h1v74h-1zM1290 1499h1v74h-1zM1420 1425h1v74h-1zM1420 1647h1v74h-1zM1420 2017h1v30h-1zM1642 1943h1v74h-1z"/>
<path fill="#96c6e4" d="M1121 2017h1v30h-1zM1260 1943h1v74h-1zM1425 1351h1v74h-1zM1425 1943h1v74h-1z"/>
<path fill="#6c66ae" d="M1125 1192h1v855h-1z"/>
<path fill="#7272b4" d="M1126 1192h1v855h-1zM1463 1192h1v855h-1zM2110 1192h1v855h-1z"/>
<path fill="#e4e4f0" d="M1129 1192h1v855h-1zM1433 1192h1v855h-1zM1460 1192h1v855h-1zM1499 1192h1v855h-1zM1568 1203h1v148h-1zM1568 1499h1v74h-1zM1568 1647h1v400h-1zM1607 1192h1v855h-1zM1668 1573h1v74h-1zM1668 1721h1v74h-1zM1707 1192h1v855h-1zM1741 1192h1v855h-1zM1803 1192h1v855h-1zM1984 1192h1v855h-1z"/>
<path fill="#544ea2" d="M1130 1192h1v855h-1zM1498 1192h1v855h-1zM1802 1192h1v855h-1zM1841 1192h1v855h-1zM1985 1192h1v855h-1z"/>
<path fill="#847eba" d="M1131 1192h1v855h-1zM1682 1192h1v855h-1zM1801 1192h1v855h-1zM1986 1192h1v855h-1z"/>
<path fill="#e4f0f6" d="M1134 1277h1v74h-1zM1134 1425h1v74h-1zM1134 1647h1v74h-1zM1134 1943h1v74h-1zM1359 1277h1v148h-1zM1359 1573h1v148h-1zM1359 1795h1v74h-1zM1359 1943h1v74h-1zM1438 1192h1v233h-1zM1438 1499h1v548h-1zM1646 1192h1v855h-1z"/>
<path fill="#7ed2cc" d="M1135 1203h1v74h-1zM1135 1351h1v74h-1zM1135 1721h1v148h-1z"/>
<path fill="#84c0de" d="M1135 1425h1v74h-1zM1135 1647h1v74h-1zM1439 1647h1v74h-1zM1439 1869h1v74h-1zM1647 1203h1v74h-1zM1647 1869h1v74h-1z"/>
<path fill="#8ad2c0" d="M1135 1499h1v74h-1zM1135 1869h1v74h-1zM1135 2017h1v30h-1z"/>
<path fill="#badeea" d="M1136 1277h1v74h-1zM1136 1425h1v74h-1zM1136 1647h1v74h-1zM1136 1943h1v74h-1zM1204 1573h1v74h-1zM1344 1192h1v11h-1zM1648 1203h1v74h-1zM1648 1869h1v74h-1z"/>
<path fill="#c0e4de" d="M1136 1499h1v74h-1zM1136 1869h1v74h-1zM1136 2017h1v30h-1zM1204 1943h1v74h-1z"/>
<path fill="#d8def6" d="M1139 1192h1v11h-1zM1139 1573h1v74h-1zM1185 1203h1v148h-1zM1185 1795h1v74h-1zM1586 1573h1v74h-1zM1760 1192h1v855h-1zM1905 1192h1v855h-1z"/>
<path fill="#c6d8f0" d="M1141 1192h1v11h-1zM1141 1425h1v74h-1zM1141 1573h1v148h-1zM1141 1795h1v74h-1zM1276 1192h1v85h-1zM1276 1351h1v74h-1zM1276 1499h1v222h-1zM1276 1943h1v74h-1zM1414 1203h1v148h-1zM1414 1425h1v74h-1zM1414 1647h1v148h-1zM1484 1351h1v148h-1zM1484 1647h1v74h-1zM1484 2017h1v30h-1zM1583 1351h1v148h-1zM1653 1351h1v148h-1zM1653 2017h1v30h-1z"/>
<path fill="#c6def0" d="M1141 1203h1v222h-1zM1141 1499h1v74h-1zM1141 1721h1v74h-1zM1141 1869h1v178h-1zM1144 1203h1v74h-1zM1144 1351h1v148h-1zM1144 1573h1v148h-1zM1144 1869h1v74h-1zM1144 2017h1v30h-1zM1276 1277h1v74h-1zM1276 1721h1v222h-1zM1414 1192h1v11h-1zM1414 1573h1v74h-1zM1414 1795h1v74h-1zM1653 1192h1v159h-1zM1653 1573h1v74h-1zM1653 1943h1v74h-1z"/>
<path fill="#c6e4f0" d="M1144 1192h1v11h-1zM1144 1277h1v74h-1zM1144 1499h1v74h-1zM1144 1721h1v74h-1zM1144 1943h1v74h-1zM1211 1203h1v148h-1zM1211 1721h1v148h-1zM1276 1425h1v74h-1zM1276 2017h1v30h-1zM1342 1192h1v11h-1zM1530 1795h1v74h-1zM1530 1943h1v74h-1zM1653 1499h1v74h-1zM1653 1647h1v296h-1z"/>
<path fill="#c6eaea" d="M1144 1795h1v74h-1zM1211 1351h1v148h-1zM1211 1647h1v74h-1zM1342 1425h1v74h-1zM1342 1795h1v74h-1z"/>
<path fill="#72c0d2" d="M1145 1277h1v74h-1zM1145 1721h1v74h-1z"/>
<path fill="#72c6cc" d="M1145 1795h1v74h-1z"/>
<path fill="#d2f0f0" d="M1146 1795h1v74h-1zM1206 1277h1v148h-1zM1206 1795h1v148h-1zM1238 1277h1v74h-1zM1238 1425h1v148h-1zM1238 2017h1v30h-1zM1337 1943h1v104h-1z"/>
<path fill="#9690cc" d="M1149 1192h1v855h-1zM1271 1192h1v855h-1zM1957 1192h1v855h-1zM2071 1192h1v855h-1z"/>
<path fill="#3c3096" d="M1150 1192h1v855h-1zM1821 1192h1v855h-1zM1966 1192h1v855h-1z"/>
<path fill="#cccce4" d="M1151 1192h1v855h-1zM1269 1192h1v855h-1zM1308 1192h1v855h-1zM1455 1192h1v855h-1zM1528 1795h1v74h-1zM1528 1943h1v74h-1zM1798 1192h1v855h-1zM1820 1192h1v855h-1zM1871 1192h1v855h-1zM2124 1192h1v855h-1z"/>
<path fill="#a8bae4" d="M1154 1192h1v11h-1zM1154 1869h1v148h-1zM1289 1277h1v74h-1zM1289 1795h1v74h-1zM1289 1943h1v74h-1zM1643 1192h1v11h-1zM1643 1499h1v74h-1zM1643 1721h1v74h-1zM1643 1869h1v74h-1zM1643 2017h1v30h-1zM1666 1425h1v74h-1zM1666 2017h1v30h-1z"/>
<path fill="#a8c0ea" d="M1154 1203h1v74h-1zM1199 1425h1v148h-1zM1199 1795h1v74h-1zM1199 1943h1v74h-1zM1232 1351h1v74h-1zM1232 1795h1v74h-1zM1357 1499h1v74h-1zM1406 1425h1v74h-1zM1406 1573h1v222h-1zM1424 1192h1v11h-1zM1545 1277h1v74h-1zM1666 1277h1v148h-1zM1666 1647h1v74h-1zM1666 1795h1v74h-1zM1666 1943h1v74h-1z"/>
<path fill="#a8c6ea" d="M1154 1351h1v148h-1zM1154 1795h1v74h-1zM1199 1203h1v74h-1zM1199 1351h1v74h-1zM1199 1647h1v74h-1zM1289 1351h1v74h-1zM1289 1499h1v74h-1zM1357 1203h1v74h-1zM1357 1425h1v74h-1zM1357 1721h1v74h-1zM1357 1869h1v74h-1zM1357 2017h1v30h-1zM1406 1192h1v11h-1zM1406 1499h1v74h-1zM1406 1795h1v222h-1zM1545 1192h1v11h-1zM1545 2017h1v30h-1zM1564 1499h1v74h-1zM1564 1647h1v74h-1zM1643 1943h1v74h-1zM1666 1192h1v11h-1zM1666 1869h1v74h-1z"/>
<path fill="#84aede" d="M1155 1351h1v148h-1zM1155 1795h1v74h-1zM1184 1499h1v74h-1zM1184 1869h1v74h-1zM1184 2017h1v30h-1zM1667 1192h1v11h-1zM1667 1869h1v74h-1z"/>
<path fill="#8abade" d="M1155 1573h1v74h-1z"/>
<path fill="#f0f6f0" d="M1158 1647h1v74h-1zM1224 1192h1v11h-1zM1224 1277h1v148h-1zM1253 1351h1v222h-1zM1253 1943h1v74h-1zM1341 1277h1v148h-1zM1341 1721h1v74h-1zM1629 1425h1v74h-1zM1629 1869h1v74h-1z"/>
<path fill="#eaf6f6" d="M1158 1721h1v74h-1zM1224 1573h1v74h-1zM1224 1721h1v148h-1zM1224 1943h1v74h-1zM1253 1192h1v159h-1zM1253 1573h1v222h-1zM1253 1869h1v74h-1zM1253 2017h1v30h-1zM1341 1203h1v74h-1zM1341 1499h1v222h-1zM1341 1869h1v74h-1zM1533 1192h1v455h-1zM1533 1721h1v326h-1z"/>
<path fill="#9cded8" d="M1159 1192h1v85h-1zM1159 1425h1v222h-1zM1294 1351h1v74h-1zM1638 1277h1v74h-1zM1638 1721h1v74h-1zM1638 1869h1v178h-1z"/>
<path fill="#a8ded2" d="M1159 1277h1v148h-1zM1159 1795h1v148h-1zM1159 2017h1v30h-1zM1537 1647h1v74h-1z"/>
<path fill="#badec0" d="M1159 1647h1v74h-1zM1208 1573h1v74h-1zM1294 1943h1v74h-1z"/>
<path fill="#aedec6" d="M1159 1721h1v74h-1zM1294 1203h1v74h-1zM1294 1499h1v74h-1zM1294 1721h1v74h-1zM1294 1869h1v74h-1zM1294 2017h1v30h-1zM1295 1203h1v74h-1zM1295 1499h1v74h-1zM1295 1721h1v74h-1zM1295 1869h1v74h-1zM1295 2017h1v30h-1zM1637 1192h1v11h-1zM1637 1351h1v74h-1zM1638 1192h1v11h-1zM1638 1351h1v74h-1z"/>
<path fill="#9cd8de" d="M1159 1943h1v74h-1zM1637 1795h1v74h-1zM1638 1795h1v74h-1z"/>
<path fill="#96d8d2" d="M1160 1192h1v85h-1zM1160 1425h1v222h-1z"/>
<path fill="#a2d8cc" d="M1160 1277h1v148h-1zM1160 1795h1v148h-1zM1160 2017h1v30h-1z"/>
<path fill="#b4deba" d="M1160 1647h1v74h-1z"/>
<path fill="#a8dec0" d="M1160 1721h1v74h-1z"/>
<path fill="#96d2d8" d="M1160 1943h1v74h-1z"/>
<path fill="#ccc6ea" d="M1163 1192h1v855h-1zM1219 1192h1v855h-1zM1689 1192h1v855h-1zM2103 1192h1v855h-1z"/>
<path fill="#6660b4" d="M1164 1192h1v855h-1zM1706 1192h1v855h-1z"/>
<path fill="#7878ba" d="M1165 1192h1v855h-1zM1255 1192h1v855h-1zM1469 1192h1v855h-1zM1851 1192h1v855h-1zM2121 1192h1v855h-1z"/>
<path fill="#b4b4e4" d="M1168 1192h1v855h-1zM1552 1192h1v855h-1zM1924 1192h1v855h-1zM2112 1192h1v855h-1z"/>
<path fill="#908ac6" d="M1170 1192h1v855h-1zM1856 1192h1v855h-1zM2126 1192h1v855h-1z"/>
<path fill="#544ea8" d="M1174 1192h1v855h-1zM1527 1192h1v855h-1zM1681 1192h1v855h-1zM1701 1192h1v855h-1zM1763 1192h1v855h-1zM1850 1192h1v855h-1zM1917 1192h1v855h-1zM1932 1192h1v855h-1zM2044 1192h1v855h-1z"/>
<path fill="#a2a2d2" d="M1175 1192h1v855h-1zM1245 1192h1v855h-1zM1445 1192h1v855h-1zM2131 1192h1v855h-1z"/>
<path fill="#def0f6" d="M1177 1192h1v11h-1zM1177 1425h1v74h-1zM1177 1795h1v74h-1zM1177 2017h1v30h-1zM1201 1192h1v233h-1zM1201 1499h1v444h-1zM1201 2017h1v30h-1zM1404 1203h1v74h-1zM1544 1351h1v74h-1zM1651 1499h1v74h-1zM1651 1647h1v296h-1z"/>
<path fill="#d8f0f6" d="M1177 1203h1v222h-1zM1177 1499h1v296h-1zM1177 1869h1v148h-1zM1235 1869h1v74h-1zM1388 1192h1v11h-1zM1388 1647h1v74h-1z"/>
<path fill="#c0e4e4" d="M1178 1192h1v11h-1zM1178 1795h1v74h-1zM1228 1721h1v74h-1z"/>
<path fill="#b4e4ea" d="M1178 1203h1v74h-1zM1178 1351h1v74h-1zM1178 1869h1v74h-1zM1228 1203h1v148h-1zM1228 1425h1v74h-1zM1228 1647h1v74h-1zM1228 1795h1v74h-1zM1228 2017h1v30h-1zM1366 1192h1v381h-1zM1366 1647h1v370h-1z"/>
<path fill="#bae4ea" d="M1178 1277h1v74h-1zM1178 1499h1v296h-1zM1178 1943h1v74h-1zM1204 1192h1v85h-1zM1204 1499h1v74h-1zM1204 1647h1v148h-1zM1204 2017h1v30h-1zM1228 1192h1v11h-1zM1228 1351h1v74h-1zM1228 1499h1v74h-1zM1228 1869h1v148h-1zM1344 1943h1v104h-1zM1535 1192h1v11h-1z"/>
<path fill="#badef0" d="M1178 1425h1v74h-1zM1178 2017h1v30h-1zM1228 1573h1v74h-1zM1535 1203h1v148h-1zM1535 1425h1v74h-1zM1535 1795h1v74h-1zM1535 2017h1v30h-1zM1547 1351h1v74h-1z"/>
<path fill="#90d2c6" d="M1179 1192h1v11h-1zM1179 1795h1v74h-1z"/>
<path fill="#84ccd8" d="M1179 1277h1v74h-1zM1179 1499h1v296h-1zM1179 1943h1v74h-1z"/>
<path fill="#84ccde" d="M1179 1425h1v74h-1zM1179 2017h1v30h-1z"/>
<path fill="#d2f0ea" d="M1180 1192h1v11h-1zM1180 1795h1v74h-1zM1206 1425h1v148h-1zM1206 1721h1v74h-1zM1206 1943h1v104h-1zM1214 1192h1v11h-1zM1214 1499h1v74h-1z"/>
<path fill="#ccf0ea" d="M1180 1203h1v74h-1zM1180 1351h1v74h-1zM1180 1869h1v74h-1z"/>
<path fill="#d2d8f6" d="M1182 1203h1v148h-1zM1182 1795h1v74h-1zM1600 1192h1v11h-1zM1600 1277h1v148h-1zM1600 1721h1v148h-1z"/>
<path fill="#c6ccf0" d="M1182 1351h1v74h-1zM1182 1943h1v74h-1z"/>
<path fill="#aebaea" d="M1183 1203h1v148h-1zM1183 1795h1v74h-1zM1759 1192h1v855h-1z"/>
<path fill="#9ca2d8" d="M1183 1351h1v74h-1zM1183 1943h1v74h-1zM1390 1192h1v855h-1z"/>
<path fill="#7ea2de" d="M1184 1192h1v11h-1zM1184 1573h1v74h-1zM1285 1192h1v11h-1zM1285 1425h1v74h-1z"/>
<path fill="#7e9cd8" d="M1184 1203h1v148h-1zM1184 1795h1v74h-1zM1667 1425h1v74h-1zM1667 2017h1v30h-1z"/>
<path fill="#84b4e4" d="M1184 1425h1v74h-1zM1184 1647h1v148h-1zM1667 1203h1v74h-1zM1667 1499h1v74h-1z"/>
<path fill="#d2d2ea" d="M1185 1351h1v74h-1zM1185 1943h1v74h-1zM1702 1192h1v855h-1zM1736 1192h1v855h-1zM1882 1192h1v855h-1z"/>
<path fill="#b4baea" d="M1187 1192h1v855h-1zM1361 1192h1v855h-1z"/>
<path fill="#8a96d2" d="M1188 1192h1v855h-1zM1372 1192h1v855h-1zM2081 1192h1v855h-1z"/>
<path fill="#7278c6" d="M1189 1192h1v855h-1z"/>
<path fill="#dedef0" d="M1190 1192h1v855h-1zM1230 1203h1v74h-1zM1230 2017h1v30h-1zM1264 1192h1v855h-1zM1399 1192h1v855h-1zM1776 1192h1v855h-1zM1815 1192h1v855h-1zM1876 1192h1v855h-1zM1911 1192h1v855h-1zM2011 1192h1v855h-1z"/>
<path fill="#eae4f6" d="M1191 1192h1v855h-1zM1195 1425h1v148h-1zM1195 1795h1v74h-1zM1195 1943h1v74h-1zM1258 1943h1v74h-1z"/>
<path fill="#a29cde" d="M1192 1192h1v855h-1z"/>
<path fill="#7272c0" d="M1194 1192h1v855h-1zM1541 1192h1v855h-1zM1556 1192h1v855h-1zM1719 1192h1v855h-1zM1744 1192h1v855h-1zM1874 1192h1v855h-1zM2062 1192h1v855h-1z"/>
<path fill="#eae4f0" d="M1195 1192h1v233h-1zM1195 1573h1v222h-1zM1195 1869h1v74h-1zM1195 2017h1v30h-1zM1842 1192h1v855h-1zM2050 1192h1v855h-1z"/>
<path fill="#b4d2f0" d="M1197 1573h1v74h-1zM1197 2017h1v30h-1zM1585 1192h1v11h-1zM1585 1499h1v74h-1zM1585 1647h1v222h-1zM1585 1943h1v74h-1z"/>
<path fill="#9cc0ea" d="M1198 1203h1v74h-1zM1198 1351h1v74h-1zM1198 1647h1v74h-1zM1261 1277h1v74h-1zM1261 1499h1v148h-1zM1261 1721h1v74h-1zM1502 2017h1v30h-1zM1546 1203h1v74h-1zM1546 1425h1v222h-1zM1546 1721h1v296h-1z"/>
<path fill="#9cbaea" d="M1198 1425h1v148h-1zM1198 1795h1v74h-1zM1198 1943h1v74h-1zM1546 1192h1v11h-1zM1546 2017h1v30h-1z"/>
<path fill="#a2ccea" d="M1198 1573h1v74h-1zM1198 2017h1v30h-1zM1261 1943h1v74h-1zM1386 1499h1v74h-1zM1387 1499h1v74h-1zM1536 1573h1v74h-1zM1537 1573h1v74h-1zM1546 1351h1v74h-1zM1565 1351h1v74h-1zM1565 1573h1v74h-1z"/>
<path fill="#aeccea" d="M1199 1192h1v11h-1zM1199 1277h1v74h-1zM1199 1721h1v74h-1zM1199 1869h1v74h-1zM1666 1203h1v74h-1zM1666 1499h1v74h-1z"/>
<path fill="#def6f0" d="M1201 1943h1v74h-1zM1235 2017h1v30h-1z"/>
<path fill="#a8dee4" d="M1202 1192h1v233h-1zM1202 1499h1v74h-1zM1202 1647h1v296h-1zM1202 2017h1v30h-1zM1223 1203h1v74h-1zM1223 1425h1v74h-1zM1223 1647h1v74h-1zM1223 2017h1v30h-1zM1368 1192h1v11h-1zM1368 1277h1v74h-1zM1368 1499h1v74h-1zM1368 1647h1v74h-1zM1368 1869h1v148h-1zM1531 1277h1v296h-1zM1531 1721h1v74h-1zM1531 2017h1v30h-1z"/>
<path fill="#9cd8e4" d="M1203 1192h1v85h-1zM1203 1499h1v74h-1zM1203 1647h1v148h-1zM1203 2017h1v30h-1z"/>
<path fill="#9cdede" d="M1203 1277h1v148h-1zM1203 1795h1v148h-1zM1208 1277h1v148h-1zM1208 1795h1v148h-1zM1213 1351h1v148h-1zM1213 1647h1v74h-1z"/>
<path fill="#aedecc" d="M1203 1425h1v74h-1zM1208 1192h1v85h-1zM1208 1647h1v74h-1z"/>
<path fill="#a2d2e4" d="M1203 1573h1v74h-1zM1213 1277h1v74h-1zM1213 1721h1v148h-1zM1294 1277h1v74h-1zM1386 1192h1v11h-1zM1386 1647h1v74h-1zM1638 1647h1v74h-1z"/>
<path fill="#a8ded8" d="M1203 1943h1v74h-1zM1208 1425h1v148h-1zM1208 1721h1v74h-1zM1208 1943h1v104h-1zM1212 1192h1v11h-1zM1212 1499h1v74h-1zM1213 1192h1v11h-1zM1213 1499h1v74h-1zM1222 1573h1v74h-1zM1222 1721h1v148h-1zM1222 1943h1v74h-1zM1226 1721h1v74h-1zM1367 1573h1v74h-1zM1367 2017h1v30h-1zM1386 1795h1v74h-1zM1387 1795h1v74h-1zM1536 1647h1v74h-1zM1632 1277h1v74h-1zM1632 1573h1v74h-1zM1632 1869h1v74h-1z"/>
<path fill="#c6ead8" d="M1204 1425h1v74h-1zM1344 1203h1v74h-1zM1344 1573h1v74h-1z"/>
<path fill="#d8f0e4" d="M1206 1192h1v85h-1zM1206 1647h1v74h-1z"/>
<path fill="#def0de" d="M1206 1573h1v74h-1z"/>
<path fill="#b4ded2" d="M1207 1192h1v85h-1zM1207 1647h1v74h-1z"/>
<path fill="#c0dec6" d="M1207 1573h1v74h-1z"/>
<path fill="#cceade" d="M1209 1192h1v85h-1zM1209 1647h1v74h-1z"/>
<path fill="#c0eaea" d="M1209 1277h1v148h-1zM1209 1795h1v148h-1zM1385 1203h1v222h-1zM1385 1573h1v74h-1zM1385 1869h1v148h-1z"/>
<path fill="#c6eae4" d="M1209 1425h1v148h-1zM1209 1721h1v74h-1zM1209 1943h1v104h-1zM1385 1795h1v74h-1z"/>
<path fill="#d8ead8" d="M1209 1573h1v74h-1zM1252 1351h1v222h-1zM1252 1943h1v74h-1zM1342 1277h1v148h-1zM1342 1721h1v74h-1z"/>
<path fill="#cceae4" d="M1211 1192h1v11h-1zM1211 1499h1v74h-1z"/>
<path fill="#c6eaf0" d="M1211 1573h1v74h-1zM1211 1869h1v178h-1zM1252 1795h1v74h-1zM1342 1943h1v104h-1zM1530 1192h1v603h-1zM1530 1869h1v74h-1zM1530 2017h1v30h-1z"/>
<path fill="#ccf0f0" d="M1214 1351h1v148h-1zM1214 1647h1v74h-1z"/>
<path fill="#9c96d2" d="M1216 1192h1v855h-1z"/>
<path fill="#7872c0" d="M1217 1192h1v855h-1zM1555 1192h1v855h-1zM1569 1192h1v855h-1zM1735 1192h1v855h-1zM1918 1192h1v855h-1zM2043 1192h1v855h-1zM2087 1192h1v855h-1z"/>
<path fill="#c6e4cc" d="M1221 1192h1v11h-1zM1221 1277h1v148h-1z"/>
<path fill="#aee4e4" d="M1221 1203h1v74h-1zM1221 1425h1v74h-1zM1221 1647h1v74h-1zM1221 2017h1v30h-1zM1237 1203h1v74h-1zM1237 1943h1v74h-1z"/>
<path fill="#c0e4d2" d="M1221 1499h1v74h-1zM1221 1869h1v74h-1zM1250 1203h1v148h-1zM1250 1573h1v148h-1zM1250 1869h1v74h-1zM1250 2017h1v30h-1z"/>
<path fill="#c0dec0" d="M1222 1192h1v11h-1zM1222 1277h1v148h-1z"/>
<path fill="#b4decc" d="M1222 1499h1v74h-1zM1222 1869h1v74h-1z"/>
<path fill="#c6e4c6" d="M1223 1192h1v11h-1zM1223 1277h1v148h-1z"/>
<path fill="#eaf6f0" d="M1224 1499h1v74h-1zM1224 1869h1v74h-1zM1629 1192h1v11h-1zM1629 1277h1v74h-1zM1629 1647h1v74h-1zM1629 1795h1v74h-1zM1629 2017h1v30h-1z"/>
<path fill="#a2d8ea" d="M1227 1573h1v74h-1zM1387 1192h1v11h-1zM1387 1647h1v74h-1zM1536 1203h1v148h-1zM1536 1795h1v74h-1z"/>
<path fill="#e4eaf6" d="M1230 1192h1v11h-1zM1230 1277h1v370h-1zM1230 1721h1v296h-1zM1286 1192h1v455h-1zM1286 1795h1v252h-1zM1364 1192h1v855h-1zM1398 1192h1v855h-1zM1438 1425h1v74h-1zM1510 1192h1v855h-1z"/>
<path fill="#90aee4" d="M1231 1192h1v11h-1zM1231 1277h1v74h-1zM1231 1425h1v148h-1zM1231 1721h1v74h-1zM1260 1351h1v148h-1zM1260 1647h1v74h-1zM1425 1192h1v11h-1z"/>
<path fill="#7884cc" d="M1231 1203h1v74h-1zM1231 2017h1v30h-1z"/>
<path fill="#96b4e4" d="M1231 1351h1v74h-1zM1231 1795h1v74h-1zM1502 1351h1v74h-1zM1502 1499h1v148h-1zM1502 1721h1v74h-1zM1502 1943h1v74h-1zM1503 1351h1v74h-1zM1503 1499h1v148h-1zM1503 1721h1v74h-1zM1503 1943h1v74h-1zM1599 1425h1v296h-1zM1599 1943h1v104h-1z"/>
<path fill="#90a8de" d="M1231 1573h1v74h-1zM1231 1869h1v148h-1zM1260 1192h1v11h-1zM1260 1795h1v74h-1zM1260 2017h1v30h-1z"/>
<path fill="#96baea" d="M1231 1647h1v74h-1z"/>
<path fill="#a2b4e4" d="M1232 1573h1v74h-1zM1232 1869h1v148h-1z"/>
<path fill="#a8c6f0" d="M1232 1647h1v74h-1zM1566 1499h1v74h-1zM1566 1647h1v74h-1z"/>
<path fill="#c0d2f0" d="M1233 1192h1v11h-1zM1233 1277h1v74h-1zM1233 1425h1v148h-1zM1233 1721h1v74h-1zM1421 1499h1v74h-1zM1421 1943h1v74h-1z"/>
<path fill="#c0d8f6" d="M1233 1351h1v74h-1zM1233 1647h1v74h-1zM1233 1795h1v74h-1z"/>
<path fill="#c0ccf0" d="M1233 1573h1v74h-1zM1233 1869h1v148h-1zM1421 1203h1v148h-1zM1421 1573h1v74h-1z"/>
<path fill="#f6f0fc" d="M1234 1203h1v74h-1zM1577 1192h1v855h-1zM1606 1192h1v855h-1zM1669 1573h1v74h-1zM1669 1721h1v74h-1zM2012 1192h1v855h-1z"/>
<path fill="#d8f0f0" d="M1235 1192h1v85h-1zM1235 1351h1v74h-1zM1235 1573h1v296h-1zM1235 1943h1v74h-1zM1388 1203h1v296h-1zM1388 1573h1v74h-1zM1388 1721h1v326h-1z"/>
<path fill="#8ad2d8" d="M1236 1192h1v11h-1zM1236 1351h1v74h-1zM1236 1573h1v296h-1zM1343 1943h1v104h-1z"/>
<path fill="#8ad2d2" d="M1236 1203h1v74h-1zM1236 1943h1v74h-1zM1343 1425h1v74h-1zM1343 1795h1v74h-1z"/>
<path fill="#96d8c6" d="M1236 1277h1v74h-1zM1236 1425h1v148h-1zM1236 2017h1v30h-1zM1343 1499h1v74h-1zM1343 1647h1v74h-1zM1343 1869h1v74h-1z"/>
<path fill="#8accde" d="M1236 1869h1v74h-1zM1343 1192h1v11h-1z"/>
<path fill="#b4b4d8" d="M1240 1192h1v855h-1zM1617 1192h1v855h-1zM1752 1192h1v855h-1z"/>
<path fill="#9690d2" d="M1242 1192h1v855h-1zM2102 1192h1v855h-1z"/>
<path fill="#a29cd8" d="M1247 1192h1v855h-1zM1685 1192h1v855h-1zM1764 1192h1v855h-1z"/>
<path fill="#d2d2f0" d="M1248 1192h1v855h-1zM1332 1192h1v855h-1zM1346 1192h1v855h-1zM1562 1192h1v855h-1zM1591 1192h1v855h-1zM1684 1192h1v855h-1zM2027 1192h1v855h-1z"/>
<path fill="#bae4d8" d="M1250 1192h1v11h-1zM1250 1721h1v74h-1zM1627 1192h1v11h-1zM1627 1277h1v74h-1zM1627 1647h1v74h-1zM1627 1795h1v74h-1zM1627 2017h1v30h-1z"/>
<path fill="#cce4cc" d="M1250 1351h1v222h-1zM1250 1943h1v74h-1zM1627 1425h1v74h-1zM1627 1869h1v74h-1z"/>
<path fill="#a8d8c0" d="M1251 1203h1v148h-1zM1251 1573h1v148h-1zM1251 1869h1v74h-1zM1251 2017h1v30h-1zM1633 1425h1v74h-1z"/>
<path fill="#b4d8b4" d="M1251 1351h1v222h-1zM1251 1943h1v74h-1z"/>
<path fill="#d2eae4" d="M1252 1203h1v148h-1zM1252 1573h1v148h-1zM1252 1869h1v74h-1zM1252 2017h1v30h-1zM1342 1203h1v74h-1zM1342 1573h1v74h-1z"/>
<path fill="#6c66b4" d="M1256 1192h1v855h-1zM1333 1192h1v855h-1zM1671 1192h1v855h-1zM1941 1192h1v855h-1zM2014 1192h1v855h-1zM2049 1192h1v855h-1zM2116 1192h1v855h-1z"/>
<path fill="#c0c0ea" d="M1257 1192h1v855h-1zM1412 1192h1v855h-1zM1863 1192h1v855h-1zM1929 1192h1v855h-1zM2018 1192h1v855h-1z"/>
<path fill="#eaeaf6" d="M1258 1192h1v751h-1zM1258 2017h1v30h-1zM1330 1192h1v855h-1zM1403 1203h1v222h-1zM1403 2017h1v30h-1zM1572 1192h1v855h-1zM1602 1192h1v855h-1zM1703 1192h1v855h-1zM1737 1192h1v855h-1zM1915 1192h1v855h-1zM1944 1192h1v855h-1z"/>
<path fill="#9caede" d="M1261 1192h1v11h-1zM1261 1795h1v74h-1zM1261 2017h1v30h-1z"/>
<path fill="#9cbae4" d="M1261 1351h1v148h-1zM1261 1647h1v74h-1zM1502 1277h1v74h-1zM1502 1647h1v74h-1zM1598 1425h1v296h-1zM1598 1943h1v104h-1z"/>
<path fill="#dee4fc" d="M1262 1192h1v11h-1zM1262 1795h1v74h-1zM1262 2017h1v30h-1z"/>
<path fill="#deeafc" d="M1262 1203h1v592h-1zM1262 1869h1v74h-1zM1417 1573h1v74h-1z"/>
<path fill="#def0fc" d="M1262 1943h1v74h-1z"/>
<path fill="#4e4ea2" d="M1265 1192h1v855h-1z"/>
<path fill="#847ec0" d="M1266 1192h1v855h-1zM1952 1192h1v855h-1z"/>
<path fill="#e4def6" d="M1267 1192h1v855h-1zM1679 1192h1v855h-1zM2127 1192h1v855h-1z"/>
<path fill="#3c3696" d="M1270 1192h1v855h-1zM1454 1192h1v855h-1zM1478 1192h1v855h-1zM1493 1192h1v855h-1zM1782 1192h1v855h-1zM2005 1192h1v855h-1z"/>
<path fill="#6ca2de" d="M1275 1192h1v11h-1zM1275 1351h1v74h-1zM1275 1499h1v222h-1zM1275 1943h1v74h-1z"/>
<path fill="#6caed8" d="M1275 1277h1v74h-1zM1275 1721h1v222h-1z"/>
<path fill="#a8a2d2" d="M1279 1192h1v855h-1zM1518 1192h1v855h-1zM1861 1192h1v855h-1zM2134 1192h1v855h-1z"/>
<path fill="#302a90" d="M1280 1192h1v855h-1zM1319 1192h1v855h-1zM1444 1192h1v855h-1zM1792 1192h1v855h-1zM1831 1192h1v855h-1zM1956 1192h1v855h-1zM1995 1192h1v855h-1zM2135 1192h1v855h-1z"/>
<path fill="#c0c0de" d="M1281 1192h1v855h-1zM1443 1192h1v855h-1zM1697 1192h1v855h-1zM1994 1192h1v855h-1z"/>
<path fill="#b4c0e4" d="M1284 1203h1v74h-1zM1284 1351h1v74h-1zM1284 1499h1v148h-1zM1284 1869h1v74h-1zM1487 1192h1v855h-1z"/>
<path fill="#a2a8d8" d="M1284 1647h1v148h-1zM1419 1351h1v74h-1zM1419 1721h1v74h-1zM1419 1869h1v74h-1zM1559 1192h1v855h-1z"/>
<path fill="#7e96d2" d="M1285 1203h1v74h-1zM1285 1351h1v74h-1zM1285 1499h1v148h-1zM1285 1869h1v74h-1z"/>
<path fill="#7ea8de" d="M1285 1277h1v74h-1zM1285 1795h1v74h-1zM1285 1943h1v104h-1zM1647 1277h1v74h-1zM1647 1647h1v74h-1zM1647 2017h1v30h-1z"/>
<path fill="#a8c0e4" d="M1289 1425h1v74h-1zM1289 1573h1v74h-1zM1289 1721h1v74h-1zM1289 2017h1v30h-1zM1643 1795h1v74h-1z"/>
<path fill="#909cd2" d="M1289 1869h1v74h-1zM1643 1203h1v296h-1zM1643 1573h1v148h-1z"/>
<path fill="#90bae4" d="M1290 1192h1v85h-1zM1290 1647h1v74h-1zM1405 1277h1v148h-1zM1405 2017h1v30h-1z"/>
<path fill="#8aa2d8" d="M1290 1277h1v74h-1zM1290 1795h1v74h-1zM1290 1943h1v74h-1zM1358 1192h1v11h-1zM1642 1192h1v11h-1zM1642 1499h1v74h-1zM1642 1721h1v74h-1zM1642 1869h1v74h-1zM1642 2017h1v30h-1z"/>
<path fill="#8aaede" d="M1290 1425h1v74h-1zM1290 1573h1v74h-1zM1290 1721h1v74h-1zM1290 2017h1v30h-1zM1473 1277h1v74h-1zM1473 1573h1v74h-1zM1473 1869h1v74h-1zM1642 1795h1v74h-1z"/>
<path fill="#727ec0" d="M1290 1869h1v74h-1zM1642 1203h1v296h-1zM1642 1573h1v148h-1z"/>
<path fill="#f0f0f6" d="M1291 1869h1v74h-1zM1673 1192h1v855h-1zM1771 1192h1v855h-1zM1810 1192h1v855h-1zM1872 1192h1v855h-1zM1881 1192h1v855h-1zM1977 1192h1v855h-1zM2016 1192h1v855h-1zM2114 1192h1v855h-1z"/>
<path fill="#a8decc" d="M1294 1192h1v11h-1zM1294 1425h1v74h-1zM1294 1573h1v148h-1zM1294 1795h1v74h-1zM1638 1203h1v74h-1zM1638 1425h1v222h-1z"/>
<path fill="#a2decc" d="M1295 1192h1v11h-1zM1295 1425h1v74h-1zM1295 1573h1v148h-1zM1295 1795h1v74h-1zM1637 1203h1v74h-1zM1637 1425h1v222h-1z"/>
<path fill="#9cd2e4" d="M1295 1277h1v74h-1zM1637 1647h1v74h-1z"/>
<path fill="#9cd8d8" d="M1295 1351h1v74h-1zM1637 1277h1v74h-1zM1637 1721h1v74h-1zM1637 1869h1v178h-1z"/>
<path fill="#badeba" d="M1295 1943h1v74h-1z"/>
<path fill="#8496d2" d="M1299 1192h1v855h-1z"/>
<path fill="#9caed8" d="M1300 1192h1v855h-1z"/>
<path fill="#dedeea" d="M1303 1192h1v855h-1zM2119 1192h1v855h-1z"/>
<path fill="#48429c" d="M1304 1192h1v855h-1zM2120 1192h1v855h-1z"/>
<path fill="#908ac0" d="M1305 1192h1v855h-1z"/>
<path fill="#363090" d="M1309 1192h1v855h-1zM1623 1192h1v855h-1zM2125 1192h1v855h-1z"/>
<path fill="#a2a2cc" d="M1310 1192h1v855h-1zM1622 1192h1v855h-1z"/>
<path fill="#ccd8f0" d="M1313 1192h1v159h-1zM1313 1425h1v74h-1zM1313 1573h1v370h-1zM1313 2017h1v30h-1zM1315 1203h1v74h-1zM1315 1573h1v148h-1zM1315 1795h1v148h-1zM1315 2017h1v30h-1zM1583 1203h1v74h-1zM1583 1869h1v74h-1zM1656 1721h1v74h-1z"/>
<path fill="#c0c6e4" d="M1313 1351h1v74h-1zM1313 1943h1v74h-1zM1315 1351h1v74h-1zM1315 1943h1v74h-1zM1448 1192h1v855h-1z"/>
<path fill="#6690d8" d="M1314 1192h1v11h-1zM1314 1277h1v74h-1zM1314 1425h1v74h-1zM1314 1721h1v74h-1zM1657 1721h1v74h-1z"/>
<path fill="#6684cc" d="M1314 1203h1v74h-1zM1314 1573h1v148h-1zM1314 1795h1v148h-1zM1314 2017h1v30h-1zM1657 1192h1v85h-1zM1657 1499h1v148h-1zM1657 1795h1v74h-1zM1657 1943h1v104h-1z"/>
<path fill="#4854ae" d="M1314 1351h1v74h-1zM1314 1943h1v74h-1z"/>
<path fill="#a29ccc" d="M1318 1192h1v855h-1zM1830 1192h1v855h-1z"/>
<path fill="#c6c6e4" d="M1320 1192h1v855h-1zM1747 1192h1v855h-1zM2040 1192h1v855h-1zM2074 1192h1v855h-1zM2090 1192h1v855h-1z"/>
<path fill="#9ca8d8" d="M1323 1192h1v855h-1z"/>
<path fill="#6678c0" d="M1324 1192h1v855h-1z"/>
<path fill="#dee4f0" d="M1325 1192h1v855h-1z"/>
<path fill="#e4e4fc" d="M1327 1192h1v855h-1zM1610 1192h1v855h-1zM1958 1192h1v855h-1zM2008 1192h1v855h-1z"/>
<path fill="#7872ba" d="M1328 1192h1v855h-1zM1604 1192h1v855h-1zM1767 1192h1v855h-1zM1778 1192h1v855h-1z"/>
<path fill="#5a5aa8" d="M1329 1192h1v855h-1z"/>
<path fill="#fcf0d2" d="M1337 1647h1v74h-1z"/>
<path fill="#f6de90" d="M1338 1647h1v74h-1z"/>
<path fill="#aed8e4" d="M1339 1203h1v74h-1zM1339 1351h1v74h-1zM1339 1499h1v74h-1zM1339 1869h1v74h-1z"/>
<path fill="#f6e4ae" d="M1339 1647h1v74h-1z"/>
<path fill="#a2d8c0" d="M1343 1203h1v74h-1zM1343 1573h1v74h-1z"/>
<path fill="#aed8b4" d="M1343 1277h1v148h-1zM1343 1721h1v74h-1z"/>
<path fill="#d2ead2" d="M1344 1277h1v148h-1zM1344 1721h1v74h-1z"/>
<path fill="#c0eade" d="M1344 1499h1v74h-1zM1344 1647h1v74h-1zM1344 1869h1v74h-1z"/>
<path fill="#9c9cd8" d="M1347 1192h1v855h-1zM2028 1192h1v855h-1zM2088 1192h1v855h-1z"/>
<path fill="#4e48a8" d="M1348 1192h1v855h-1zM1522 1192h1v855h-1zM1748 1192h1v855h-1zM1927 1192h1v855h-1zM2096 1192h1v855h-1zM2101 1192h1v855h-1z"/>
<path fill="#aeaed8" d="M1349 1192h1v855h-1zM1619 1192h1v855h-1zM1726 1192h1v855h-1z"/>
<path fill="#ccd2f0" d="M1351 1192h1v855h-1zM1356 1192h1v11h-1zM1586 1277h1v74h-1zM1586 2017h1v30h-1z"/>
<path fill="#a2a8de" d="M1352 1192h1v855h-1zM1397 1192h1v855h-1zM1585 1277h1v74h-1zM1585 2017h1v30h-1zM2083 1192h1v855h-1z"/>
<path fill="#6678c6" d="M1353 1192h1v855h-1z"/>
<path fill="#ccd8f6" d="M1356 1499h1v74h-1zM1426 1192h1v11h-1zM1581 1277h1v74h-1zM1581 1425h1v74h-1zM1581 1721h1v74h-1zM1581 1869h1v74h-1z"/>
<path fill="#a8baea" d="M1357 1192h1v11h-1zM1580 1425h1v74h-1z"/>
<path fill="#a8ccf0" d="M1357 1351h1v74h-1zM1357 1573h1v74h-1zM1357 1943h1v74h-1zM1406 1277h1v148h-1zM1406 2017h1v30h-1zM1545 1203h1v74h-1zM1545 1425h1v592h-1z"/>
<path fill="#8aaee4" d="M1358 1203h1v74h-1zM1358 1425h1v74h-1zM1358 1721h1v74h-1zM1358 1869h1v74h-1zM1358 2017h1v30h-1zM1415 1203h1v148h-1zM1415 1425h1v74h-1zM1415 1647h1v148h-1zM1420 1499h1v74h-1zM1420 1943h1v74h-1zM1584 1203h1v74h-1zM1584 1869h1v74h-1z"/>
<path fill="#90c0e4" d="M1358 1277h1v74h-1zM1358 1647h1v74h-1zM1358 1795h1v74h-1zM1405 1203h1v74h-1zM1420 1192h1v11h-1zM1420 1795h1v74h-1z"/>
<path fill="#8aa8de" d="M1358 1499h1v74h-1zM1415 1351h1v74h-1zM1415 1943h1v104h-1z"/>
<path fill="#dee4f6" d="M1359 1192h1v11h-1zM1663 1203h1v74h-1zM1663 1351h1v222h-1zM1663 1647h1v370h-1z"/>
<path fill="#deeaf6" d="M1359 1203h1v74h-1zM1359 1425h1v148h-1zM1359 1721h1v74h-1zM1359 1869h1v74h-1zM1359 2017h1v30h-1zM1404 1192h1v11h-1zM1404 1277h1v770h-1zM1417 1192h1v11h-1zM1417 1795h1v74h-1zM1651 1192h1v159h-1zM1651 1573h1v74h-1zM1651 1943h1v74h-1zM1663 1192h1v11h-1zM1663 1277h1v74h-1zM1663 1573h1v74h-1zM1663 2017h1v30h-1z"/>
<path fill="#909cd8" d="M1362 1192h1v855h-1zM1395 1192h1v855h-1z"/>
<path fill="#8490d2" d="M1363 1192h1v855h-1zM1550 1192h1v855h-1zM1561 1192h1v855h-1z"/>
<path fill="#eafcf6" d="M1365 1203h1v74h-1zM1365 1351h1v148h-1zM1365 1573h1v74h-1zM1365 1721h1v148h-1zM1365 2017h1v30h-1z"/>
<path fill="#a8dede" d="M1368 1203h1v74h-1zM1368 1351h1v148h-1zM1368 1721h1v148h-1zM1531 1192h1v85h-1zM1531 1573h1v148h-1zM1531 1869h1v74h-1zM1632 1203h1v74h-1zM1632 1351h1v74h-1zM1632 1721h1v148h-1zM1632 1943h1v74h-1z"/>
<path fill="#9ca2de" d="M1371 1192h1v855h-1z"/>
<path fill="#a2aede" d="M1373 1192h1v855h-1zM1416 1869h1v74h-1z"/>
<path fill="#c0c0e4" d="M1375 1192h1v855h-1zM1549 1192h1v855h-1zM1731 1192h1v855h-1zM1887 1192h1v855h-1zM1967 1192h1v855h-1z"/>
<path fill="#7e7ecc" d="M1376 1192h1v855h-1z"/>
<path fill="#726cc0" d="M1377 1192h1v855h-1zM1382 1192h1v855h-1zM1705 1192h1v855h-1zM1893 1192h1v855h-1zM1913 1192h1v855h-1z"/>
<path fill="#a29cd2" d="M1378 1192h1v855h-1zM1788 1192h1v855h-1zM2064 1192h1v855h-1z"/>
<path fill="#b4aede" d="M1380 1192h1v855h-1zM1383 1192h1v855h-1zM2069 1192h1v855h-1z"/>
<path fill="#7872c6" d="M1381 1192h1v855h-1zM1888 1192h1v855h-1zM2078 1192h1v855h-1z"/>
<path fill="#c0e4f0" d="M1385 1192h1v11h-1zM1385 1647h1v74h-1z"/>
<path fill="#c0e4ea" d="M1385 1425h1v74h-1zM1385 1721h1v74h-1zM1385 2017h1v30h-1z"/>
<path fill="#c0d8f0" d="M1385 1499h1v74h-1z"/>
<path fill="#fcf6fc" d="M1389 1192h1v855h-1z"/>
<path fill="#848acc" d="M1391 1192h1v855h-1z"/>
<path fill="#8a90d2" d="M1392 1192h1v855h-1z"/>
<path fill="#8a96d8" d="M1396 1192h1v855h-1zM2082 1192h1v855h-1z"/>
<path fill="#6c6cba" d="M1400 1192h1v855h-1zM1739 1192h1v855h-1zM1879 1192h1v855h-1z"/>
<path fill="#a2a2d8" d="M1402 1192h1v855h-1zM1516 1192h1v855h-1zM1590 1192h1v855h-1zM1919 1192h1v855h-1zM2066 1192h1v855h-1zM2107 1192h1v855h-1z"/>
<path fill="#f0eaf6" d="M1403 1192h1v11h-1zM1403 1425h1v592h-1zM1906 1192h1v855h-1z"/>
<path fill="#8aa8e4" d="M1405 1425h1v74h-1zM1405 1573h1v222h-1z"/>
<path fill="#c6d8f6" d="M1407 1192h1v11h-1zM1407 1425h1v592h-1z"/>
<path fill="#c6def6" d="M1407 1203h1v222h-1zM1407 2017h1v30h-1z"/>
<path fill="#babade" d="M1409 1192h1v233h-1zM1409 1499h1v74h-1zM1409 1795h1v252h-1zM1523 1192h1v855h-1zM1718 1192h1v855h-1zM1866 1192h1v855h-1zM1900 1192h1v855h-1z"/>
<path fill="#c0bade" d="M1409 1425h1v74h-1zM1409 1573h1v222h-1zM1786 1192h1v855h-1zM1921 1192h1v855h-1zM2001 1192h1v855h-1z"/>
<path fill="#908ad2" d="M1411 1192h1v855h-1zM1540 1192h1v855h-1z"/>
<path fill="#c6d2f0" d="M1414 1351h1v74h-1zM1414 1943h1v104h-1zM1583 1573h1v74h-1zM1656 1192h1v85h-1zM1656 1499h1v148h-1zM1656 1795h1v74h-1zM1656 1943h1v104h-1z"/>
<path fill="#c0ccea" d="M1414 1499h1v74h-1z"/>
<path fill="#b4bade" d="M1414 1869h1v74h-1z"/>
<path fill="#8ac0e4" d="M1415 1192h1v11h-1zM1415 1795h1v74h-1zM1579 1192h1v11h-1zM1579 1943h1v74h-1z"/>
<path fill="#6c78c6" d="M1415 1869h1v74h-1zM1584 1277h1v74h-1zM1584 2017h1v30h-1z"/>
<path fill="#b4ccf0" d="M1416 1351h1v74h-1zM1416 1943h1v104h-1zM1585 1203h1v74h-1zM1585 1869h1v74h-1z"/>
<path fill="#b4c6ea" d="M1416 1499h1v74h-1z"/>
<path fill="#b4c0ea" d="M1419 1203h1v148h-1zM1419 1573h1v74h-1zM1585 1573h1v74h-1z"/>
<path fill="#8aa2de" d="M1420 1203h1v148h-1zM1420 1573h1v74h-1z"/>
<path fill="#727ec6" d="M1420 1351h1v74h-1zM1420 1721h1v74h-1zM1420 1869h1v74h-1zM1512 1192h1v855h-1z"/>
<path fill="#c0def6" d="M1421 1192h1v11h-1zM1421 1795h1v74h-1z"/>
<path fill="#aebae4" d="M1421 1351h1v74h-1zM1421 1721h1v74h-1zM1421 1869h1v74h-1zM1474 1425h1v74h-1zM1474 1795h1v74h-1zM1474 1943h1v74h-1zM1614 1192h1v855h-1z"/>
<path fill="#c0d2f6" d="M1421 1425h1v74h-1zM1421 1647h1v74h-1zM1421 2017h1v30h-1z"/>
<path fill="#e4eafc" d="M1422 1203h1v148h-1zM1422 1425h1v296h-1zM1422 1943h1v104h-1zM1501 1192h1v233h-1zM1501 1499h1v518h-1z"/>
<path fill="#dedef6" d="M1422 1351h1v74h-1zM1422 1721h1v74h-1zM1422 1869h1v74h-1zM1436 1192h1v855h-1zM1501 1425h1v74h-1zM1596 1192h1v855h-1zM1784 1192h1v855h-1zM1877 1192h1v855h-1zM1939 1192h1v855h-1zM2022 1192h1v855h-1z"/>
<path fill="#6c6cb4" d="M1429 1192h1v855h-1z"/>
<path fill="#726cba" d="M1430 1192h1v855h-1zM1738 1192h1v855h-1zM1880 1192h1v855h-1zM1947 1192h1v855h-1zM2048 1192h1v855h-1z"/>
<path fill="#5a54a8" d="M1434 1192h1v855h-1zM1672 1192h1v855h-1zM2019 1192h1v855h-1z"/>
<path fill="#7e78c0" d="M1435 1192h1v855h-1zM1497 1192h1v855h-1zM2054 1192h1v855h-1z"/>
<path fill="#7ebade" d="M1439 1192h1v11h-1zM1439 1277h1v74h-1zM1439 1499h1v74h-1zM1439 1721h1v74h-1z"/>
<path fill="#7eaede" d="M1439 1203h1v74h-1zM1439 1351h1v74h-1zM1439 1573h1v74h-1zM1439 1795h1v74h-1zM1439 1943h1v104h-1z"/>
<path fill="#78a2d8" d="M1439 1425h1v74h-1z"/>
<path fill="#b4d8ea" d="M1440 1647h1v74h-1zM1440 1869h1v74h-1z"/>
<path fill="#5466ba" d="M1449 1192h1v855h-1zM1488 1192h1v855h-1z"/>
<path fill="#c0c6ea" d="M1450 1192h1v855h-1z"/>
<path fill="#9c96c6" d="M1453 1192h1v855h-1zM1479 1192h1v855h-1z"/>
<path fill="#8484c0" d="M1458 1192h1v855h-1zM2025 1192h1v855h-1z"/>
<path fill="#4e48a2" d="M1459 1192h1v855h-1zM1777 1192h1v855h-1zM1855 1192h1v855h-1zM2024 1192h1v855h-1zM2140 1192h1v855h-1z"/>
<path fill="#605aa8" d="M1464 1192h1v855h-1zM1811 1192h1v855h-1zM1976 1192h1v855h-1zM2015 1192h1v855h-1zM2115 1192h1v855h-1z"/>
<path fill="#f6f6f6" d="M1465 1192h1v855h-1z"/>
<path fill="#6666ae" d="M1468 1192h1v855h-1z"/>
<path fill="#d2d2e4" d="M1477 1192h1v855h-1zM1494 1192h1v855h-1z"/>
<path fill="#c6ccea" d="M1482 1192h1v85h-1zM1482 1721h1v296h-1z"/>
<path fill="#d2def0" d="M1482 1277h1v74h-1zM1482 1499h1v148h-1zM1658 1721h1v74h-1zM1658 1869h1v74h-1z"/>
<path fill="#4e5ab4" d="M1483 1192h1v85h-1zM1483 1721h1v296h-1z"/>
<path fill="#6c8acc" d="M1483 1277h1v74h-1zM1483 1499h1v148h-1z"/>
<path fill="#6c96d8" d="M1483 1351h1v148h-1zM1483 2017h1v30h-1z"/>
<path fill="#729cd8" d="M1483 1647h1v74h-1zM1662 1795h1v74h-1z"/>
<path fill="#bac0e4" d="M1484 1192h1v85h-1zM1484 1721h1v296h-1zM1583 1277h1v74h-1zM1583 2017h1v30h-1zM1656 1277h1v222h-1zM1656 1647h1v74h-1z"/>
<path fill="#c6d2ea" d="M1484 1277h1v74h-1zM1484 1499h1v148h-1z"/>
<path fill="#9090c6" d="M1492 1192h1v855h-1zM2004 1192h1v855h-1zM2139 1192h1v855h-1z"/>
<path fill="#96aede" d="M1502 1192h1v85h-1zM1502 1795h1v148h-1z"/>
<path fill="#7e8acc" d="M1502 1425h1v74h-1zM1560 1192h1v855h-1z"/>
<path fill="#96a8de" d="M1503 1192h1v85h-1zM1503 1795h1v148h-1zM1599 1192h1v11h-1zM1599 1277h1v148h-1zM1599 1721h1v148h-1z"/>
<path fill="#7e8ac6" d="M1503 1425h1v74h-1z"/>
<path fill="#6060ae" d="M1507 1192h1v855h-1zM1603 1192h1v855h-1zM1845 1192h1v855h-1z"/>
<path fill="#7e78ba" d="M1508 1192h1v855h-1zM2009 1192h1v855h-1z"/>
<path fill="#a2aed8" d="M1513 1192h1v855h-1z"/>
<path fill="#4e4ea8" d="M1517 1192h1v855h-1z"/>
<path fill="#9696d2" d="M1521 1192h1v855h-1zM1859 1192h1v855h-1z"/>
<path fill="#c0baea" d="M1525 1192h1v855h-1z"/>
<path fill="#8a8acc" d="M1526 1192h1v855h-1zM1928 1192h1v855h-1z"/>
<path fill="#ccc6e4" d="M1528 1192h1v603h-1zM1528 1869h1v74h-1zM1528 2017h1v30h-1z"/>
<path fill="#a8d8ea" d="M1531 1795h1v74h-1zM1531 1943h1v74h-1z"/>
<path fill="#96d2e4" d="M1532 1795h1v74h-1zM1532 1943h1v74h-1z"/>
<path fill="#f0f6f6" d="M1534 1647h1v74h-1z"/>
<path fill="#bae4f0" d="M1535 1351h1v74h-1zM1535 1499h1v74h-1zM1535 1721h1v74h-1zM1535 1869h1v74h-1z"/>
<path fill="#c0eae4" d="M1535 1647h1v74h-1z"/>
<path fill="#d8d2f0" d="M1539 1647h1v74h-1zM1765 1192h1v855h-1z"/>
<path fill="#8a84c6" d="M1542 1192h1v855h-1zM1593 1192h1v855h-1zM1783 1192h1v855h-1zM1835 1192h1v855h-1z"/>
<path fill="#9cb4ea" d="M1546 1277h1v74h-1z"/>
<path fill="#9cc6ea" d="M1546 1647h1v74h-1z"/>
<path fill="#7e84cc" d="M1551 1192h1v855h-1z"/>
<path fill="#a8a2d8" d="M1554 1192h1v855h-1zM1723 1192h1v855h-1z"/>
<path fill="#babae4" d="M1557 1192h1v855h-1zM1694 1192h1v855h-1zM1755 1192h1v855h-1zM1849 1192h1v855h-1zM2037 1192h1v855h-1zM2098 1192h1v855h-1z"/>
<path fill="#aed8f0" d="M1566 1192h1v11h-1zM1566 1425h1v74h-1zM1580 1499h1v74h-1zM1580 1647h1v74h-1z"/>
<path fill="#e4def0" d="M1568 1192h1v11h-1zM1568 1351h1v148h-1zM1568 1573h1v74h-1z"/>
<path fill="#d8d2ea" d="M1573 1192h1v855h-1zM1837 1192h1v855h-1zM1950 1192h1v855h-1zM1989 1192h1v855h-1zM2079 1192h1v855h-1zM2085 1192h1v855h-1z"/>
<path fill="#6060b4" d="M1574 1192h1v855h-1zM1594 1192h1v855h-1z"/>
<path fill="#847ec6" d="M1575 1192h1v855h-1zM1885 1192h1v855h-1zM1923 1192h1v855h-1zM2038 1192h1v855h-1zM2076 1192h1v855h-1z"/>
<path fill="#aea8de" d="M1576 1192h1v855h-1zM1699 1192h1v855h-1zM1750 1192h1v855h-1z"/>
<path fill="#aec0ea" d="M1580 1277h1v74h-1zM1580 1721h1v74h-1zM1580 1869h1v74h-1z"/>
<path fill="#b4c6f0" d="M1585 1351h1v148h-1z"/>
<path fill="#9c9ccc" d="M1588 1192h1v855h-1zM1822 1192h1v855h-1zM1965 1192h1v855h-1zM2030 1192h1v855h-1zM2100 1192h1v855h-1z"/>
<path fill="#b4aee4" d="M1595 1192h1v855h-1zM1680 1192h1v855h-1zM1769 1192h1v855h-1zM1868 1192h1v855h-1z"/>
<path fill="#9cb4de" d="M1598 1192h1v11h-1zM1598 1277h1v148h-1zM1598 1721h1v148h-1z"/>
<path fill="#d8d8f6" d="M1605 1192h1v855h-1zM1853 1192h1v855h-1zM1953 1192h1v855h-1zM2013 1192h1v855h-1z"/>
<path fill="#6c78c0" d="M1608 1192h1v855h-1z"/>
<path fill="#96a2d8" d="M1609 1192h1v855h-1z"/>
<path fill="#667ec6" d="M1613 1192h1v855h-1z"/>
<path fill="#302a8a" d="M1618 1192h1v855h-1zM1787 1192h1v855h-1zM1826 1192h1v855h-1zM1961 1192h1v855h-1zM2000 1192h1v855h-1zM2130 1192h1v855h-1z"/>
<path fill="#c6c0e4" d="M1624 1192h1v855h-1z"/>
<path fill="#b4e4e4" d="M1627 1203h1v74h-1zM1627 1573h1v74h-1z"/>
<path fill="#aed8ae" d="M1628 1425h1v74h-1zM1628 1869h1v74h-1z"/>
<path fill="#bae4cc" d="M1632 1425h1v74h-1z"/>
<path fill="#a8d8e4" d="M1632 1499h1v74h-1zM1632 1647h1v74h-1zM1632 2017h1v30h-1z"/>
<path fill="#96ccde" d="M1633 1499h1v74h-1zM1633 1647h1v74h-1zM1633 2017h1v30h-1z"/>
<path fill="#f6fcf6" d="M1634 1425h1v74h-1z"/>
<path fill="#84b4de" d="M1647 1192h1v11h-1zM1647 1351h1v148h-1zM1647 1721h1v148h-1zM1647 1943h1v74h-1z"/>
<path fill="#84bade" d="M1647 1499h1v148h-1z"/>
<path fill="#bad8ea" d="M1648 1499h1v148h-1z"/>
<path fill="#78a8de" d="M1652 1351h1v148h-1zM1652 2017h1v30h-1z"/>
<path fill="#78bad8" d="M1652 1499h1v74h-1zM1652 1647h1v296h-1z"/>
<path fill="#4254ae" d="M1657 1277h1v222h-1zM1657 1647h1v74h-1z"/>
<path fill="#c6cce4" d="M1658 1277h1v222h-1zM1658 1647h1v74h-1z"/>
<path fill="#baccea" d="M1661 1795h1v74h-1z"/>
<path fill="#78a2de" d="M1662 1192h1v11h-1zM1662 1277h1v74h-1zM1662 1573h1v74h-1zM1662 2017h1v30h-1z"/>
<path fill="#7290d2" d="M1662 1203h1v74h-1zM1662 1351h1v222h-1zM1662 1647h1v148h-1zM1662 1869h1v148h-1z"/>
<path fill="#969cd2" d="M1666 1573h1v74h-1zM1666 1721h1v74h-1z"/>
<path fill="#84a2de" d="M1667 1277h1v148h-1zM1667 1647h1v74h-1zM1667 1795h1v74h-1zM1667 1943h1v74h-1z"/>
<path fill="#6672ba" d="M1667 1573h1v74h-1zM1667 1721h1v74h-1z"/>
<path fill="#ded8f6" d="M1670 1192h1v855h-1z"/>
<path fill="#605aae" d="M1676 1192h1v855h-1zM1768 1192h1v855h-1zM1875 1192h1v855h-1zM2111 1192h1v855h-1z"/>
<path fill="#6c6cae" d="M1677 1192h1v855h-1z"/>
<path fill="#4842a2" d="M1686 1192h1v855h-1zM1753 1192h1v855h-1zM1870 1192h1v855h-1zM1922 1192h1v855h-1zM2029 1192h1v855h-1zM2091 1192h1v855h-1z"/>
<path fill="#9696cc" d="M1687 1192h1v855h-1zM1728 1192h1v855h-1zM1890 1192h1v855h-1z"/>
<path fill="#9090d2" d="M1690 1192h1v855h-1zM1878 1192h1v855h-1zM1914 1192h1v855h-1z"/>
<path fill="#423c9c" d="M1691 1192h1v855h-1zM1860 1192h1v855h-1zM2034 1192h1v855h-1zM2039 1192h1v855h-1z"/>
<path fill="#aeaed2" d="M1692 1192h1v855h-1z"/>
<path fill="#8484cc" d="M1695 1192h1v855h-1zM1754 1192h1v855h-1z"/>
<path fill="#3c369c" d="M1696 1192h1v855h-1zM1865 1192h1v855h-1z"/>
<path fill="#7878c0" d="M1700 1192h1v855h-1zM1711 1192h1v855h-1zM1907 1192h1v855h-1z"/>
<path fill="#ded8f0" d="M1708 1192h1v855h-1zM1910 1192h1v855h-1z"/>
<path fill="#8a84d2" d="M1709 1192h1v855h-1z"/>
<path fill="#ccccea" d="M1713 1192h1v855h-1z"/>
<path fill="#6666ba" d="M1715 1192h1v855h-1zM1884 1192h1v855h-1zM1899 1192h1v855h-1z"/>
<path fill="#8a8ac6" d="M1716 1192h1v855h-1zM1762 1192h1v855h-1z"/>
<path fill="#6660ba" d="M1720 1192h1v855h-1zM1725 1192h1v855h-1zM1889 1192h1v855h-1zM1894 1192h1v855h-1zM2058 1192h1v855h-1zM2063 1192h1v855h-1zM2068 1192h1v855h-1z"/>
<path fill="#9c9cd2" d="M1721 1192h1v855h-1zM1897 1192h1v855h-1z"/>
<path fill="#8484c6" d="M1733 1192h1v855h-1z"/>
<path fill="#d8d8ea" d="M1742 1192h1v855h-1zM1972 1192h1v855h-1zM2045 1192h1v855h-1z"/>
<path fill="#605ab4" d="M1743 1192h1v855h-1z"/>
<path fill="#bac6e4" d="M1757 1192h1v855h-1z"/>
<path fill="#7890d2" d="M1758 1192h1v855h-1z"/>
<path fill="#6660ae" d="M1772 1192h1v855h-1zM1807 1192h1v855h-1zM1846 1192h1v855h-1zM1942 1192h1v855h-1zM1980 1192h1v855h-1z"/>
<path fill="#6666b4" d="M1773 1192h1v855h-1zM1912 1192h1v855h-1z"/>
<path fill="#c6c0f0" d="M1774 1192h1v855h-1z"/>
<path fill="#d2d2f6" d="M1779 1192h1v855h-1z"/>
<path fill="#d2cce4" d="M1781 1192h1v855h-1zM2006 1192h1v855h-1z"/>
<path fill="#a8a8d2" d="M1791 1192h1v855h-1zM1926 1192h1v855h-1zM1999 1192h1v855h-1z"/>
<path fill="#b4b4de" d="M1793 1192h1v855h-1z"/>
<path fill="#9696c6" d="M1796 1192h1v855h-1zM1991 1192h1v855h-1z"/>
<path fill="#423c96" d="M1797 1192h1v855h-1zM1836 1192h1v855h-1zM1951 1192h1v855h-1zM1990 1192h1v855h-1z"/>
<path fill="#7872b4" d="M1812 1192h1v855h-1zM1975 1192h1v855h-1z"/>
<path fill="#4e489c" d="M1816 1192h1v855h-1zM1971 1192h1v855h-1zM2010 1192h1v855h-1z"/>
<path fill="#8a8ac0" d="M1817 1192h1v855h-1z"/>
<path fill="#bab4d8" d="M1825 1192h1v855h-1z"/>
<path fill="#b4aed8" d="M1827 1192h1v855h-1zM1960 1192h1v855h-1zM2035 1192h1v855h-1zM2095 1192h1v855h-1z"/>
<path fill="#c6c6de" d="M1832 1192h1v855h-1zM1955 1192h1v855h-1z"/>
<path fill="#e4defc" d="M1839 1192h1v855h-1z"/>
<path fill="#7272ba" d="M1840 1192h1v855h-1z"/>
<path fill="#a2a2de" d="M1873 1192h1v855h-1z"/>
<path fill="#847ecc" d="M1883 1192h1v855h-1z"/>
<path fill="#aeaede" d="M1892 1192h1v855h-1zM2023 1192h1v855h-1zM2093 1192h1v855h-1z"/>
<path fill="#a8a8d8" d="M1895 1192h1v855h-1z"/>
<path fill="#a8b4e4" d="M1902 1192h1v855h-1z"/>
<path fill="#90a2de" d="M1903 1192h1v855h-1z"/>
<path fill="#96a2de" d="M1904 1192h1v855h-1z"/>
<path fill="#7e7ec6" d="M1909 1192h1v855h-1z"/>
<path fill="#d2ccea" d="M1916 1192h1v855h-1z"/>
<path fill="#9690c6" d="M1931 1192h1v855h-1z"/>
<path fill="#d2ccf0" d="M1934 1192h1v855h-1z"/>
<path fill="#7e7eba" d="M1936 1192h1v855h-1z"/>
<path fill="#a8a8de" d="M1938 1192h1v855h-1zM2042 1192h1v855h-1z"/>
<path fill="#babaea" d="M1943 1192h1v855h-1z"/>
<path fill="#eaeaf0" d="M1945 1192h1v855h-1z"/>
<path fill="#5454a2" d="M1946 1192h1v855h-1z"/>
<path fill="#8a84c0" d="M1970 1192h1v855h-1zM2105 1192h1v855h-1z"/>
<path fill="#aea8d2" d="M1996 1192h1v855h-1z"/>
<path fill="#908acc" d="M2033 1192h1v855h-1zM2059 1192h1v855h-1z"/>
<path fill="#bab4de" d="M2061 1192h1v855h-1zM2136 1192h1v855h-1z"/>
<path fill="#6c66c0" d="M2073 1192h1v855h-1z"/>
<path fill="#5a5aae" d="M2086 1192h1v855h-1z"/>
<path fill="#5454a8" d="M2106 1192h1v855h-1z"/>
<path fill="#c6c6f0" d="M2117 1192h1v855h-1z"/>
<path fill="#d8d2f6" d="M2122 1192h1v855h-1z"/>
<path fill="#babad8" d="M2129 1192h1v855h-1z"/>
<path fill="#504aa0" d="M1057.40 1202.15h4.83v1.90h-4.83zM1071.89 1202.15h9.66v1.90h-9.66zM1086.38 1202.15h4.83v1.90h-4.83zM1125.03 1202.15h9.66v1.90h-9.66zM1149.18 1202.15h4.83v1.90h-4.83zM1163.67 1202.15h14.49v1.90h-14.49zM1192.66 1202.15h4.83v1.90h-4.83zM1216.81 1202.15h4.83v1.90h-4.83zM1240.96 1202.15h9.66v1.90h-9.66zM1255.45 1202.15h4.83v1.90h-4.83zM1265.11 1202.15h9.66v1.90h-9.66zM1279.61 1202.15h4.83v1.90h-4.83zM1303.76 1202.15h9.66v1.90h-9.66zM1318.25 1202.15h4.83v1.90h-4.83zM1327.91 1202.15h9.66v1.90h-9.66zM1347.23 1202.15h4.83v1.90h-4.83zM1376.22 1202.15h9.66v1.90h-9.66zM1400.37 1202.15h4.83v1.90h-4.83zM1410.03 1202.15h4.83v1.90h-4.83zM1429.35 1202.15h9.66v1.90h-9.66zM1443.85 1202.15h4.83v1.90h-4.83zM1453.51 1202.15h19.32v1.90h-19.32zM1477.66 1202.15h4.83v1.90h-4.83zM1492.15 1202.15h9.66v1.90h-9.66zM1506.64 1202.15h4.83v1.90h-4.83zM1516.31 1202.15h14.49v1.90h-14.49zM1540.46 1202.15h4.83v1.90h-4.83zM1554.95 1202.15h4.83v1.90h-4.83zM1569.44 1202.15h9.66v1.90h-9.66zM1588.76 1202.15h9.66v1.90h-9.66zM1603.26 1202.15h4.83v1.90h-4.83zM1617.75 1202.15h9.66v1.90h-9.66zM1670.88 1202.15h86.95v1.90h-86.95zM1762.66 1202.15h140.09v1.90h-140.09zM1907.58 1202.15h173.90v1.90h-173.90zM2086.31 1202.15h54.09v1.90h-54.09zM1057.40 1276.10h4.83v1.90h-4.83zM1071.89 1276.10h9.66v1.90h-9.66zM1086.38 1276.10h4.83v1.90h-4.83zM1125.03 1276.10h9.66v1.90h-9.66zM1149.18 1276.10h4.83v1.90h-4.83zM1163.67 1276.10h14.49v1.90h-14.49zM1192.66 1276.10h4.83v1.90h-4.83zM1216.81 1276.10h4.83v1.90h-4.83zM1240.96 1276.10h9.66v1.90h-9.66zM1255.45 1276.10h4.83v1.90h-4.83zM1265.11 1276.10h9.66v1.90h-9.66zM1279.61 1276.10h4.83v1.90h-4.83zM1303.76 1276.10h9.66v1.90h-9.66zM1318.25 1276.10h4.83v1.90h-4.83zM1327.91 1276.10h9.66v1.90h-9.66zM1347.23 1276.10h4.83v1.90h-4.83zM1376.22 1276.10h9.66v1.90h-9.66zM1400.37 1276.10h4.83v1.90h-4.83zM1410.03 1276.10h4.83v1.90h-4.83zM1429.35 1276.10h9.66v1.90h-9.66zM1443.85 1276.10h4.83v1.90h-4.83zM1453.51 1276.10h19.32v1.90h-19.32zM1477.66 1276.10h4.83v1.90h-4.83zM1492.15 1276.10h9.66v1.90h-9.66zM1506.64 1276.10h4.83v1.90h-4.83zM1516.31 1276.10h14.49v1.90h-14.49zM1540.46 1276.10h4.83v1.90h-4.83zM1554.95 1276.10h4.83v1.90h-4.83zM1569.44 1276.10h9.66v1.90h-9.66zM1588.76 1276.10h9.66v1.90h-9.66zM1603.26 1276.10h4.83v1.90h-4.83zM1617.75 1276.10h9.66v1.90h-9.66zM1670.88 1276.10h86.95v1.90h-86.95zM1762.66 1276.10h140.09v1.90h-140.09zM1907.58 1276.10h173.90v1.90h-173.90zM2086.31 1276.10h54.09v1.90h-54.09zM1057.40 1350.05h4.83v1.90h-4.83zM1071.89 1350.05h9.66v1.90h-9.66zM1086.38 1350.05h4.83v1.90h-4.83zM1125.03 1350.05h9.66v1.90h-9.66zM1149.18 1350.05h4.83v1.90h-4.83zM1163.67 1350.05h14.49v1.90h-14.49zM1192.66 1350.05h4.83v1.90h-4.83zM1216.81 1350.05h4.83v1.90h-4.83zM1240.96 1350.05h9.66v1.90h-9.66zM1255.45 1350.05h4.83v1.90h-4.83zM1265.11 1350.05h9.66v1.90h-9.66zM1279.61 1350.05h4.83v1.90h-4.83zM1303.76 1350.05h9.66v1.90h-9.66zM1318.25 1350.05h4.83v1.90h-4.83zM1327.91 1350.05h9.66v1.90h-9.66zM1347.23 1350.05h4.83v1.90h-4.83zM1376.22 1350.05h9.66v1.90h-9.66zM1400.37 1350.05h4.83v1.90h-4.83zM1410.03 1350.05h4.83v1.90h-4.83zM1429.35 1350.05h9.66v1.90h-9.66zM1443.85 1350.05h4.83v1.90h-4.83zM1453.51 1350.05h19.32v1.90h-19.32zM1477.66 1350.05h4.83v1.90h-4.83zM1492.15 1350.05h9.66v1.90h-9.66zM1506.64 1350.05h4.83v1.90h-4.83zM1516.31 1350.05h14.49v1.90h-14.49zM1540.46 1350.05h4.83v1.90h-4.83zM1554.95 1350.05h4.83v1.90h-4.83zM1569.44 1350.05h9.66v1.90h-9.66zM1588.76 1350.05h9.66v1.90h-9.66zM1603.26 1350.05h4.83v1.90h-4.83zM1617.75 1350.05h9.66v1.90h-9.66zM1670.88 1350.05h86.95v1.90h-86.95zM1762.66 1350.05h140.09v1.90h-140.09zM1907.58 1350.05h173.90v1.90h-173.90zM2086.31 1350.05h54.09v1.90h-54.09zM1057.40 1424.00h4.83v1.90h-4.83zM1071.89 1424.00h9.66v1.90h-9.66zM1086.38 1424.00h4.83v1.90h-4.83zM1125.03 1424.00h9.66v1.90h-9.66zM1149.18 1424.00h4.83v1.90h-4.83zM1163.67 1424.00h14.49v1.90h-14.49zM1192.66 1424.00h4.83v1.90h-4.83zM1216.81 1424.00h4.83v1.90h-4.83zM1240.96 1424.00h9.66v1.90h-9.66zM1255.45 1424.00h4.83v1.90h-4.83zM1265.11 1424.00h9.66v1.90h-9.66zM1279.61 1424.00h4.83v1.90h-4.83zM1303.76 1424.00h9.66v1.90h-9.66zM1318.25 1424.00h4.83v1.90h-4.83zM1327.91 1424.00h9.66v1.90h-9.66zM1347.23 1424.00h4.83v1.90h-4.83zM1376.22 1424.00h9.66v1.90h-9.66zM1400.37 1424.00h4.83v1.90h-4.83zM1410.03 1424.00h4.83v1.90h-4.83zM1429.35 1424.00h9.66v1.90h-9.66zM1443.85 1424.00h4.83v1.90h-4.83zM1453.51 1424.00h19.32v1.90h-19.32zM1477.66 1424.00h4.83v1.90h-4.83zM1492.15 1424.00h9.66v1.90h-9.66zM1506.64 1424.00h4.83v1.90h-4.83zM1516.31 1424.00h14.49v1.90h-14.49zM1540.46 1424.00h4.83v1.90h-4.83zM1554.95 1424.00h4.83v1.90h-4.83zM1569.44 1424.00h9.66v1.90h-9.66zM1588.76 1424.00h9.66v1.90h-9.66zM1603.26 1424.00h4.83v1.90h-4.83zM1617.75 1424.00h9.66v1.90h-9.66zM1670.88 1424.00h86.95v1.90h-86.95zM1762.66 1424.00h140.09v1.90h-140.09zM1907.58 1424.00h173.90v1.90h-173.90zM2086.31 1424.00h54.09v1.90h-54.09zM1057.40 1497.95h4.83v1.90h-4.83zM1071.89 1497.95h9.66v1.90h-9.66zM1086.38 1497.95h4.83v1.90h-4.83zM1125.03 1497.95h9.66v1.90h-9.66zM1149.18 1497.95h4.83v1.90h-4.83zM1163.67 1497.95h14.49v1.90h-14.49zM1192.66 1497.95h4.83v1.90h-4.83zM1216.81 1497.95h4.83v1.90h-4.83zM1240.96 1497.95h9.66v1.90h-9.66zM1255.45 1497.95h4.83v1.90h-4.83zM1265.11 1497.95h9.66v1.90h-9.66zM1279.61 1497.95h4.83v1.90h-4.83zM1303.76 1497.95h9.66v1.90h-9.66zM1318.25 1497.95h4.83v1.90h-4.83zM1327.91 1497.95h9.66v1.90h-9.66zM1347.23 1497.95h4.83v1.90h-4.83zM1376.22 1497.95h9.66v1.90h-9.66zM1400.37 1497.95h4.83v1.90h-4.83zM1410.03 1497.95h4.83v1.90h-4.83zM1429.35 1497.95h9.66v1.90h-9.66zM1443.85 1497.95h4.83v1.90h-4.83zM1453.51 1497.95h19.32v1.90h-19.32zM1477.66 1497.95h4.83v1.90h-4.83zM1492.15 1497.95h9.66v1.90h-9.66zM1506.64 1497.95h4.83v1.90h-4.83zM1516.31 1497.95h14.49v1.90h-14.49zM1540.46 1497.95h4.83v1.90h-4.83zM1554.95 1497.95h4.83v1.90h-4.83zM1569.44 1497.95h9.66v1.90h-9.66zM1588.76 1497.95h9.66v1.90h-9.66zM1603.26 1497.95h4.83v1.90h-4.83zM1617.75 1497.95h9.66v1.90h-9.66zM1670.88 1497.95h86.95v1.90h-86.95zM1762.66 1497.95h140.09v1.90h-140.09zM1907.58 1497.95h173.90v1.90h-173.90zM2086.31 1497.95h54.09v1.90h-54.09zM1071.89 1571.90h9.66v1.90h-9.66zM1086.38 1571.90h4.83v1.90h-4.83zM1125.03 1571.90h9.66v1.90h-9.66zM1149.18 1571.90h4.83v1.90h-4.83zM1163.67 1571.90h14.49v1.90h-14.49zM1192.66 1571.90h4.83v1.90h-4.83zM1216.81 1571.90h4.83v1.90h-4.83zM1240.96 1571.90h9.66v1.90h-9.66zM1255.45 1571.90h4.83v1.90h-4.83zM1265.11 1571.90h9.66v1.90h-9.66zM1279.61 1571.90h4.83v1.90h-4.83zM1303.76 1571.90h9.66v1.90h-9.66zM1318.25 1571.90h4.83v1.90h-4.83zM1327.91 1571.90h9.66v1.90h-9.66zM1347.23 1571.90h4.83v1.90h-4.83zM1376.22 1571.90h9.66v1.90h-9.66zM1400.37 1571.90h4.83v1.90h-4.83zM1410.03 1571.90h4.83v1.90h-4.83zM1429.35 1571.90h9.66v1.90h-9.66zM1443.85 1571.90h4.83v1.90h-4.83zM1453.51 1571.90h19.32v1.90h-19.32zM1477.66 1571.90h4.83v1.90h-4.83zM1492.15 1571.90h9.66v1.90h-9.66zM1506.64 1571.90h4.83v1.90h-4.83zM1516.31 1571.90h14.49v1.90h-14.49zM1540.46 1571.90h4.83v1.90h-4.83zM1554.95 1571.90h4.83v1.90h-4.83zM1569.44 1571.90h9.66v1.90h-9.66zM1588.76 1571.90h9.66v1.90h-9.66zM1603.26 1571.90h4.83v1.90h-4.83zM1617.75 1571.90h9.66v1.90h-9.66zM1670.88 1571.90h86.95v1.90h-86.95zM1762.66 1571.90h140.09v1.90h-140.09zM1907.58 1571.90h173.90v1.90h-173.90zM2086.31 1571.90h54.09v1.90h-54.09zM1071.89 1645.85h9.66v1.90h-9.66zM1086.38 1645.85h4.83v1.90h-4.83zM1125.03 1645.85h9.66v1.90h-9.66zM1149.18 1645.85h4.83v1.90h-4.83zM1163.67 1645.85h14.49v1.90h-14.49zM1192.66 1645.85h4.83v1.90h-4.83zM1216.81 1645.85h4.83v1.90h-4.83zM1240.96 1645.85h9.66v1.90h-9.66zM1255.45 1645.85h4.83v1.90h-4.83zM1265.11 1645.85h9.66v1.90h-9.66zM1279.61 1645.85h4.83v1.90h-4.83zM1303.76 1645.85h9.66v1.90h-9.66zM1318.25 1645.85h4.83v1.90h-4.83zM1327.91 1645.85h9.66v1.90h-9.66zM1347.23 1645.85h4.83v1.90h-4.83zM1376.22 1645.85h9.66v1.90h-9.66zM1400.37 1645.85h4.83v1.90h-4.83zM1410.03 1645.85h4.83v1.90h-4.83zM1429.35 1645.85h9.66v1.90h-9.66zM1443.85 1645.85h4.83v1.90h-4.83zM1453.51 1645.85h19.32v1.90h-19.32zM1477.66 1645.85h4.83v1.90h-4.83zM1492.15 1645.85h9.66v1.90h-9.66zM1506.64 1645.85h4.83v1.90h-4.83zM1516.31 1645.85h14.49v1.90h-14.49zM1540.46 1645.85h4.83v1.90h-4.83zM1554.95 1645.85h4.83v1.90h-4.83zM1569.44 1645.85h9.66v1.90h-9.66zM1588.76 1645.85h9.66v1.90h-9.66zM1603.26 1645.85h4.83v1.90h-4.83zM1617.75 1645.85h9.66v1.90h-9.66zM1670.88 1645.85h86.95v1.90h-86.95zM1762.66 1645.85h140.09v1.90h-140.09zM1907.58 1645.85h173.90v1.90h-173.90zM2086.31 1645.85h54.09v1.90h-54.09zM1057.40 1719.80h4.83v1.90h-4.83zM1071.89 1719.80h9.66v1.90h-9.66zM1086.38 1719.80h4.83v1.90h-4.83zM1125.03 1719.80h9.66v1.90h-9.66zM1149.18 1719.80h4.83v1.90h-4.83zM1163.67 1719.80h14.49v1.90h-14.49zM1192.66 1719.80h4.83v1.90h-4.83zM1216.81 1719.80h4.83v1.90h-4.83zM1240.96 1719.80h9.66v1.90h-9.66zM1255.45 1719.80h4.83v1.90h-4.83zM1265.11 1719.80h9.66v1.90h-9.66zM1279.61 1719.80h4.83v1.90h-4.83zM1303.76 1719.80h9.66v1.90h-9.66zM1318.25 1719.80h4.83v1.90h-4.83zM1327.91 1719.80h9.66v1.90h-9.66zM1347.23 1719.80h4.83v1.90h-4.83zM1376.22 1719.80h9.66v1.90h-9.66zM1400.37 1719.80h4.83v1.90h-4.83zM1410.03 1719.80h4.83v1.90h-4.83zM1429.35 1719.80h9.66v1.90h-9.66zM1443.85 1719.80h4.83v1.90h-4.83zM1453.51 1719.80h19.32v1.90h-19.32zM1477.66 1719.80h4.83v1.90h-4.83zM1492.15 1719.80h9.66v1.90h-9.66zM1506.64 1719.80h4.83v1.90h-4.83zM1516.31 1719.80h14.49v1.90h-14.49zM1540.46 1719.80h4.83v1.90h-4.83zM1554.95 1719.80h4.83v1.90h-4.83zM1569.44 1719.80h9.66v1.90h-9.66zM1588.76 1719.80h9.66v1.90h-9.66zM1603.26 1719.80h4.83v1.90h-4.83zM1617.75 1719.80h9.66v1.90h-9.66zM1670.88 1719.80h86.95v1.90h-86.95zM1762.66 1719.80h140.09v1.90h-140.09zM1907.58 1719.80h173.90v1.90h-173.90zM2086.31 1719.80h54.09v1.90h-54.09zM1057.40 1793.75h4.83v1.90h-4.83zM1071.89 1793.75h9.66v1.90h-9.66zM1086.38 1793.75h4.83v1.90h-4.83zM1125.03 1793.75h9.66v1.90h-9.66zM1149.18 1793.75h4.83v1.90h-4.83zM1163.67 1793.75h14.49v1.90h-14.49zM1192.66 1793.75h4.83v1.90h-4.83zM1216.81 1793.75h4.83v1.90h-4.83zM1240.96 1793.75h9.66v1.90h-9.66zM1255.45 1793.75h4.83v1.90h-4.83zM1265.11 1793.75h9.66v1.90h-9.66zM1279.61 1793.75h4.83v1.90h-4.83zM1303.76 1793.75h9.66v1.90h-9.66zM1318.25 1793.75h4.83v1.90h-4.83zM1327.91 1793.75h9.66v1.90h-9.66zM1347.23 1793.75h4.83v1.90h-4.83zM1376.22 1793.75h9.66v1.90h-9.66zM1400.37 1793.75h4.83v1.90h-4.83zM1410.03 1793.75h4.83v1.90h-4.83zM1429.35 1793.75h9.66v1.90h-9.66zM1443.85 1793.75h4.83v1.90h-4.83zM1453.51 1793.75h19.32v1.90h-19.32zM1477.66 1793.75h4.83v1.90h-4.83zM1492.15 1793.75h9.66v1.90h-9.66zM1506.64 1793.75h4.83v1.90h-4.83zM1516.31 1793.75h14.49v1.90h-14.49zM1540.46 1793.75h4.83v1.90h-4.83zM1554.95 1793.75h4.83v1.90h-4.83zM1569.44 1793.75h9.66v1.90h-9.66zM1588.76 1793.75h9.66v1.90h-9.66zM1603.26 1793.75h4.83v1.90h-4.83zM1617.75 1793.75h9.66v1.90h-9.66zM1670.88 1793.75h86.95v1.90h-86.95zM1762.66 1793.75h140.09v1.90h-140.09zM1907.58 1793.75h173.90v1.90h-173.90zM2086.31 1793.75h54.09v1.90h-54.09zM1057.40 1867.70h4.83v1.90h-4.83zM1071.89 1867.70h9.66v1.90h-9.66zM1086.38 1867.70h4.83v1.90h-4.83zM1125.03 1867.70h9.66v1.90h-9.66zM1149.18 1867.70h4.83v1.90h-4.83zM1163.67 1867.70h14.49v1.90h-14.49zM1192.66 1867.70h4.83v1.90h-4.83zM1216.81 1867.70h4.83v1.90h-4.83zM1240.96 1867.70h9.66v1.90h-9.66zM1255.45 1867.70h4.83v1.90h-4.83zM1265.11 1867.70h9.66v1.90h-9.66zM1279.61 1867.70h4.83v1.90h-4.83zM1303.76 1867.70h9.66v1.90h-9.66zM1318.25 1867.70h4.83v1.90h-4.83zM1327.91 1867.70h9.66v1.90h-9.66zM1347.23 1867.70h4.83v1.90h-4.83zM1376.22 1867.70h9.66v1.90h-9.66zM1400.37 1867.70h4.83v1.90h-4.83zM1410.03 1867.70h4.83v1.90h-4.83zM1429.35 1867.70h9.66v1.90h-9.66zM1443.85 1867.70h4.83v1.90h-4.83zM1453.51 1867.70h19.32v1.90h-19.32zM1477.66 1867.70h4.83v1.90h-4.83zM1492.15 1867.70h9.66v1.90h-9.66zM1506.64 1867.70h4.83v1.90h-4.83zM1516.31 1867.70h14.49v1.90h-14.49zM1540.46 1867.70h4.83v1.90h-4.83zM1554.95 1867.70h4.83v1.90h-4.83zM1569.44 1867.70h9.66v1.90h-9.66zM1588.76 1867.70h9.66v1.90h-9.66zM1603.26 1867.70h4.83v1.90h-4.83zM1617.75 1867.70h9.66v1.90h-9.66zM1670.88 1867.70h86.95v1.90h-86.95zM1762.66 1867.70h140.09v1.90h-140.09zM1907.58 1867.70h173.90v1.90h-173.90zM2086.31 1867.70h54.09v1.90h-54.09zM1057.40 1941.65h4.83v1.90h-4.83zM1071.89 1941.65h9.66v1.90h-9.66zM1086.38 1941.65h4.83v1.90h-4.83zM1125.03 1941.65h9.66v1.90h-9.66zM1149.18 1941.65h4.83v1.90h-4.83zM1163.67 1941.65h14.49v1.90h-14.49zM1192.66 1941.65h4.83v1.90h-4.83zM1216.81 1941.65h4.83v1.90h-4.83zM1240.96 1941.65h9.66v1.90h-9.66zM1255.45 1941.65h4.83v1.90h-4.83zM1265.11 1941.65h9.66v1.90h-9.66zM1279.61 1941.65h4.83v1.90h-4.83zM1303.76 1941.65h9.66v1.90h-9.66zM1318.25 1941.65h4.83v1.90h-4.83zM1327.91 1941.65h9.66v1.90h-9.66zM1347.23 1941.65h4.83v1.90h-4.83zM1376.22 1941.65h9.66v1.90h-9.66zM1400.37 1941.65h4.83v1.90h-4.83zM1410.03 1941.65h4.83v1.90h-4.83zM1429.35 1941.65h9.66v1.90h-9.66zM1443.85 1941.65h4.83v1.90h-4.83zM1453.51 1941.65h19.32v1.90h-19.32zM1477.66 1941.65h4.83v1.90h-4.83zM1492.15 1941.65h9.66v1.90h-9.66zM1506.64 1941.65h4.83v1.90h-4.83zM1516.31 1941.65h14.49v1.90h-14.49zM1540.46 1941.65h4.83v1.90h-4.83zM1554.95 1941.65h4.83v1.90h-4.83zM1569.44 1941.65h9.66v1.90h-9.66zM1588.76 1941.65h9.66v1.90h-9.66zM1603.26 1941.65h4.83v1.90h-4.83zM1617.75 1941.65h9.66v1.90h-9.66zM1670.88 1941.65h86.95v1.90h-86.95zM1762.66 1941.65h140.09v1.90h-140.09zM1907.58 1941.65h173.90v1.90h-173.90zM2086.31 1941.65h54.09v1.90h-54.09zM1057.40 2015.60h4.83v1.90h-4.83zM1071.89 2015.60h9.66v1.90h-9.66zM1086.38 2015.60h4.83v1.90h-4.83zM1125.03 2015.60h9.66v1.90h-9.66zM1149.18 2015.60h4.83v1.90h-4.83zM1163.67 2015.60h14.49v1.90h-14.49zM1192.66 2015.60h4.83v1.90h-4.83zM1216.81 2015.60h4.83v1.90h-4.83zM1240.96 2015.60h9.66v1.90h-9.66zM1255.45 2015.60h4.83v1.90h-4.83zM1265.11 2015.60h9.66v1.90h-9.66zM1279.61 2015.60h4.83v1.90h-4.83zM1303.76 2015.60h9.66v1.90h-9.66zM1318.25 2015.60h4.83v1.90h-4.83zM1327.91 2015.60h9.66v1.90h-9.66zM1347.23 2015.60h4.83v1.90h-4.83zM1376.22 2015.60h9.66v1.90h-9.66zM1400.37 2015.60h4.83v1.90h-4.83zM1410.03 2015.60h4.83v1.90h-4.83zM1429.35 2015.60h9.66v1.90h-9.66zM1443.85 2015.60h4.83v1.90h-4.83zM1453.51 2015.60h19.32v1.90h-19.32zM1477.66 2015.60h4.83v1.90h-4.83zM1492.15 2015.60h9.66v1.90h-9.66zM1506.64 2015.60h4.83v1.90h-4.83zM1516.31 2015.60h14.49v1.90h-14.49zM1540.46 2015.60h4.83v1.90h-4.83zM1554.95 2015.60h4.83v1.90h-4.83zM1569.44 2015.60h9.66v1.90h-9.66zM1588.76 2015.60h9.66v1.90h-9.66zM1603.26 2015.60h4.83v1.90h-4.83zM1617.75 2015.60h9.66v1.90h-9.66zM1670.88 2015.60h86.95v1.90h-86.95zM1762.66 2015.60h140.09v1.90h-140.09zM1907.58 2015.60h173.90v1.90h-173.90zM2086.31 2015.60h54.09v1.90h-54.09z"/>
<path fill="#5560b2" d="M1062.23 1202.15h4.83v1.90h-4.83zM1187.83 1202.15h4.83v1.90h-4.83zM1390.71 1202.15h4.83v1.90h-4.83zM1550.12 1202.15h4.83v1.90h-4.83zM1559.78 1202.15h4.83v1.90h-4.83zM1062.23 1276.10h4.83v1.90h-4.83zM1187.83 1276.10h4.83v1.90h-4.83zM1390.71 1276.10h4.83v1.90h-4.83zM1550.12 1276.10h4.83v1.90h-4.83zM1559.78 1276.10h4.83v1.90h-4.83zM1062.23 1350.05h4.83v1.90h-4.83zM1187.83 1350.05h4.83v1.90h-4.83zM1390.71 1350.05h4.83v1.90h-4.83zM1550.12 1350.05h4.83v1.90h-4.83zM1559.78 1350.05h4.83v1.90h-4.83zM1062.23 1424.00h4.83v1.90h-4.83zM1187.83 1424.00h4.83v1.90h-4.83zM1390.71 1424.00h4.83v1.90h-4.83zM1550.12 1424.00h4.83v1.90h-4.83zM1559.78 1424.00h4.83v1.90h-4.83zM1062.23 1497.95h4.83v1.90h-4.83zM1187.83 1497.95h4.83v1.90h-4.83zM1390.71 1497.95h4.83v1.90h-4.83zM1550.12 1497.95h4.83v1.90h-4.83zM1559.78 1497.95h4.83v1.90h-4.83zM1187.83 1571.90h4.83v1.90h-4.83zM1390.71 1571.90h4.83v1.90h-4.83zM1550.12 1571.90h4.83v1.90h-4.83zM1559.78 1571.90h4.83v1.90h-4.83zM1187.83 1645.85h4.83v1.90h-4.83zM1390.71 1645.85h4.83v1.90h-4.83zM1550.12 1645.85h4.83v1.90h-4.83zM1559.78 1645.85h4.83v1.90h-4.83zM1062.23 1719.80h4.83v1.90h-4.83zM1187.83 1719.80h4.83v1.90h-4.83zM1390.71 1719.80h4.83v1.90h-4.83zM1550.12 1719.80h4.83v1.90h-4.83zM1559.78 1719.80h4.83v1.90h-4.83zM1062.23 1793.75h4.83v1.90h-4.83zM1187.83 1793.75h4.83v1.90h-4.83zM1390.71 1793.75h4.83v1.90h-4.83zM1550.12 1793.75h4.83v1.90h-4.83zM1559.78 1793.75h4.83v1.90h-4.83zM1062.23 1867.70h4.83v1.90h-4.83zM1187.83 1867.70h4.83v1.90h-4.83zM1390.71 1867.70h4.83v1.90h-4.83zM1550.12 1867.70h4.83v1.90h-4.83zM1559.78 1867.70h4.83v1.90h-4.83zM1062.23 1941.65h4.83v1.90h-4.83zM1187.83 1941.65h4.83v1.90h-4.83zM1390.71 1941.65h4.83v1.90h-4.83zM1550.12 1941.65h4.83v1.90h-4.83zM1559.78 1941.65h4.83v1.90h-4.83zM1062.23 2015.60h4.83v1.90h-4.83zM1187.83 2015.60h4.83v1.90h-4.83zM1390.71 2015.60h4.83v1.90h-4.83zM1550.12 2015.60h4.83v1.90h-4.83zM1559.78 2015.60h4.83v1.90h-4.83z"/>
<path fill="#68b3d6" d="M1067.06 1202.15h4.83v1.90h-4.83zM1091.21 1202.15h4.83v1.90h-4.83zM1144.35 1202.15h4.83v1.90h-4.83zM1337.57 1202.15h4.83v1.90h-4.83zM1564.61 1202.15h4.83v1.90h-4.83zM1211.98 1276.10h4.83v1.90h-4.83zM1646.73 1276.10h4.83v1.90h-4.83zM1105.71 1350.05h4.83v1.90h-4.83zM1337.57 1350.05h4.83v1.90h-4.83zM1424.52 1350.05h4.83v1.90h-4.83zM1081.55 1424.00h4.83v1.90h-4.83zM1120.20 1424.00h4.83v1.90h-4.83zM1545.29 1424.00h4.83v1.90h-4.83zM1081.55 1497.95h4.83v1.90h-4.83zM1134.69 1497.95h4.83v1.90h-4.83zM1274.78 1497.95h4.83v1.90h-4.83zM1424.52 1497.95h4.83v1.90h-4.83zM1535.63 1497.95h4.83v1.90h-4.83zM1564.61 1497.95h4.83v1.90h-4.83zM1144.35 1571.90h4.83v1.90h-4.83zM1424.52 1571.90h4.83v1.90h-4.83zM1579.10 1571.90h4.83v1.90h-4.83zM1651.56 1571.90h4.83v1.90h-4.83zM1337.57 1645.85h4.83v1.90h-4.83zM1134.69 1719.80h4.83v1.90h-4.83zM1439.02 1719.80h4.83v1.90h-4.83zM1579.10 1719.80h4.83v1.90h-4.83zM1651.56 1719.80h4.83v1.90h-4.83zM1105.71 1793.75h4.83v1.90h-4.83zM1424.52 1793.75h4.83v1.90h-4.83zM1651.56 1793.75h4.83v1.90h-4.83zM1651.56 1867.70h4.83v1.90h-4.83zM1091.21 1941.65h4.83v1.90h-4.83zM1105.71 1941.65h4.83v1.90h-4.83zM1439.02 1941.65h4.83v1.90h-4.83zM1646.73 1941.65h9.66v1.90h-9.66zM1144.35 2015.60h4.83v1.90h-4.83z"/>
<path fill="#65c7bf" d="M1081.55 1202.15h4.83v1.90h-4.83zM1158.84 1202.15h4.83v1.90h-4.83zM1530.80 1202.15h9.66v1.90h-9.66zM1081.55 1276.10h4.83v1.90h-4.83zM1134.69 1276.10h4.83v1.90h-4.83zM1158.84 1276.10h4.83v1.90h-4.83zM1178.16 1276.10h4.83v1.90h-4.83zM1221.64 1276.10h9.66v1.90h-9.66zM1236.13 1276.10h4.83v1.90h-4.83zM1366.56 1276.10h4.83v1.90h-4.83zM1385.88 1276.10h4.83v1.90h-4.83zM1530.80 1276.10h4.83v1.90h-4.83zM1202.32 1350.05h9.66v1.90h-9.66zM1226.47 1350.05h4.83v1.90h-4.83zM1385.88 1350.05h4.83v1.90h-4.83zM1632.24 1350.05h9.66v1.90h-9.66zM1091.21 1424.00h4.83v1.90h-4.83zM1134.69 1424.00h4.83v1.90h-4.83zM1178.16 1424.00h4.83v1.90h-4.83zM1202.32 1424.00h14.49v1.90h-14.49zM1294.10 1424.00h4.83v1.90h-4.83zM1366.56 1424.00h4.83v1.90h-4.83zM1385.88 1424.00h4.83v1.90h-4.83zM1627.41 1424.00h4.83v1.90h-4.83zM1096.04 1497.95h4.83v1.90h-4.83zM1158.84 1497.95h4.83v1.90h-4.83zM1211.98 1497.95h4.83v1.90h-4.83zM1221.64 1497.95h9.66v1.90h-9.66zM1342.40 1497.95h4.83v1.90h-4.83zM1366.56 1497.95h4.83v1.90h-4.83zM1081.55 1571.90h4.83v1.90h-4.83zM1091.21 1571.90h4.83v1.90h-4.83zM1158.84 1571.90h4.83v1.90h-4.83zM1627.41 1571.90h4.83v1.90h-4.83zM1091.21 1645.85h4.83v1.90h-4.83zM1158.84 1645.85h4.83v1.90h-4.83zM1385.88 1645.85h4.83v1.90h-4.83zM1530.80 1645.85h4.83v1.90h-4.83zM1632.24 1645.85h4.83v1.90h-4.83zM1091.21 1719.80h9.66v1.90h-9.66zM1211.98 1719.80h4.83v1.90h-4.83zM1221.64 1719.80h9.66v1.90h-9.66zM1530.80 1719.80h4.83v1.90h-4.83zM1081.55 1793.75h4.83v1.90h-4.83zM1134.69 1793.75h4.83v1.90h-4.83zM1366.56 1793.75h4.83v1.90h-4.83zM1627.41 1793.75h4.83v1.90h-4.83zM1637.07 1793.75h4.83v1.90h-4.83zM1134.69 1867.70h4.83v1.90h-4.83zM1202.32 1867.70h9.66v1.90h-9.66zM1226.47 1867.70h4.83v1.90h-4.83zM1250.62 1867.70h4.83v1.90h-4.83zM1342.40 1867.70h4.83v1.90h-4.83zM1366.56 1867.70h4.83v1.90h-4.83zM1178.16 1941.65h4.83v1.90h-4.83zM1202.32 1941.65h9.66v1.90h-9.66zM1385.88 1941.65h4.83v1.90h-4.83zM1530.80 1941.65h4.83v1.90h-4.83zM1632.24 1941.65h9.66v1.90h-9.66zM1081.55 2015.60h4.83v1.90h-4.83zM1236.13 2015.60h4.83v1.90h-4.83zM1337.57 2015.60h4.83v1.90h-4.83zM1385.88 2015.60h4.83v1.90h-4.83zM1627.41 2015.60h4.83v1.90h-4.83zM1637.07 2015.60h4.83v1.90h-4.83z"/>
<path fill="#74cab2" d="M1096.04 1202.15h4.83v1.90h-4.83zM1178.16 1202.15h4.83v1.90h-4.83zM1211.98 1202.15h4.83v1.90h-4.83zM1250.62 1202.15h4.83v1.90h-4.83zM1294.10 1202.15h4.83v1.90h-4.83zM1627.41 1202.15h9.66v1.90h-9.66zM1637.07 1276.10h4.83v1.90h-4.83zM1158.84 1350.05h4.83v1.90h-4.83zM1236.13 1350.05h4.83v1.90h-4.83zM1627.41 1350.05h4.83v1.90h-4.83zM1158.84 1424.00h4.83v1.90h-4.83zM1207.15 1497.95h4.83v1.90h-4.83zM1236.13 1497.95h4.83v1.90h-4.83zM1294.10 1497.95h4.83v1.90h-4.83zM1637.07 1497.95h4.83v1.90h-4.83zM1134.69 1571.90h4.83v1.90h-4.83zM1207.15 1571.90h9.66v1.90h-9.66zM1236.13 1571.90h4.83v1.90h-4.83zM1342.40 1571.90h4.83v1.90h-4.83zM1637.07 1571.90h4.83v1.90h-4.83zM1057.40 1645.85h9.66v1.90h-9.66zM1096.04 1645.85h4.83v1.90h-4.83zM1221.64 1645.85h4.83v1.90h-4.83zM1294.10 1645.85h4.83v1.90h-4.83zM1366.56 1645.85h4.83v1.90h-4.83zM1637.07 1645.85h4.83v1.90h-4.83zM1081.55 1719.80h4.83v1.90h-4.83zM1294.10 1719.80h4.83v1.90h-4.83zM1342.40 1719.80h4.83v1.90h-4.83zM1535.63 1719.80h4.83v1.90h-4.83zM1627.41 1719.80h4.83v1.90h-4.83zM1207.15 1793.75h4.83v1.90h-4.83zM1221.64 1793.75h9.66v1.90h-9.66zM1250.62 1793.75h4.83v1.90h-4.83zM1096.04 1867.70h4.83v1.90h-4.83zM1158.84 1867.70h4.83v1.90h-4.83zM1178.16 1867.70h4.83v1.90h-4.83zM1221.64 1867.70h4.83v1.90h-4.83zM1294.10 1867.70h4.83v1.90h-4.83zM1385.88 1867.70h4.83v1.90h-4.83zM1627.41 1867.70h4.83v1.90h-4.83zM1134.69 1941.65h4.83v1.90h-4.83zM1158.84 1941.65h4.83v1.90h-4.83zM1342.40 1941.65h4.83v1.90h-4.83zM1091.21 2015.60h4.83v1.90h-4.83zM1202.32 2015.60h9.66v1.90h-9.66zM1221.64 2015.60h4.83v1.90h-4.83z"/>
<path fill="#5e7fca" d="M1100.88 1202.15h4.83v1.90h-4.83zM1115.37 1202.15h4.83v1.90h-4.83zM1154.01 1202.15h4.83v1.90h-4.83zM1260.28 1202.15h4.83v1.90h-4.83zM1356.90 1202.15h4.83v1.90h-4.83zM1501.81 1202.15h4.83v1.90h-4.83zM1598.43 1202.15h4.83v1.90h-4.83zM1641.90 1202.15h4.83v1.90h-4.83zM1656.39 1202.15h4.83v1.90h-4.83zM1115.37 1276.10h4.83v1.90h-4.83zM1183.00 1276.10h4.83v1.90h-4.83zM1284.44 1276.10h4.83v1.90h-4.83zM1313.42 1276.10h4.83v1.90h-4.83zM1419.69 1276.10h4.83v1.90h-4.83zM1501.81 1276.10h4.83v1.90h-4.83zM1656.39 1276.10h9.66v1.90h-9.66zM1120.20 1350.05h4.83v1.90h-4.83zM1183.00 1350.05h4.83v1.90h-4.83zM1289.27 1350.05h4.83v1.90h-4.83zM1419.69 1350.05h4.83v1.90h-4.83zM1482.49 1350.05h4.83v1.90h-4.83zM1598.43 1350.05h4.83v1.90h-4.83zM1115.37 1424.00h4.83v1.90h-4.83zM1284.44 1424.00h4.83v1.90h-4.83zM1598.43 1424.00h4.83v1.90h-4.83zM1661.22 1424.00h4.83v1.90h-4.83zM1472.83 1497.95h4.83v1.90h-4.83zM1579.10 1497.95h4.83v1.90h-4.83zM1661.22 1497.95h9.66v1.90h-9.66zM1284.44 1571.90h4.83v1.90h-4.83zM1414.86 1571.90h4.83v1.90h-4.83zM1482.49 1571.90h4.83v1.90h-4.83zM1641.90 1571.90h4.83v1.90h-4.83zM1656.39 1571.90h9.66v1.90h-9.66zM1231.30 1645.85h4.83v1.90h-4.83zM1284.44 1645.85h4.83v1.90h-4.83zM1313.42 1645.85h4.83v1.90h-4.83zM1419.69 1645.85h4.83v1.90h-4.83zM1482.49 1645.85h4.83v1.90h-4.83zM1583.93 1645.85h4.83v1.90h-4.83zM1656.39 1645.85h4.83v1.90h-4.83zM1115.37 1719.80h4.83v1.90h-4.83zM1313.42 1719.80h4.83v1.90h-4.83zM1661.22 1719.80h4.83v1.90h-4.83zM1115.37 1793.75h4.83v1.90h-4.83zM1598.43 1793.75h4.83v1.90h-4.83zM1641.90 1793.75h4.83v1.90h-4.83zM1661.22 1793.75h4.83v1.90h-4.83zM1100.88 1867.70h4.83v1.90h-4.83zM1183.00 1867.70h4.83v1.90h-4.83zM1260.28 1867.70h4.83v1.90h-4.83zM1289.27 1867.70h4.83v1.90h-4.83zM1313.42 1867.70h4.83v1.90h-4.83zM1472.83 1867.70h4.83v1.90h-4.83zM1501.81 1867.70h4.83v1.90h-4.83zM1598.43 1867.70h4.83v1.90h-4.83zM1656.39 1867.70h4.83v1.90h-4.83zM1154.01 1941.65h4.83v1.90h-4.83zM1231.30 1941.65h4.83v1.90h-4.83zM1284.44 1941.65h4.83v1.90h-4.83zM1313.42 1941.65h4.83v1.90h-4.83zM1501.81 1941.65h4.83v1.90h-4.83zM1641.90 1941.65h4.83v1.90h-4.83zM1661.22 1941.65h4.83v1.90h-4.83zM1100.88 2015.60h4.83v1.90h-4.83zM1154.01 2015.60h4.83v1.90h-4.83zM1231.30 2015.60h4.83v1.90h-4.83zM1289.27 2015.60h4.83v1.90h-4.83zM1472.83 2015.60h4.83v1.90h-4.83zM1656.39 2015.60h9.66v1.90h-9.66z"/>
<path fill="#67a9d8" d="M1105.71 1202.15h4.83v1.90h-4.83zM1414.86 1202.15h9.66v1.90h-9.66zM1439.02 1202.15h4.83v1.90h-4.83zM1579.10 1202.15h4.83v1.90h-4.83zM1651.56 1202.15h4.83v1.90h-4.83zM1139.52 1276.10h9.66v1.90h-9.66zM1405.20 1276.10h4.83v1.90h-4.83zM1651.56 1276.10h4.83v1.90h-4.83zM1274.78 1350.05h4.83v1.90h-4.83zM1356.90 1350.05h4.83v1.90h-4.83zM1439.02 1350.05h4.83v1.90h-4.83zM1651.56 1350.05h4.83v1.90h-4.83zM1139.52 1424.00h9.66v1.90h-9.66zM1424.52 1424.00h4.83v1.90h-4.83zM1564.61 1424.00h4.83v1.90h-4.83zM1105.71 1497.95h4.83v1.90h-4.83zM1144.35 1497.95h4.83v1.90h-4.83zM1385.88 1571.90h4.83v1.90h-4.83zM1439.02 1571.90h4.83v1.90h-4.83zM1646.73 1571.90h4.83v1.90h-4.83zM1067.06 1645.85h4.83v1.90h-4.83zM1081.55 1645.85h4.83v1.90h-4.83zM1144.35 1645.85h4.83v1.90h-4.83zM1154.01 1645.85h4.83v1.90h-4.83zM1197.49 1645.85h4.83v1.90h-4.83zM1535.63 1645.85h4.83v1.90h-4.83zM1564.61 1645.85h4.83v1.90h-4.83zM1646.73 1645.85h9.66v1.90h-9.66zM1356.90 1719.80h4.83v1.90h-4.83zM1545.29 1719.80h4.83v1.90h-4.83zM1100.88 1793.75h4.83v1.90h-4.83zM1274.78 1793.75h4.83v1.90h-4.83zM1439.02 1793.75h4.83v1.90h-4.83zM1105.71 1867.70h4.83v1.90h-4.83zM1274.78 1867.70h4.83v1.90h-4.83zM1356.90 1867.70h4.83v1.90h-4.83zM1414.86 1867.70h9.66v1.90h-9.66zM1274.78 1941.65h4.83v1.90h-4.83zM1105.71 2015.60h4.83v1.90h-4.83zM1139.52 2015.60h4.83v1.90h-4.83zM1260.28 2015.60h4.83v1.90h-4.83zM1424.52 2015.60h4.83v1.90h-4.83zM1579.10 2015.60h4.83v1.90h-4.83zM1651.56 2015.60h4.83v1.90h-4.83z"/>
<path fill="#586aba" d="M1110.54 1202.15h4.83v1.90h-4.83zM1323.08 1202.15h4.83v1.90h-4.83zM1352.07 1202.15h4.83v1.90h-4.83zM1361.73 1202.15h4.83v1.90h-4.83zM1371.39 1202.15h4.83v1.90h-4.83zM1395.54 1202.15h4.83v1.90h-4.83zM1448.68 1202.15h4.83v1.90h-4.83zM1487.32 1202.15h4.83v1.90h-4.83zM1511.47 1202.15h4.83v1.90h-4.83zM1608.09 1202.15h4.83v1.90h-4.83zM2081.48 1202.15h4.83v1.90h-4.83zM1110.54 1276.10h4.83v1.90h-4.83zM1323.08 1276.10h4.83v1.90h-4.83zM1352.07 1276.10h4.83v1.90h-4.83zM1361.73 1276.10h4.83v1.90h-4.83zM1371.39 1276.10h4.83v1.90h-4.83zM1395.54 1276.10h4.83v1.90h-4.83zM1448.68 1276.10h4.83v1.90h-4.83zM1487.32 1276.10h4.83v1.90h-4.83zM1511.47 1276.10h4.83v1.90h-4.83zM1608.09 1276.10h4.83v1.90h-4.83zM2081.48 1276.10h4.83v1.90h-4.83zM1110.54 1350.05h4.83v1.90h-4.83zM1323.08 1350.05h4.83v1.90h-4.83zM1352.07 1350.05h4.83v1.90h-4.83zM1361.73 1350.05h4.83v1.90h-4.83zM1371.39 1350.05h4.83v1.90h-4.83zM1395.54 1350.05h4.83v1.90h-4.83zM1448.68 1350.05h4.83v1.90h-4.83zM1487.32 1350.05h4.83v1.90h-4.83zM1511.47 1350.05h4.83v1.90h-4.83zM1608.09 1350.05h4.83v1.90h-4.83zM2081.48 1350.05h4.83v1.90h-4.83zM1110.54 1424.00h4.83v1.90h-4.83zM1323.08 1424.00h4.83v1.90h-4.83zM1352.07 1424.00h4.83v1.90h-4.83zM1361.73 1424.00h4.83v1.90h-4.83zM1371.39 1424.00h4.83v1.90h-4.83zM1395.54 1424.00h4.83v1.90h-4.83zM1448.68 1424.00h4.83v1.90h-4.83zM1487.32 1424.00h4.83v1.90h-4.83zM1511.47 1424.00h4.83v1.90h-4.83zM1608.09 1424.00h4.83v1.90h-4.83zM2081.48 1424.00h4.83v1.90h-4.83zM1110.54 1497.95h4.83v1.90h-4.83zM1323.08 1497.95h4.83v1.90h-4.83zM1352.07 1497.95h4.83v1.90h-4.83zM1361.73 1497.95h4.83v1.90h-4.83zM1371.39 1497.95h4.83v1.90h-4.83zM1395.54 1497.95h4.83v1.90h-4.83zM1448.68 1497.95h4.83v1.90h-4.83zM1487.32 1497.95h4.83v1.90h-4.83zM1511.47 1497.95h4.83v1.90h-4.83zM1608.09 1497.95h4.83v1.90h-4.83zM2081.48 1497.95h4.83v1.90h-4.83zM1110.54 1571.90h4.83v1.90h-4.83zM1323.08 1571.90h4.83v1.90h-4.83zM1352.07 1571.90h4.83v1.90h-4.83zM1361.73 1571.90h4.83v1.90h-4.83zM1371.39 1571.90h4.83v1.90h-4.83zM1395.54 1571.90h4.83v1.90h-4.83zM1448.68 1571.90h4.83v1.90h-4.83zM1487.32 1571.90h4.83v1.90h-4.83zM1511.47 1571.90h4.83v1.90h-4.83zM1608.09 1571.90h4.83v1.90h-4.83zM2081.48 1571.90h4.83v1.90h-4.83zM1110.54 1645.85h4.83v1.90h-4.83zM1323.08 1645.85h4.83v1.90h-4.83zM1352.07 1645.85h4.83v1.90h-4.83zM1361.73 1645.85h4.83v1.90h-4.83zM1371.39 1645.85h4.83v1.90h-4.83zM1395.54 1645.85h4.83v1.90h-4.83zM1448.68 1645.85h4.83v1.90h-4.83zM1487.32 1645.85h4.83v1.90h-4.83zM1511.47 1645.85h4.83v1.90h-4.83zM1608.09 1645.85h4.83v1.90h-4.83zM2081.48 1645.85h4.83v1.90h-4.83zM1110.54 1719.80h4.83v1.90h-4.83zM1323.08 1719.80h4.83v1.90h-4.83zM1352.07 1719.80h4.83v1.90h-4.83zM1361.73 1719.80h4.83v1.90h-4.83zM1371.39 1719.80h4.83v1.90h-4.83zM1395.54 1719.80h4.83v1.90h-4.83zM1448.68 1719.80h4.83v1.90h-4.83zM1487.32 1719.80h4.83v1.90h-4.83zM1511.47 1719.80h4.83v1.90h-4.83zM1608.09 1719.80h4.83v1.90h-4.83zM2081.48 1719.80h4.83v1.90h-4.83zM1110.54 1793.75h4.83v1.90h-4.83zM1323.08 1793.75h4.83v1.90h-4.83zM1352.07 1793.75h4.83v1.90h-4.83zM1361.73 1793.75h4.83v1.90h-4.83zM1371.39 1793.75h4.83v1.90h-4.83zM1395.54 1793.75h4.83v1.90h-4.83zM1448.68 1793.75h4.83v1.90h-4.83zM1487.32 1793.75h4.83v1.90h-4.83zM1511.47 1793.75h4.83v1.90h-4.83zM1608.09 1793.75h4.83v1.90h-4.83zM2081.48 1793.75h4.83v1.90h-4.83zM1110.54 1867.70h4.83v1.90h-4.83zM1323.08 1867.70h4.83v1.90h-4.83zM1352.07 1867.70h4.83v1.90h-4.83zM1361.73 1867.70h4.83v1.90h-4.83zM1371.39 1867.70h4.83v1.90h-4.83zM1395.54 1867.70h4.83v1.90h-4.83zM1448.68 1867.70h4.83v1.90h-4.83zM1487.32 1867.70h4.83v1.90h-4.83zM1511.47 1867.70h4.83v1.90h-4.83zM1608.09 1867.70h4.83v1.90h-4.83zM2081.48 1867.70h4.83v1.90h-4.83zM1110.54 1941.65h4.83v1.90h-4.83zM1323.08 1941.65h4.83v1.90h-4.83zM1352.07 1941.65h4.83v1.90h-4.83zM1361.73 1941.65h4.83v1.90h-4.83zM1371.39 1941.65h4.83v1.90h-4.83zM1395.54 1941.65h4.83v1.90h-4.83zM1448.68 1941.65h4.83v1.90h-4.83zM1487.32 1941.65h4.83v1.90h-4.83zM1511.47 1941.65h4.83v1.90h-4.83zM1608.09 1941.65h4.83v1.90h-4.83zM2081.48 1941.65h4.83v1.90h-4.83zM1110.54 2015.60h4.83v1.90h-4.83zM1323.08 2015.60h4.83v1.90h-4.83zM1352.07 2015.60h4.83v1.90h-4.83zM1361.73 2015.60h4.83v1.90h-4.83zM1371.39 2015.60h4.83v1.90h-4.83zM1395.54 2015.60h4.83v1.90h-4.83zM1448.68 2015.60h4.83v1.90h-4.83zM1487.32 2015.60h4.83v1.90h-4.83zM1511.47 2015.60h4.83v1.90h-4.83zM1608.09 2015.60h4.83v1.90h-4.83zM2081.48 2015.60h4.83v1.90h-4.83z"/>
<path fill="#608cd3" d="M1120.20 1202.15h4.83v1.90h-4.83zM1139.52 1202.15h4.83v1.90h-4.83zM1183.00 1202.15h4.83v1.90h-4.83zM1231.30 1202.15h4.83v1.90h-4.83zM1284.44 1202.15h4.83v1.90h-4.83zM1313.42 1202.15h4.83v1.90h-4.83zM1424.52 1202.15h4.83v1.90h-4.83zM1472.83 1202.15h4.83v1.90h-4.83zM1154.01 1276.10h4.83v1.90h-4.83zM1472.83 1276.10h4.83v1.90h-4.83zM1100.88 1350.05h4.83v1.90h-4.83zM1231.30 1350.05h4.83v1.90h-4.83zM1313.42 1350.05h4.83v1.90h-4.83zM1545.29 1350.05h4.83v1.90h-4.83zM1579.10 1350.05h4.83v1.90h-4.83zM1666.05 1350.05h4.83v1.90h-4.83zM1067.06 1424.00h4.83v1.90h-4.83zM1260.28 1424.00h4.83v1.90h-4.83zM1414.86 1424.00h4.83v1.90h-4.83zM1472.83 1424.00h4.83v1.90h-4.83zM1482.49 1424.00h4.83v1.90h-4.83zM1501.81 1424.00h4.83v1.90h-4.83zM1583.93 1424.00h4.83v1.90h-4.83zM1666.05 1424.00h4.83v1.90h-4.83zM1197.49 1497.95h4.83v1.90h-4.83zM1231.30 1497.95h4.83v1.90h-4.83zM1260.28 1497.95h4.83v1.90h-4.83zM1284.44 1497.95h9.66v1.90h-9.66zM1313.42 1497.95h4.83v1.90h-4.83zM1405.20 1497.95h4.83v1.90h-4.83zM1439.02 1497.95h4.83v1.90h-4.83zM1482.49 1497.95h4.83v1.90h-4.83zM1583.93 1497.95h4.83v1.90h-4.83zM1598.43 1497.95h4.83v1.90h-4.83zM1067.06 1571.90h4.83v1.90h-4.83zM1115.37 1571.90h4.83v1.90h-4.83zM1197.49 1571.90h4.83v1.90h-4.83zM1231.30 1571.90h4.83v1.90h-4.83zM1356.90 1571.90h4.83v1.90h-4.83zM1419.69 1571.90h4.83v1.90h-4.83zM1472.83 1571.90h4.83v1.90h-4.83zM1501.81 1571.90h4.83v1.90h-4.83zM1598.43 1571.90h4.83v1.90h-4.83zM1139.52 1645.85h4.83v1.90h-4.83zM1183.00 1645.85h4.83v1.90h-4.83zM1289.27 1645.85h4.83v1.90h-4.83zM1405.20 1645.85h4.83v1.90h-4.83zM1501.81 1645.85h4.83v1.90h-4.83zM1598.43 1645.85h4.83v1.90h-4.83zM1067.06 1719.80h4.83v1.90h-4.83zM1100.88 1719.80h4.83v1.90h-4.83zM1120.20 1719.80h4.83v1.90h-4.83zM1260.28 1719.80h4.83v1.90h-4.83zM1405.20 1719.80h4.83v1.90h-4.83zM1472.83 1719.80h4.83v1.90h-4.83zM1598.43 1719.80h4.83v1.90h-4.83zM1666.05 1719.80h4.83v1.90h-4.83zM1067.06 1793.75h4.83v1.90h-4.83zM1231.30 1793.75h4.83v1.90h-4.83zM1289.27 1793.75h4.83v1.90h-4.83zM1313.42 1793.75h4.83v1.90h-4.83zM1405.20 1793.75h4.83v1.90h-4.83zM1472.83 1793.75h4.83v1.90h-4.83zM1501.81 1793.75h4.83v1.90h-4.83zM1579.10 1793.75h4.83v1.90h-4.83zM1656.39 1793.75h4.83v1.90h-4.83zM1115.37 1867.70h9.66v1.90h-9.66zM1197.49 1867.70h4.83v1.90h-4.83zM1641.90 1867.70h4.83v1.90h-4.83zM1661.22 1867.70h9.66v1.90h-9.66zM1115.37 1941.65h4.83v1.90h-4.83zM1579.10 1941.65h4.83v1.90h-4.83zM1067.06 2015.60h4.83v1.90h-4.83zM1115.37 2015.60h4.83v1.90h-4.83zM1197.49 2015.60h4.83v1.90h-4.83zM1414.86 2015.60h9.66v1.90h-9.66zM1501.81 2015.60h4.83v1.90h-4.83zM1598.43 2015.60h4.83v1.90h-4.83zM1666.05 2015.60h4.83v1.90h-4.83z"/>
<path fill="#67c1c8" d="M1134.69 1202.15h4.83v1.90h-4.83zM1202.32 1202.15h4.83v1.90h-4.83zM1226.47 1202.15h4.83v1.90h-4.83zM1236.13 1202.15h4.83v1.90h-4.83zM1366.56 1202.15h4.83v1.90h-4.83zM1202.32 1276.10h4.83v1.90h-4.83zM1627.41 1276.10h9.66v1.90h-9.66zM1091.21 1350.05h9.66v1.90h-9.66zM1178.16 1350.05h4.83v1.90h-4.83zM1366.56 1350.05h4.83v1.90h-4.83zM1530.80 1350.05h4.83v1.90h-4.83zM1226.47 1424.00h4.83v1.90h-4.83zM1236.13 1424.00h4.83v1.90h-4.83zM1530.80 1424.00h9.66v1.90h-9.66zM1632.24 1424.00h4.83v1.90h-4.83zM1337.57 1497.95h4.83v1.90h-4.83zM1385.88 1497.95h4.83v1.90h-4.83zM1530.80 1497.95h4.83v1.90h-4.83zM1096.04 1571.90h4.83v1.90h-4.83zM1178.16 1571.90h4.83v1.90h-4.83zM1202.32 1571.90h4.83v1.90h-4.83zM1226.47 1571.90h4.83v1.90h-4.83zM1366.56 1571.90h4.83v1.90h-4.83zM1530.80 1571.90h9.66v1.90h-9.66zM1134.69 1645.85h4.83v1.90h-4.83zM1178.16 1645.85h4.83v1.90h-4.83zM1211.98 1645.85h4.83v1.90h-4.83zM1236.13 1645.85h4.83v1.90h-4.83zM1627.41 1645.85h4.83v1.90h-4.83zM1178.16 1719.80h4.83v1.90h-4.83zM1202.32 1719.80h4.83v1.90h-4.83zM1236.13 1719.80h4.83v1.90h-4.83zM1366.56 1719.80h4.83v1.90h-4.83zM1091.21 1793.75h9.66v1.90h-9.66zM1178.16 1793.75h4.83v1.90h-4.83zM1202.32 1793.75h4.83v1.90h-4.83zM1236.13 1793.75h4.83v1.90h-4.83zM1337.57 1793.75h4.83v1.90h-4.83zM1385.88 1793.75h4.83v1.90h-4.83zM1530.80 1793.75h9.66v1.90h-9.66zM1632.24 1793.75h4.83v1.90h-4.83zM1091.21 1867.70h4.83v1.90h-4.83zM1144.35 1867.70h4.83v1.90h-4.83zM1236.13 1867.70h4.83v1.90h-4.83zM1337.57 1867.70h4.83v1.90h-4.83zM1632.24 1867.70h9.66v1.90h-9.66zM1096.04 1941.65h4.83v1.90h-4.83zM1211.98 1941.65h4.83v1.90h-4.83zM1226.47 1941.65h4.83v1.90h-4.83zM1366.56 1941.65h4.83v1.90h-4.83zM1535.63 1941.65h4.83v1.90h-4.83zM1158.84 2015.60h4.83v1.90h-4.83zM1178.16 2015.60h4.83v1.90h-4.83zM1211.98 2015.60h4.83v1.90h-4.83zM1226.47 2015.60h4.83v1.90h-4.83zM1342.40 2015.60h4.83v1.90h-4.83zM1366.56 2015.60h4.83v1.90h-4.83zM1632.24 2015.60h4.83v1.90h-4.83z"/>
<path fill="#659fda" d="M1197.49 1202.15h4.83v1.90h-4.83zM1274.78 1202.15h4.83v1.90h-4.83zM1289.27 1202.15h4.83v1.90h-4.83zM1583.93 1202.15h4.83v1.90h-4.83zM1646.73 1202.15h4.83v1.90h-4.83zM1120.20 1276.10h4.83v1.90h-4.83zM1260.28 1276.10h4.83v1.90h-4.83zM1289.27 1276.10h4.83v1.90h-4.83zM1424.52 1276.10h4.83v1.90h-4.83zM1439.02 1276.10h4.83v1.90h-4.83zM1545.29 1276.10h4.83v1.90h-4.83zM1564.61 1276.10h4.83v1.90h-4.83zM1579.10 1276.10h4.83v1.90h-4.83zM1666.05 1276.10h4.83v1.90h-4.83zM1067.06 1350.05h4.83v1.90h-4.83zM1115.37 1350.05h4.83v1.90h-4.83zM1139.52 1350.05h4.83v1.90h-4.83zM1154.01 1350.05h4.83v1.90h-4.83zM1197.49 1350.05h4.83v1.90h-4.83zM1405.20 1350.05h4.83v1.90h-4.83zM1564.61 1350.05h4.83v1.90h-4.83zM1274.78 1424.00h4.83v1.90h-4.83zM1356.90 1424.00h4.83v1.90h-4.83zM1405.20 1424.00h4.83v1.90h-4.83zM1439.02 1424.00h4.83v1.90h-4.83zM1579.10 1424.00h4.83v1.90h-4.83zM1646.73 1424.00h9.66v1.90h-9.66zM1183.00 1497.95h4.83v1.90h-4.83zM1545.29 1497.95h4.83v1.90h-4.83zM1646.73 1497.95h9.66v1.90h-9.66zM1139.52 1571.90h4.83v1.90h-4.83zM1154.01 1571.90h4.83v1.90h-4.83zM1274.78 1571.90h4.83v1.90h-4.83zM1545.29 1571.90h4.83v1.90h-4.83zM1583.93 1571.90h4.83v1.90h-4.83zM1666.05 1571.90h4.83v1.90h-4.83zM1274.78 1645.85h4.83v1.90h-4.83zM1356.90 1645.85h4.83v1.90h-4.83zM1414.86 1645.85h4.83v1.90h-4.83zM1424.52 1645.85h4.83v1.90h-4.83zM1439.02 1645.85h4.83v1.90h-4.83zM1545.29 1645.85h4.83v1.90h-4.83zM1105.71 1719.80h4.83v1.90h-4.83zM1144.35 1719.80h4.83v1.90h-4.83zM1154.01 1719.80h4.83v1.90h-4.83zM1183.00 1719.80h4.83v1.90h-4.83zM1231.30 1719.80h4.83v1.90h-4.83zM1274.78 1719.80h4.83v1.90h-4.83zM1289.27 1719.80h4.83v1.90h-4.83zM1424.52 1719.80h4.83v1.90h-4.83zM1583.93 1719.80h4.83v1.90h-4.83zM1139.52 1793.75h4.83v1.90h-4.83zM1154.01 1793.75h4.83v1.90h-4.83zM1183.00 1793.75h4.83v1.90h-4.83zM1197.49 1793.75h4.83v1.90h-4.83zM1545.29 1793.75h4.83v1.90h-4.83zM1564.61 1793.75h4.83v1.90h-4.83zM1583.93 1793.75h4.83v1.90h-4.83zM1646.73 1793.75h4.83v1.90h-4.83zM1424.52 1867.70h4.83v1.90h-4.83zM1439.02 1867.70h4.83v1.90h-4.83zM1545.29 1867.70h4.83v1.90h-4.83zM1564.61 1867.70h4.83v1.90h-4.83zM1579.10 1867.70h9.66v1.90h-9.66zM1646.73 1867.70h4.83v1.90h-4.83zM1067.06 1941.65h4.83v1.90h-4.83zM1100.88 1941.65h4.83v1.90h-4.83zM1139.52 1941.65h9.66v1.90h-9.66zM1197.49 1941.65h4.83v1.90h-4.83zM1260.28 1941.65h4.83v1.90h-4.83zM1424.52 1941.65h4.83v1.90h-4.83zM1545.29 1941.65h4.83v1.90h-4.83zM1564.61 1941.65h4.83v1.90h-4.83zM1274.78 2015.60h4.83v1.90h-4.83zM1356.90 2015.60h4.83v1.90h-4.83zM1439.02 2015.60h4.83v1.90h-4.83zM1535.63 2015.60h4.83v1.90h-4.83zM1545.29 2015.60h4.83v1.90h-4.83zM1564.61 2015.60h4.83v1.90h-4.83zM1583.93 2015.60h4.83v1.90h-4.83zM1646.73 2015.60h4.83v1.90h-4.83z"/>
<path fill="#83cca6" d="M1207.15 1202.15h4.83v1.90h-4.83zM1637.07 1202.15h4.83v1.90h-4.83zM1207.15 1276.10h4.83v1.90h-4.83zM1250.62 1276.10h4.83v1.90h-4.83zM1294.10 1276.10h4.83v1.90h-4.83zM1342.40 1276.10h4.83v1.90h-4.83zM1250.62 1350.05h4.83v1.90h-4.83zM1637.07 1424.00h4.83v1.90h-4.83zM1202.32 1497.95h4.83v1.90h-4.83zM1632.24 1497.95h4.83v1.90h-4.83zM1221.64 1571.90h4.83v1.90h-4.83zM1294.10 1571.90h4.83v1.90h-4.83zM1250.62 1645.85h4.83v1.90h-4.83zM1342.40 1645.85h4.83v1.90h-4.83zM1207.15 1719.80h4.83v1.90h-4.83zM1250.62 1719.80h4.83v1.90h-4.83zM1158.84 1793.75h4.83v1.90h-4.83zM1294.10 1793.75h4.83v1.90h-4.83zM1221.64 1941.65h4.83v1.90h-4.83zM1250.62 1941.65h4.83v1.90h-4.83zM1294.10 1941.65h4.83v1.90h-4.83z"/>
<path fill="#95cc99" d="M1221.64 1202.15h4.83v1.90h-4.83zM1221.64 1350.05h4.83v1.90h-4.83zM1342.40 1350.05h4.83v1.90h-4.83zM1221.64 1424.00h4.83v1.90h-4.83zM1250.62 1424.00h4.83v1.90h-4.83zM1342.40 1424.00h4.83v1.90h-4.83zM1250.62 1497.95h4.83v1.90h-4.83zM1627.41 1497.95h4.83v1.90h-4.83zM1250.62 1571.90h4.83v1.90h-4.83zM1207.15 1645.85h4.83v1.90h-4.83zM1158.84 1719.80h4.83v1.90h-4.83zM1342.40 1793.75h4.83v1.90h-4.83zM1627.41 1941.65h4.83v1.90h-4.83zM1250.62 2015.60h4.83v1.90h-4.83zM1294.10 2015.60h4.83v1.90h-4.83z"/>
<path fill="#5b75c2" d="M1298.93 1202.15h4.83v1.90h-4.83zM1612.92 1202.15h4.83v1.90h-4.83zM1757.83 1202.15h4.83v1.90h-4.83zM1902.75 1202.15h4.83v1.90h-4.83zM1298.93 1276.10h4.83v1.90h-4.83zM1612.92 1276.10h4.83v1.90h-4.83zM1757.83 1276.10h4.83v1.90h-4.83zM1902.75 1276.10h4.83v1.90h-4.83zM1298.93 1350.05h4.83v1.90h-4.83zM1612.92 1350.05h4.83v1.90h-4.83zM1757.83 1350.05h4.83v1.90h-4.83zM1902.75 1350.05h4.83v1.90h-4.83zM1298.93 1424.00h4.83v1.90h-4.83zM1612.92 1424.00h4.83v1.90h-4.83zM1757.83 1424.00h4.83v1.90h-4.83zM1902.75 1424.00h4.83v1.90h-4.83zM1298.93 1497.95h4.83v1.90h-4.83zM1612.92 1497.95h4.83v1.90h-4.83zM1757.83 1497.95h4.83v1.90h-4.83zM1902.75 1497.95h4.83v1.90h-4.83zM1298.93 1571.90h4.83v1.90h-4.83zM1612.92 1571.90h4.83v1.90h-4.83zM1757.83 1571.90h4.83v1.90h-4.83zM1902.75 1571.90h4.83v1.90h-4.83zM1298.93 1645.85h4.83v1.90h-4.83zM1612.92 1645.85h4.83v1.90h-4.83zM1757.83 1645.85h4.83v1.90h-4.83zM1902.75 1645.85h4.83v1.90h-4.83zM1298.93 1719.80h4.83v1.90h-4.83zM1612.92 1719.80h4.83v1.90h-4.83zM1757.83 1719.80h4.83v1.90h-4.83zM1902.75 1719.80h4.83v1.90h-4.83zM1298.93 1793.75h4.83v1.90h-4.83zM1612.92 1793.75h4.83v1.90h-4.83zM1757.83 1793.75h4.83v1.90h-4.83zM1902.75 1793.75h4.83v1.90h-4.83zM1298.93 1867.70h4.83v1.90h-4.83zM1612.92 1867.70h4.83v1.90h-4.83zM1757.83 1867.70h4.83v1.90h-4.83zM1902.75 1867.70h4.83v1.90h-4.83zM1298.93 1941.65h4.83v1.90h-4.83zM1612.92 1941.65h4.83v1.90h-4.83zM1757.83 1941.65h4.83v1.90h-4.83zM1902.75 1941.65h4.83v1.90h-4.83zM1298.93 2015.60h4.83v1.90h-4.83zM1612.92 2015.60h4.83v1.90h-4.83zM1757.83 2015.60h4.83v1.90h-4.83zM1902.75 2015.60h4.83v1.90h-4.83z"/>
<path fill="#68bbd1" d="M1342.40 1202.15h4.83v1.90h-4.83zM1385.88 1202.15h4.83v1.90h-4.83zM1091.21 1276.10h9.66v1.90h-9.66zM1337.57 1276.10h4.83v1.90h-4.83zM1535.63 1276.10h4.83v1.90h-4.83zM1081.55 1350.05h4.83v1.90h-4.83zM1134.69 1350.05h4.83v1.90h-4.83zM1144.35 1350.05h4.83v1.90h-4.83zM1211.98 1350.05h4.83v1.90h-4.83zM1294.10 1350.05h4.83v1.90h-4.83zM1535.63 1350.05h4.83v1.90h-4.83zM1096.04 1424.00h4.83v1.90h-4.83zM1337.57 1424.00h4.83v1.90h-4.83zM1091.21 1497.95h4.83v1.90h-4.83zM1178.16 1497.95h4.83v1.90h-4.83zM1337.57 1571.90h4.83v1.90h-4.83zM1632.24 1571.90h4.83v1.90h-4.83zM1202.32 1645.85h4.83v1.90h-4.83zM1226.47 1645.85h4.83v1.90h-4.83zM1385.88 1719.80h4.83v1.90h-4.83zM1632.24 1719.80h9.66v1.90h-9.66zM1144.35 1793.75h4.83v1.90h-4.83zM1211.98 1793.75h4.83v1.90h-4.83zM1081.55 1867.70h4.83v1.90h-4.83zM1211.98 1867.70h4.83v1.90h-4.83zM1530.80 1867.70h9.66v1.90h-9.66zM1081.55 1941.65h4.83v1.90h-4.83zM1236.13 1941.65h4.83v1.90h-4.83zM1337.57 1941.65h4.83v1.90h-4.83zM1096.04 2015.60h4.83v1.90h-4.83zM1134.69 2015.60h4.83v1.90h-4.83zM1530.80 2015.60h4.83v1.90h-4.83z"/>
<path fill="#6296d6" d="M1405.20 1202.15h4.83v1.90h-4.83zM1545.29 1202.15h4.83v1.90h-4.83zM1661.22 1202.15h9.66v1.90h-9.66zM1067.06 1276.10h4.83v1.90h-4.83zM1105.71 1276.10h4.83v1.90h-4.83zM1197.49 1276.10h4.83v1.90h-4.83zM1274.78 1276.10h4.83v1.90h-4.83zM1356.90 1276.10h4.83v1.90h-4.83zM1414.86 1276.10h4.83v1.90h-4.83zM1583.93 1276.10h4.83v1.90h-4.83zM1598.43 1276.10h4.83v1.90h-4.83zM1260.28 1350.05h4.83v1.90h-4.83zM1284.44 1350.05h4.83v1.90h-4.83zM1414.86 1350.05h4.83v1.90h-4.83zM1472.83 1350.05h4.83v1.90h-4.83zM1501.81 1350.05h4.83v1.90h-4.83zM1646.73 1350.05h4.83v1.90h-4.83zM1661.22 1350.05h4.83v1.90h-4.83zM1105.71 1424.00h4.83v1.90h-4.83zM1154.01 1424.00h4.83v1.90h-4.83zM1197.49 1424.00h4.83v1.90h-4.83zM1231.30 1424.00h4.83v1.90h-4.83zM1289.27 1424.00h4.83v1.90h-4.83zM1067.06 1497.95h4.83v1.90h-4.83zM1100.88 1497.95h4.83v1.90h-4.83zM1120.20 1497.95h4.83v1.90h-4.83zM1139.52 1497.95h4.83v1.90h-4.83zM1154.01 1497.95h4.83v1.90h-4.83zM1356.90 1497.95h4.83v1.90h-4.83zM1414.86 1497.95h9.66v1.90h-9.66zM1120.20 1571.90h4.83v1.90h-4.83zM1183.00 1571.90h4.83v1.90h-4.83zM1260.28 1571.90h4.83v1.90h-4.83zM1289.27 1571.90h4.83v1.90h-4.83zM1313.42 1571.90h4.83v1.90h-4.83zM1405.20 1571.90h4.83v1.90h-4.83zM1564.61 1571.90h4.83v1.90h-4.83zM1120.20 1645.85h4.83v1.90h-4.83zM1260.28 1645.85h4.83v1.90h-4.83zM1472.83 1645.85h4.83v1.90h-4.83zM1579.10 1645.85h4.83v1.90h-4.83zM1661.22 1645.85h4.83v1.90h-4.83zM1139.52 1719.80h4.83v1.90h-4.83zM1197.49 1719.80h4.83v1.90h-4.83zM1414.86 1719.80h9.66v1.90h-9.66zM1482.49 1719.80h4.83v1.90h-4.83zM1501.81 1719.80h4.83v1.90h-4.83zM1564.61 1719.80h4.83v1.90h-4.83zM1646.73 1719.80h4.83v1.90h-4.83zM1120.20 1793.75h4.83v1.90h-4.83zM1260.28 1793.75h4.83v1.90h-4.83zM1356.90 1793.75h4.83v1.90h-4.83zM1414.86 1793.75h4.83v1.90h-4.83zM1067.06 1867.70h4.83v1.90h-4.83zM1139.52 1867.70h4.83v1.90h-4.83zM1154.01 1867.70h4.83v1.90h-4.83zM1231.30 1867.70h4.83v1.90h-4.83zM1284.44 1867.70h4.83v1.90h-4.83zM1405.20 1867.70h4.83v1.90h-4.83zM1120.20 1941.65h4.83v1.90h-4.83zM1183.00 1941.65h4.83v1.90h-4.83zM1356.90 1941.65h4.83v1.90h-4.83zM1405.20 1941.65h4.83v1.90h-4.83zM1472.83 1941.65h4.83v1.90h-4.83zM1583.93 1941.65h4.83v1.90h-4.83zM1598.43 1941.65h4.83v1.90h-4.83zM1656.39 1941.65h4.83v1.90h-4.83zM1666.05 1941.65h4.83v1.90h-4.83zM1120.20 2015.60h4.83v1.90h-4.83zM1284.44 2015.60h4.83v1.90h-4.83zM1405.20 2015.60h4.83v1.90h-4.83zM1641.90 2015.60h4.83v1.90h-4.83z"/>
<path fill="#5765b6" d="M1482.49 1202.15h4.83v1.90h-4.83zM1100.88 1276.10h4.83v1.90h-4.83zM1231.30 1276.10h4.83v1.90h-4.83zM1482.49 1276.10h4.83v1.90h-4.83zM1641.90 1276.10h4.83v1.90h-4.83zM1583.93 1350.05h4.83v1.90h-4.83zM1641.90 1350.05h4.83v1.90h-4.83zM1656.39 1350.05h4.83v1.90h-4.83zM1100.88 1424.00h4.83v1.90h-4.83zM1183.00 1424.00h4.83v1.90h-4.83zM1313.42 1424.00h4.83v1.90h-4.83zM1419.69 1424.00h4.83v1.90h-4.83zM1641.90 1424.00h4.83v1.90h-4.83zM1656.39 1424.00h4.83v1.90h-4.83zM1115.37 1497.95h4.83v1.90h-4.83zM1501.81 1497.95h4.83v1.90h-4.83zM1641.90 1497.95h4.83v1.90h-4.83zM1656.39 1497.95h4.83v1.90h-4.83zM1115.37 1645.85h4.83v1.90h-4.83zM1641.90 1645.85h4.83v1.90h-4.83zM1666.05 1645.85h4.83v1.90h-4.83zM1284.44 1719.80h4.83v1.90h-4.83zM1641.90 1719.80h4.83v1.90h-4.83zM1656.39 1719.80h4.83v1.90h-4.83zM1284.44 1793.75h4.83v1.90h-4.83zM1419.69 1793.75h4.83v1.90h-4.83zM1482.49 1793.75h4.83v1.90h-4.83zM1666.05 1793.75h4.83v1.90h-4.83zM1482.49 1867.70h4.83v1.90h-4.83zM1289.27 1941.65h4.83v1.90h-4.83zM1414.86 1941.65h9.66v1.90h-9.66zM1482.49 1941.65h4.83v1.90h-4.83zM1183.00 2015.60h4.83v1.90h-4.83zM1313.42 2015.60h4.83v1.90h-4.83zM1482.49 2015.60h4.83v1.90h-4.83z"/>
<path fill="#89cda1" d="M1057.40 1571.90h4.83v1.90h-4.83z"/>
<path fill="#e9bc62" d="M1062.23 1571.90h4.83v1.90h-4.83z"/>
<path fill="#f1f17a" d="M1100.88 1571.90h9.66v1.90h-9.66z"/>
<path fill="#efd167" d="M1100.88 1645.85h9.66v1.90h-9.66zM1337.57 1719.80h4.83v1.90h-4.83z"/></g>
<rect x="1057.40" y="1192.45" width="1083.00" height="854.15" fill="none" stroke="#151111" stroke-width="2.85"/>
<path d="M1192.78 2046.60v-14M1328.15 2046.60v-14M1463.53 2046.60v-14M1598.90 2046.60v-14M1734.28 2046.60v-14M1869.65 2046.60v-14M2005.03 2046.60v-14M1057.40 1363.28h14M1057.40 1534.11h14M1057.40 1704.94h14M1057.40 1875.77h14" stroke="#1a1a1a" stroke-width="2.6" fill="none"/>
<g class="t">
<text transform="translate(1057.4 2110.3) scale(0.96 1)" text-anchor="middle">0</text>
<text transform="translate(1192.8 2110.3) scale(0.96 1)" text-anchor="middle">10</text>
<text transform="translate(1328.2 2110.3) scale(0.96 1)" text-anchor="middle">20</text>
<text transform="translate(1463.5 2110.3) scale(0.96 1)" text-anchor="middle">30</text>
<text transform="translate(1598.9 2110.3) scale(0.96 1)" text-anchor="middle">40</text>
<text transform="translate(1734.3 2110.3) scale(0.96 1)" text-anchor="middle">50</text>
<text transform="translate(1869.7 2110.3) scale(0.96 1)" text-anchor="middle">60</text>
<text transform="translate(2005.0 2110.3) scale(0.96 1)" text-anchor="middle">70</text>
<text transform="translate(2140.4 2110.3) scale(0.96 1)" text-anchor="middle">80</text>
<text transform="translate(1035.9 1206.5) scale(0.95 1)" text-anchor="end">10</text>
<text transform="translate(1035.9 1377.3) scale(0.95 1)" text-anchor="end">5</text>
<text transform="translate(1035.9 1548.1) scale(0.95 1)" text-anchor="end">0</text>
<text transform="translate(1035.9 1718.9) scale(0.95 1)" text-anchor="end">−5</text>
<text transform="translate(1035.9 1889.8) scale(0.95 1)" text-anchor="end">−10</text>
<text transform="translate(1035.9 2060.6) scale(0.95 1)" text-anchor="end">−15</text>
<text x="1598.9" y="2177.9" text-anchor="middle">距离/m</text>
<text x="1598.9" y="2260.6" text-anchor="middle" style="font-size:52px">(c) CFAR-Burg处理后</text>
<text transform="translate(920.9 1619.5) rotate(-90)" text-anchor="middle" style="font-size:52px">速度/(m·s<tspan font-size="33" dy="-18">−1</tspan><tspan dy="18">)</tspan></text>
</g>
</svg>
</body></html>
